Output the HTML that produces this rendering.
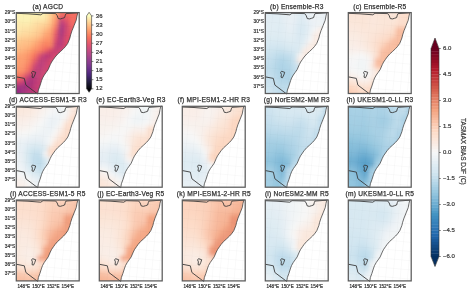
<!DOCTYPE html>
<html><head><meta charset="utf-8"><title>TASMAX bias</title><style>
html,body{margin:0;padding:0;background:#fff;}
body{width:470px;height:290px;position:relative;overflow:hidden;font-family:"Liberation Sans",sans-serif;color:#333;}
svg.ov{position:absolute;left:0;top:0;width:470px;height:290px;}
#wrap{position:absolute;left:0;top:0;width:470px;height:290px;background:#fff;filter:blur(0.3px);}
.t{position:absolute;width:120px;text-align:center;font-size:6.6px;line-height:8px;white-space:nowrap;color:#333;letter-spacing:0.25px;text-indent:0.25px;-webkit-text-stroke:0.25px #333;}
.ll{position:absolute;width:30px;text-align:right;font-size:4.8px;line-height:6px;white-space:nowrap;-webkit-text-stroke:0.2px #333;}
.lo{position:absolute;width:30px;text-align:center;font-size:4.6px;line-height:6px;white-space:nowrap;-webkit-text-stroke:0.2px #333;}
.cl{position:absolute;font-size:6px;line-height:7px;white-space:nowrap;-webkit-text-stroke:0.2px #333;}
.cbt{position:absolute;font-size:6.45px;line-height:7px;white-space:nowrap;transform-origin:0 0;transform:rotate(90deg);-webkit-text-stroke:0.2px #333;}
.fr{fill:none;stroke:#5a5a5a;stroke-width:1.25;}
.cbo{fill:none;stroke:#333;stroke-width:0.6;}
.tk{stroke:#333;stroke-width:0.6;fill:none;}
.ln{fill:none;stroke:#333;stroke-width:0.85;stroke-linejoin:round;}
.cst{stroke:#3c3c3c;stroke-width:0.75;}
</style></head><body><div id="wrap">
<svg class="ov" viewBox="0 0 470 290"><defs><clipPath id="land"><polygon points="0.3,0.6 62.2,0.6 61,4 60.2,8.3 58.1,13.5 56,18.7 54.6,23 53.9,26 51.8,31.3 49.5,34.5 47.59,36.6 44.52,39.5 41.7,42 39.1,45 37.5,47.3 35.6,50 34.3,52.6 32.2,57.5 30.1,60.5 28.3,63 26.6,66 25.6,68.6 23.9,74 22.4,78 21.7,82 21.7,81.5 0.3,81.5"/></clipPath><clipPath id="frc"><rect x="0.3" y="0.6" width="62.9" height="80.9"/></clipPath><filter id="bl" x="-0.1" y="-0.1" width="1.2" height="1.2"><feGaussianBlur stdDeviation="1.9"/></filter><clipPath id="ocean"><polygon points="62.2,0.6 63.2,0.6 63.2,81.5 21.7,81.5 21.7,82 22.4,78 23.9,74 25.6,68.6 26.6,66 28.3,63 30.1,60.5 32.2,57.5 34.3,52.6 35.6,50 37.5,47.3 39.1,45 41.7,42 44.52,39.5 47.59,36.6 49.5,34.5 51.8,31.3 53.9,26 54.6,23 56,18.7 58.1,13.5 60.2,8.3 61,4"/></clipPath><path id="grd" clip-path="url(#land)" d="M-1 0.41 L65 6.35M-1 9.61 L65 15.55M-1 18.81 L65 24.75M-1 28.01 L65 33.95M-1 37.21 L65 43.15M-1 46.41 L65 52.35M-1 55.61 L65 61.55M-1 64.81 L65 70.75M-1 74.01 L65 79.95M-1 83.21 L65 89.15M-6.99 83L0.66 -1M0.36 83L8.01 -1M7.71 83L15.36 -1M15.06 83L22.71 -1M22.41 83L30.06 -1M29.76 83L37.41 -1M37.11 83L44.76 -1M44.46 83L52.11 -1M51.81 83L59.46 -1M59.16 83L66.81 -1M66.51 83L74.16 -1" stroke="#000" stroke-opacity="0.04" stroke-width="0.45" fill="none"/><path id="grdo" clip-path="url(#ocean)" d="M-1 0.41 L65 6.35M-1 9.61 L65 15.55M-1 18.81 L65 24.75M-1 28.01 L65 33.95M-1 37.21 L65 43.15M-1 46.41 L65 52.35M-1 55.61 L65 61.55M-1 64.81 L65 70.75M-1 74.01 L65 79.95M-1 83.21 L65 89.15M-6.99 83L0.66 -1M0.36 83L8.01 -1M7.71 83L15.36 -1M15.06 83L22.71 -1M22.41 83L30.06 -1M29.76 83L37.41 -1M37.11 83L44.76 -1M44.46 83L52.11 -1M51.81 83L59.46 -1M59.16 83L66.81 -1M66.51 83L74.16 -1" stroke="#000" stroke-opacity="0.06" stroke-width="0.45" fill="none"/><g id="lines"><polyline class="ln cst" points="62.2,0 61.8,0.6 61,4 60.2,8.3 58.1,13.5 56,18.7 54.6,23 53.9,26 51.8,31.3 49.5,34.5 47.59,36.6 44.52,39.5 41.7,42 39.1,45 37.5,47.3 35.6,50 34.3,52.6 32.2,57.5 30.1,60.5 28.3,63 26.6,66 25.6,68.6 23.9,74 22.4,78 21.7,82"/><polyline class="ln" points="0,1.3 12,1.8 24.8,2.8 27,1.3 39.7,1.6 41.2,3.6 42.3,6.6 44.5,6.9 46.5,6.3 48.6,5.6 49.3,3.2 50,1.6 55,1.3 61.5,0.8"/><polyline class="ln" points="0,64.8 8.3,66.4 9.9,73.1 15,77 21.7,82"/><polygon class="ln" points="16.5,59.3 19.7,60.3 18.8,63 17.5,65.7 16,65.2 16.4,62.5 15.6,60.5"/></g></defs><g transform="translate(16 12)"><g clip-path="url(#land)"><g filter="url(#bl)"><g transform="scale(5.2917 5.1250)"><rect x="-1" y="-1" width="1.05" height="1.05" fill="#fcf2b4"/><rect x="0" y="-1" width="1.05" height="1.05" fill="#fcf2b4"/><rect x="1" y="-1" width="1.05" height="1.05" fill="#fcf2b4"/><rect x="2" y="-1" width="1.05" height="1.05" fill="#fcf2b4"/><rect x="3" y="-1" width="1.05" height="1.05" fill="#fcf2b4"/><rect x="4" y="-1" width="1.05" height="1.05" fill="#fcf2b4"/><rect x="5" y="-1" width="1.05" height="1.05" fill="#fdeeb0"/><rect x="6" y="-1" width="1.05" height="1.05" fill="#fed194"/><rect x="7" y="-1" width="1.05" height="1.05" fill="#fea975"/><rect x="8" y="-1" width="1.05" height="1.05" fill="#f46b5e"/><rect x="9" y="-1" width="1.05" height="1.05" fill="#f46b5e"/><rect x="10" y="-1" width="1.05" height="1.05" fill="#f46b5e"/><rect x="11" y="-1" width="1.05" height="1.05" fill="#f46b5e"/><rect x="12" y="-1" width="1.05" height="1.05" fill="#f46b5e"/><rect x="-1" y="0" width="1.05" height="1.05" fill="#fcf2b4"/><rect x="0" y="0" width="1.05" height="1.05" fill="#fcf2b4"/><rect x="1" y="0" width="1.05" height="1.05" fill="#fcf2b4"/><rect x="2" y="0" width="1.05" height="1.05" fill="#fcf2b4"/><rect x="3" y="0" width="1.05" height="1.05" fill="#fcf2b4"/><rect x="4" y="0" width="1.05" height="1.05" fill="#fcf2b4"/><rect x="5" y="0" width="1.05" height="1.05" fill="#fdeeb0"/><rect x="6" y="0" width="1.05" height="1.05" fill="#fed194"/><rect x="7" y="0" width="1.05" height="1.05" fill="#fea975"/><rect x="8" y="0" width="1.05" height="1.05" fill="#f46b5e"/><rect x="9" y="0" width="1.05" height="1.05" fill="#f46b5e"/><rect x="10" y="0" width="1.05" height="1.05" fill="#f46b5e"/><rect x="11" y="0" width="1.05" height="1.05" fill="#f46b5e"/><rect x="12" y="0" width="1.05" height="1.05" fill="#f46b5e"/><rect x="-1" y="1" width="1.05" height="1.05" fill="#fcf2b4"/><rect x="0" y="1" width="1.05" height="1.05" fill="#fcf2b4"/><rect x="1" y="1" width="1.05" height="1.05" fill="#fcf2b4"/><rect x="2" y="1" width="1.05" height="1.05" fill="#fcf2b4"/><rect x="3" y="1" width="1.05" height="1.05" fill="#fde8aa"/><rect x="4" y="1" width="1.05" height="1.05" fill="#fde8aa"/><rect x="5" y="1" width="1.05" height="1.05" fill="#fde4a7"/><rect x="6" y="1" width="1.05" height="1.05" fill="#fec78c"/><rect x="7" y="1" width="1.05" height="1.05" fill="#fd9569"/><rect x="8" y="1" width="1.05" height="1.05" fill="#c73e72"/><rect x="9" y="1" width="1.05" height="1.05" fill="#e45365"/><rect x="10" y="1" width="1.05" height="1.05" fill="#f46b5e"/><rect x="11" y="1" width="1.05" height="1.05" fill="#f46b5e"/><rect x="12" y="1" width="1.05" height="1.05" fill="#f46b5e"/><rect x="-1" y="2" width="1.05" height="1.05" fill="#fde8aa"/><rect x="0" y="2" width="1.05" height="1.05" fill="#fde8aa"/><rect x="1" y="2" width="1.05" height="1.05" fill="#fde8aa"/><rect x="2" y="2" width="1.05" height="1.05" fill="#fde8aa"/><rect x="3" y="2" width="1.05" height="1.05" fill="#fddea1"/><rect x="4" y="2" width="1.05" height="1.05" fill="#fed598"/><rect x="5" y="2" width="1.05" height="1.05" fill="#fed194"/><rect x="6" y="2" width="1.05" height="1.05" fill="#febd84"/><rect x="7" y="2" width="1.05" height="1.05" fill="#fa8262"/><rect x="8" y="2" width="1.05" height="1.05" fill="#ae347b"/><rect x="9" y="2" width="1.05" height="1.05" fill="#cf426e"/><rect x="10" y="2" width="1.05" height="1.05" fill="#ef6360"/><rect x="11" y="2" width="1.05" height="1.05" fill="#ef6360"/><rect x="12" y="2" width="1.05" height="1.05" fill="#ef6360"/><rect x="-1" y="3" width="1.05" height="1.05" fill="#fde8aa"/><rect x="0" y="3" width="1.05" height="1.05" fill="#fde8aa"/><rect x="1" y="3" width="1.05" height="1.05" fill="#fddea1"/><rect x="2" y="3" width="1.05" height="1.05" fill="#fddea1"/><rect x="3" y="3" width="1.05" height="1.05" fill="#fed598"/><rect x="4" y="3" width="1.05" height="1.05" fill="#fecb8f"/><rect x="5" y="3" width="1.05" height="1.05" fill="#feb981"/><rect x="6" y="3" width="1.05" height="1.05" fill="#fea572"/><rect x="7" y="3" width="1.05" height="1.05" fill="#ef6360"/><rect x="8" y="3" width="1.05" height="1.05" fill="#9c2e7e"/><rect x="9" y="3" width="1.05" height="1.05" fill="#cf426e"/><rect x="10" y="3" width="1.05" height="1.05" fill="#e95b62"/><rect x="11" y="3" width="1.05" height="1.05" fill="#e95b62"/><rect x="12" y="3" width="1.05" height="1.05" fill="#e95b62"/><rect x="-1" y="4" width="1.05" height="1.05" fill="#fddea1"/><rect x="0" y="4" width="1.05" height="1.05" fill="#fddea1"/><rect x="1" y="4" width="1.05" height="1.05" fill="#fed598"/><rect x="2" y="4" width="1.05" height="1.05" fill="#fed598"/><rect x="3" y="4" width="1.05" height="1.05" fill="#fecb8f"/><rect x="4" y="4" width="1.05" height="1.05" fill="#fec187"/><rect x="5" y="4" width="1.05" height="1.05" fill="#fea572"/><rect x="6" y="4" width="1.05" height="1.05" fill="#fd9b6c"/><rect x="7" y="4" width="1.05" height="1.05" fill="#e45365"/><rect x="8" y="4" width="1.05" height="1.05" fill="#a5317c"/><rect x="9" y="4" width="1.05" height="1.05" fill="#d8466b"/><rect x="10" y="4" width="1.05" height="1.05" fill="#e45365"/><rect x="11" y="4" width="1.05" height="1.05" fill="#e45365"/><rect x="12" y="4" width="1.05" height="1.05" fill="#e45365"/><rect x="-1" y="5" width="1.05" height="1.05" fill="#fecd90"/><rect x="0" y="5" width="1.05" height="1.05" fill="#fecd90"/><rect x="1" y="5" width="1.05" height="1.05" fill="#fec389"/><rect x="2" y="5" width="1.05" height="1.05" fill="#fec389"/><rect x="3" y="5" width="1.05" height="1.05" fill="#feb981"/><rect x="4" y="5" width="1.05" height="1.05" fill="#fea572"/><rect x="5" y="5" width="1.05" height="1.05" fill="#fc9168"/><rect x="6" y="5" width="1.05" height="1.05" fill="#fc9168"/><rect x="7" y="5" width="1.05" height="1.05" fill="#d8466b"/><rect x="8" y="5" width="1.05" height="1.05" fill="#ae347b"/><rect x="9" y="5" width="1.05" height="1.05" fill="#df4b68"/><rect x="10" y="5" width="1.05" height="1.05" fill="#df4b68"/><rect x="11" y="5" width="1.05" height="1.05" fill="#df4b68"/><rect x="12" y="5" width="1.05" height="1.05" fill="#df4b68"/><rect x="-1" y="6" width="1.05" height="1.05" fill="#fec389"/><rect x="0" y="6" width="1.05" height="1.05" fill="#fec389"/><rect x="1" y="6" width="1.05" height="1.05" fill="#feb981"/><rect x="2" y="6" width="1.05" height="1.05" fill="#feb981"/><rect x="3" y="6" width="1.05" height="1.05" fill="#fea572"/><rect x="4" y="6" width="1.05" height="1.05" fill="#fc9168"/><rect x="5" y="6" width="1.05" height="1.05" fill="#f97e61"/><rect x="6" y="6" width="1.05" height="1.05" fill="#fa8764"/><rect x="7" y="6" width="1.05" height="1.05" fill="#c73e72"/><rect x="8" y="6" width="1.05" height="1.05" fill="#b73779"/><rect x="9" y="6" width="1.05" height="1.05" fill="#df4b68"/><rect x="10" y="6" width="1.05" height="1.05" fill="#df4b68"/><rect x="11" y="6" width="1.05" height="1.05" fill="#df4b68"/><rect x="12" y="6" width="1.05" height="1.05" fill="#df4b68"/><rect x="-1" y="7" width="1.05" height="1.05" fill="#feb981"/><rect x="0" y="7" width="1.05" height="1.05" fill="#feb981"/><rect x="1" y="7" width="1.05" height="1.05" fill="#feaf79"/><rect x="2" y="7" width="1.05" height="1.05" fill="#fea572"/><rect x="3" y="7" width="1.05" height="1.05" fill="#fc9168"/><rect x="4" y="7" width="1.05" height="1.05" fill="#f97e61"/><rect x="5" y="7" width="1.05" height="1.05" fill="#ef6360"/><rect x="6" y="7" width="1.05" height="1.05" fill="#d8466b"/><rect x="7" y="7" width="1.05" height="1.05" fill="#bf3b75"/><rect x="8" y="7" width="1.05" height="1.05" fill="#cf426e"/><rect x="9" y="7" width="1.05" height="1.05" fill="#df4b68"/><rect x="10" y="7" width="1.05" height="1.05" fill="#df4b68"/><rect x="11" y="7" width="1.05" height="1.05" fill="#df4b68"/><rect x="12" y="7" width="1.05" height="1.05" fill="#df4b68"/><rect x="-1" y="8" width="1.05" height="1.05" fill="#fea572"/><rect x="0" y="8" width="1.05" height="1.05" fill="#fea572"/><rect x="1" y="8" width="1.05" height="1.05" fill="#fd9b6c"/><rect x="2" y="8" width="1.05" height="1.05" fill="#fc9168"/><rect x="3" y="8" width="1.05" height="1.05" fill="#f8745d"/><rect x="4" y="8" width="1.05" height="1.05" fill="#d8466b"/><rect x="5" y="8" width="1.05" height="1.05" fill="#b73779"/><rect x="6" y="8" width="1.05" height="1.05" fill="#bf3b75"/><rect x="7" y="8" width="1.05" height="1.05" fill="#d8466b"/><rect x="8" y="8" width="1.05" height="1.05" fill="#df4b68"/><rect x="9" y="8" width="1.05" height="1.05" fill="#df4b68"/><rect x="10" y="8" width="1.05" height="1.05" fill="#df4b68"/><rect x="11" y="8" width="1.05" height="1.05" fill="#df4b68"/><rect x="12" y="8" width="1.05" height="1.05" fill="#df4b68"/><rect x="-1" y="9" width="1.05" height="1.05" fill="#fd9b6c"/><rect x="0" y="9" width="1.05" height="1.05" fill="#fd9b6c"/><rect x="1" y="9" width="1.05" height="1.05" fill="#fd9b6c"/><rect x="2" y="9" width="1.05" height="1.05" fill="#fa8864"/><rect x="3" y="9" width="1.05" height="1.05" fill="#e95b62"/><rect x="4" y="9" width="1.05" height="1.05" fill="#bf3b75"/><rect x="5" y="9" width="1.05" height="1.05" fill="#bf3b75"/><rect x="6" y="9" width="1.05" height="1.05" fill="#d8466b"/><rect x="7" y="9" width="1.05" height="1.05" fill="#d8466b"/><rect x="8" y="9" width="1.05" height="1.05" fill="#df4b68"/><rect x="9" y="9" width="1.05" height="1.05" fill="#df4b68"/><rect x="10" y="9" width="1.05" height="1.05" fill="#df4b68"/><rect x="11" y="9" width="1.05" height="1.05" fill="#df4b68"/><rect x="12" y="9" width="1.05" height="1.05" fill="#df4b68"/><rect x="-1" y="10" width="1.05" height="1.05" fill="#fd9b6c"/><rect x="0" y="10" width="1.05" height="1.05" fill="#fd9b6c"/><rect x="1" y="10" width="1.05" height="1.05" fill="#fc9168"/><rect x="2" y="10" width="1.05" height="1.05" fill="#f8745d"/><rect x="3" y="10" width="1.05" height="1.05" fill="#cf426e"/><rect x="4" y="10" width="1.05" height="1.05" fill="#b73779"/><rect x="5" y="10" width="1.05" height="1.05" fill="#c73e72"/><rect x="6" y="10" width="1.05" height="1.05" fill="#d8466b"/><rect x="7" y="10" width="1.05" height="1.05" fill="#d8466b"/><rect x="8" y="10" width="1.05" height="1.05" fill="#df4b68"/><rect x="9" y="10" width="1.05" height="1.05" fill="#df4b68"/><rect x="10" y="10" width="1.05" height="1.05" fill="#df4b68"/><rect x="11" y="10" width="1.05" height="1.05" fill="#df4b68"/><rect x="12" y="10" width="1.05" height="1.05" fill="#df4b68"/><rect x="-1" y="11" width="1.05" height="1.05" fill="#fc9168"/><rect x="0" y="11" width="1.05" height="1.05" fill="#fc9168"/><rect x="1" y="11" width="1.05" height="1.05" fill="#fa8864"/><rect x="2" y="11" width="1.05" height="1.05" fill="#ef6360"/><rect x="3" y="11" width="1.05" height="1.05" fill="#bf3b75"/><rect x="4" y="11" width="1.05" height="1.05" fill="#bf3b75"/><rect x="5" y="11" width="1.05" height="1.05" fill="#cf426e"/><rect x="6" y="11" width="1.05" height="1.05" fill="#cf426e"/><rect x="7" y="11" width="1.05" height="1.05" fill="#cf426e"/><rect x="8" y="11" width="1.05" height="1.05" fill="#d8466b"/><rect x="9" y="11" width="1.05" height="1.05" fill="#d8466b"/><rect x="10" y="11" width="1.05" height="1.05" fill="#d8466b"/><rect x="11" y="11" width="1.05" height="1.05" fill="#d8466b"/><rect x="12" y="11" width="1.05" height="1.05" fill="#d8466b"/><rect x="-1" y="12" width="1.05" height="1.05" fill="#f8745d"/><rect x="0" y="12" width="1.05" height="1.05" fill="#f8745d"/><rect x="1" y="12" width="1.05" height="1.05" fill="#e95b62"/><rect x="2" y="12" width="1.05" height="1.05" fill="#bf3b75"/><rect x="3" y="12" width="1.05" height="1.05" fill="#b73779"/><rect x="4" y="12" width="1.05" height="1.05" fill="#c73e72"/><rect x="5" y="12" width="1.05" height="1.05" fill="#cf426e"/><rect x="6" y="12" width="1.05" height="1.05" fill="#cf426e"/><rect x="7" y="12" width="1.05" height="1.05" fill="#cf426e"/><rect x="8" y="12" width="1.05" height="1.05" fill="#d8466b"/><rect x="9" y="12" width="1.05" height="1.05" fill="#d8466b"/><rect x="10" y="12" width="1.05" height="1.05" fill="#d8466b"/><rect x="11" y="12" width="1.05" height="1.05" fill="#d8466b"/><rect x="12" y="12" width="1.05" height="1.05" fill="#d8466b"/><rect x="-1" y="13" width="1.05" height="1.05" fill="#df4b68"/><rect x="0" y="13" width="1.05" height="1.05" fill="#df4b68"/><rect x="1" y="13" width="1.05" height="1.05" fill="#c73e72"/><rect x="2" y="13" width="1.05" height="1.05" fill="#a5317c"/><rect x="3" y="13" width="1.05" height="1.05" fill="#b73779"/><rect x="4" y="13" width="1.05" height="1.05" fill="#c73e72"/><rect x="5" y="13" width="1.05" height="1.05" fill="#cf426e"/><rect x="6" y="13" width="1.05" height="1.05" fill="#cf426e"/><rect x="7" y="13" width="1.05" height="1.05" fill="#cf426e"/><rect x="8" y="13" width="1.05" height="1.05" fill="#cf426e"/><rect x="9" y="13" width="1.05" height="1.05" fill="#cf426e"/><rect x="10" y="13" width="1.05" height="1.05" fill="#cf426e"/><rect x="11" y="13" width="1.05" height="1.05" fill="#cf426e"/><rect x="12" y="13" width="1.05" height="1.05" fill="#cf426e"/><rect x="-1" y="14" width="1.05" height="1.05" fill="#a5317c"/><rect x="0" y="14" width="1.05" height="1.05" fill="#a5317c"/><rect x="1" y="14" width="1.05" height="1.05" fill="#9c2e7e"/><rect x="2" y="14" width="1.05" height="1.05" fill="#a5317c"/><rect x="3" y="14" width="1.05" height="1.05" fill="#bf3b75"/><rect x="4" y="14" width="1.05" height="1.05" fill="#c73e72"/><rect x="5" y="14" width="1.05" height="1.05" fill="#c73e72"/><rect x="6" y="14" width="1.05" height="1.05" fill="#c73e72"/><rect x="7" y="14" width="1.05" height="1.05" fill="#c73e72"/><rect x="8" y="14" width="1.05" height="1.05" fill="#cf426e"/><rect x="9" y="14" width="1.05" height="1.05" fill="#cf426e"/><rect x="10" y="14" width="1.05" height="1.05" fill="#cf426e"/><rect x="11" y="14" width="1.05" height="1.05" fill="#cf426e"/><rect x="12" y="14" width="1.05" height="1.05" fill="#cf426e"/><rect x="-1" y="15" width="1.05" height="1.05" fill="#932b80"/><rect x="0" y="15" width="1.05" height="1.05" fill="#932b80"/><rect x="1" y="15" width="1.05" height="1.05" fill="#a5317c"/><rect x="2" y="15" width="1.05" height="1.05" fill="#b73779"/><rect x="3" y="15" width="1.05" height="1.05" fill="#bf3b75"/><rect x="4" y="15" width="1.05" height="1.05" fill="#c73e72"/><rect x="5" y="15" width="1.05" height="1.05" fill="#c73e72"/><rect x="6" y="15" width="1.05" height="1.05" fill="#c73e72"/><rect x="7" y="15" width="1.05" height="1.05" fill="#c73e72"/><rect x="8" y="15" width="1.05" height="1.05" fill="#cf426e"/><rect x="9" y="15" width="1.05" height="1.05" fill="#cf426e"/><rect x="10" y="15" width="1.05" height="1.05" fill="#cf426e"/><rect x="11" y="15" width="1.05" height="1.05" fill="#cf426e"/><rect x="12" y="15" width="1.05" height="1.05" fill="#cf426e"/><rect x="-1" y="16" width="1.05" height="1.05" fill="#932b80"/><rect x="0" y="16" width="1.05" height="1.05" fill="#932b80"/><rect x="1" y="16" width="1.05" height="1.05" fill="#a5317c"/><rect x="2" y="16" width="1.05" height="1.05" fill="#b73779"/><rect x="3" y="16" width="1.05" height="1.05" fill="#bf3b75"/><rect x="4" y="16" width="1.05" height="1.05" fill="#c73e72"/><rect x="5" y="16" width="1.05" height="1.05" fill="#c73e72"/><rect x="6" y="16" width="1.05" height="1.05" fill="#c73e72"/><rect x="7" y="16" width="1.05" height="1.05" fill="#c73e72"/><rect x="8" y="16" width="1.05" height="1.05" fill="#cf426e"/><rect x="9" y="16" width="1.05" height="1.05" fill="#cf426e"/><rect x="10" y="16" width="1.05" height="1.05" fill="#cf426e"/><rect x="11" y="16" width="1.05" height="1.05" fill="#cf426e"/><rect x="12" y="16" width="1.05" height="1.05" fill="#cf426e"/></g></g></g><use href="#grd"/><use href="#grdo"/><use href="#lines"/><rect x="0.3" y="0.6" width="62.9" height="80.9" class="fr"/></g><g transform="translate(265 12)"><g clip-path="url(#land)"><g filter="url(#bl)"><g transform="scale(5.2917 5.1250)"><rect x="-1" y="-1" width="1.05" height="1.05" fill="#e1ecf3"/><rect x="0" y="-1" width="1.05" height="1.05" fill="#e1ecf3"/><rect x="1" y="-1" width="1.05" height="1.05" fill="#e1ecf3"/><rect x="2" y="-1" width="1.05" height="1.05" fill="#e1ecf3"/><rect x="3" y="-1" width="1.05" height="1.05" fill="#e4eef3"/><rect x="4" y="-1" width="1.05" height="1.05" fill="#e9f0f4"/><rect x="5" y="-1" width="1.05" height="1.05" fill="#e8f0f4"/><rect x="6" y="-1" width="1.05" height="1.05" fill="#e0ecf3"/><rect x="7" y="-1" width="1.05" height="1.05" fill="#e1ecf3"/><rect x="8" y="-1" width="1.05" height="1.05" fill="#eaf1f5"/><rect x="9" y="-1" width="1.05" height="1.05" fill="#eef3f5"/><rect x="10" y="-1" width="1.05" height="1.05" fill="#ecf2f5"/><rect x="11" y="-1" width="1.05" height="1.05" fill="#eaf1f5"/><rect x="12" y="-1" width="1.05" height="1.05" fill="#eaf1f5"/><rect x="-1" y="0" width="1.05" height="1.05" fill="#e1ecf3"/><rect x="0" y="0" width="1.05" height="1.05" fill="#e1ecf3"/><rect x="1" y="0" width="1.05" height="1.05" fill="#e1ecf3"/><rect x="2" y="0" width="1.05" height="1.05" fill="#e1ecf3"/><rect x="3" y="0" width="1.05" height="1.05" fill="#e4eef3"/><rect x="4" y="0" width="1.05" height="1.05" fill="#e9f0f4"/><rect x="5" y="0" width="1.05" height="1.05" fill="#e8f0f4"/><rect x="6" y="0" width="1.05" height="1.05" fill="#e0ecf3"/><rect x="7" y="0" width="1.05" height="1.05" fill="#e1ecf3"/><rect x="8" y="0" width="1.05" height="1.05" fill="#eaf1f5"/><rect x="9" y="0" width="1.05" height="1.05" fill="#eef3f5"/><rect x="10" y="0" width="1.05" height="1.05" fill="#ecf2f5"/><rect x="11" y="0" width="1.05" height="1.05" fill="#eaf1f5"/><rect x="12" y="0" width="1.05" height="1.05" fill="#eaf1f5"/><rect x="-1" y="1" width="1.05" height="1.05" fill="#e1ecf3"/><rect x="0" y="1" width="1.05" height="1.05" fill="#e1ecf3"/><rect x="1" y="1" width="1.05" height="1.05" fill="#e1ecf3"/><rect x="2" y="1" width="1.05" height="1.05" fill="#e0ecf3"/><rect x="3" y="1" width="1.05" height="1.05" fill="#e3edf3"/><rect x="4" y="1" width="1.05" height="1.05" fill="#e8f0f4"/><rect x="5" y="1" width="1.05" height="1.05" fill="#e7eff4"/><rect x="6" y="1" width="1.05" height="1.05" fill="#deebf2"/><rect x="7" y="1" width="1.05" height="1.05" fill="#dfebf3"/><rect x="8" y="1" width="1.05" height="1.05" fill="#e9f0f4"/><rect x="9" y="1" width="1.05" height="1.05" fill="#edf2f5"/><rect x="10" y="1" width="1.05" height="1.05" fill="#ecf2f5"/><rect x="11" y="1" width="1.05" height="1.05" fill="#ebf1f5"/><rect x="12" y="1" width="1.05" height="1.05" fill="#ebf1f5"/><rect x="-1" y="2" width="1.05" height="1.05" fill="#e1ecf3"/><rect x="0" y="2" width="1.05" height="1.05" fill="#e1ecf3"/><rect x="1" y="2" width="1.05" height="1.05" fill="#e0ecf3"/><rect x="2" y="2" width="1.05" height="1.05" fill="#dfecf3"/><rect x="3" y="2" width="1.05" height="1.05" fill="#e1edf3"/><rect x="4" y="2" width="1.05" height="1.05" fill="#e7eff4"/><rect x="5" y="2" width="1.05" height="1.05" fill="#e4eef4"/><rect x="6" y="2" width="1.05" height="1.05" fill="#dae9f2"/><rect x="7" y="2" width="1.05" height="1.05" fill="#dae9f2"/><rect x="8" y="2" width="1.05" height="1.05" fill="#e5eef4"/><rect x="9" y="2" width="1.05" height="1.05" fill="#ebf1f5"/><rect x="10" y="2" width="1.05" height="1.05" fill="#ecf2f5"/><rect x="11" y="2" width="1.05" height="1.05" fill="#edf2f5"/><rect x="12" y="2" width="1.05" height="1.05" fill="#edf2f5"/><rect x="-1" y="3" width="1.05" height="1.05" fill="#e0ecf3"/><rect x="0" y="3" width="1.05" height="1.05" fill="#e0ecf3"/><rect x="1" y="3" width="1.05" height="1.05" fill="#dfecf3"/><rect x="2" y="3" width="1.05" height="1.05" fill="#deebf2"/><rect x="3" y="3" width="1.05" height="1.05" fill="#e0ecf3"/><rect x="4" y="3" width="1.05" height="1.05" fill="#e5eff4"/><rect x="5" y="3" width="1.05" height="1.05" fill="#e2edf3"/><rect x="6" y="3" width="1.05" height="1.05" fill="#d8e8f1"/><rect x="7" y="3" width="1.05" height="1.05" fill="#d9e9f2"/><rect x="8" y="3" width="1.05" height="1.05" fill="#e6eff4"/><rect x="9" y="3" width="1.05" height="1.05" fill="#f6f6f7"/><rect x="10" y="3" width="1.05" height="1.05" fill="#f9ece4"/><rect x="11" y="3" width="1.05" height="1.05" fill="#f9ede6"/><rect x="12" y="3" width="1.05" height="1.05" fill="#f9ede6"/><rect x="-1" y="4" width="1.05" height="1.05" fill="#deebf2"/><rect x="0" y="4" width="1.05" height="1.05" fill="#deebf2"/><rect x="1" y="4" width="1.05" height="1.05" fill="#deebf2"/><rect x="2" y="4" width="1.05" height="1.05" fill="#deebf2"/><rect x="3" y="4" width="1.05" height="1.05" fill="#e0ecf3"/><rect x="4" y="4" width="1.05" height="1.05" fill="#e3eef3"/><rect x="5" y="4" width="1.05" height="1.05" fill="#e1ecf3"/><rect x="6" y="4" width="1.05" height="1.05" fill="#d8e8f1"/><rect x="7" y="4" width="1.05" height="1.05" fill="#dceaf2"/><rect x="8" y="4" width="1.05" height="1.05" fill="#ecf2f5"/><rect x="9" y="4" width="1.05" height="1.05" fill="#f9ece5"/><rect x="10" y="4" width="1.05" height="1.05" fill="#faebe3"/><rect x="11" y="4" width="1.05" height="1.05" fill="#f8f2ee"/><rect x="12" y="4" width="1.05" height="1.05" fill="#f8f2ee"/><rect x="-1" y="5" width="1.05" height="1.05" fill="#daeaf2"/><rect x="0" y="5" width="1.05" height="1.05" fill="#daeaf2"/><rect x="1" y="5" width="1.05" height="1.05" fill="#daeaf2"/><rect x="2" y="5" width="1.05" height="1.05" fill="#daeaf2"/><rect x="3" y="5" width="1.05" height="1.05" fill="#dceaf2"/><rect x="4" y="5" width="1.05" height="1.05" fill="#dfecf3"/><rect x="5" y="5" width="1.05" height="1.05" fill="#deebf2"/><rect x="6" y="5" width="1.05" height="1.05" fill="#dae9f2"/><rect x="7" y="5" width="1.05" height="1.05" fill="#e0ecf3"/><rect x="8" y="5" width="1.05" height="1.05" fill="#f3f5f6"/><rect x="9" y="5" width="1.05" height="1.05" fill="#faebe3"/><rect x="10" y="5" width="1.05" height="1.05" fill="#faebe3"/><rect x="11" y="5" width="1.05" height="1.05" fill="#f9efe9"/><rect x="12" y="5" width="1.05" height="1.05" fill="#f9efe9"/><rect x="-1" y="6" width="1.05" height="1.05" fill="#d4e6f1"/><rect x="0" y="6" width="1.05" height="1.05" fill="#d4e6f1"/><rect x="1" y="6" width="1.05" height="1.05" fill="#d4e6f1"/><rect x="2" y="6" width="1.05" height="1.05" fill="#d4e6f1"/><rect x="3" y="6" width="1.05" height="1.05" fill="#d6e7f1"/><rect x="4" y="6" width="1.05" height="1.05" fill="#d9e9f1"/><rect x="5" y="6" width="1.05" height="1.05" fill="#dbeaf2"/><rect x="6" y="6" width="1.05" height="1.05" fill="#ddebf2"/><rect x="7" y="6" width="1.05" height="1.05" fill="#e8f0f4"/><rect x="8" y="6" width="1.05" height="1.05" fill="#f9ece4"/><rect x="9" y="6" width="1.05" height="1.05" fill="#faebe3"/><rect x="10" y="6" width="1.05" height="1.05" fill="#f9ebe3"/><rect x="11" y="6" width="1.05" height="1.05" fill="#f9ece5"/><rect x="12" y="6" width="1.05" height="1.05" fill="#f9ece5"/><rect x="-1" y="7" width="1.05" height="1.05" fill="#cee4ef"/><rect x="0" y="7" width="1.05" height="1.05" fill="#cee4ef"/><rect x="1" y="7" width="1.05" height="1.05" fill="#cde3ef"/><rect x="2" y="7" width="1.05" height="1.05" fill="#cae2ee"/><rect x="3" y="7" width="1.05" height="1.05" fill="#cce2ee"/><rect x="4" y="7" width="1.05" height="1.05" fill="#d1e5f0"/><rect x="5" y="7" width="1.05" height="1.05" fill="#d6e7f1"/><rect x="6" y="7" width="1.05" height="1.05" fill="#dbeaf2"/><rect x="7" y="7" width="1.05" height="1.05" fill="#f9ebe3"/><rect x="8" y="7" width="1.05" height="1.05" fill="#faebe3"/><rect x="9" y="7" width="1.05" height="1.05" fill="#faebe3"/><rect x="10" y="7" width="1.05" height="1.05" fill="#f9efe8"/><rect x="11" y="7" width="1.05" height="1.05" fill="#f9eee8"/><rect x="12" y="7" width="1.05" height="1.05" fill="#f9eee8"/><rect x="-1" y="8" width="1.05" height="1.05" fill="#c9e1ee"/><rect x="0" y="8" width="1.05" height="1.05" fill="#c9e1ee"/><rect x="1" y="8" width="1.05" height="1.05" fill="#c5dfed"/><rect x="2" y="8" width="1.05" height="1.05" fill="#bddbea"/><rect x="3" y="8" width="1.05" height="1.05" fill="#bcdaea"/><rect x="4" y="8" width="1.05" height="1.05" fill="#c1ddec"/><rect x="5" y="8" width="1.05" height="1.05" fill="#cbe2ee"/><rect x="6" y="8" width="1.05" height="1.05" fill="#f7f5f4"/><rect x="7" y="8" width="1.05" height="1.05" fill="#faebe3"/><rect x="8" y="8" width="1.05" height="1.05" fill="#faebe3"/><rect x="9" y="8" width="1.05" height="1.05" fill="#f3f5f6"/><rect x="10" y="8" width="1.05" height="1.05" fill="#f7f6f6"/><rect x="11" y="8" width="1.05" height="1.05" fill="#f8f4f2"/><rect x="12" y="8" width="1.05" height="1.05" fill="#f8f4f2"/><rect x="-1" y="9" width="1.05" height="1.05" fill="#c4deec"/><rect x="0" y="9" width="1.05" height="1.05" fill="#c4deec"/><rect x="1" y="9" width="1.05" height="1.05" fill="#bfdceb"/><rect x="2" y="9" width="1.05" height="1.05" fill="#b4d6e8"/><rect x="3" y="9" width="1.05" height="1.05" fill="#b1d5e7"/><rect x="4" y="9" width="1.05" height="1.05" fill="#b7d8e8"/><rect x="5" y="9" width="1.05" height="1.05" fill="#c7e0ed"/><rect x="6" y="9" width="1.05" height="1.05" fill="#faebe3"/><rect x="7" y="9" width="1.05" height="1.05" fill="#faebe3"/><rect x="8" y="9" width="1.05" height="1.05" fill="#e7eff4"/><rect x="9" y="9" width="1.05" height="1.05" fill="#eef3f5"/><rect x="10" y="9" width="1.05" height="1.05" fill="#f4f6f6"/><rect x="11" y="9" width="1.05" height="1.05" fill="#f7f7f7"/><rect x="12" y="9" width="1.05" height="1.05" fill="#f7f7f7"/><rect x="-1" y="10" width="1.05" height="1.05" fill="#bfdceb"/><rect x="0" y="10" width="1.05" height="1.05" fill="#bfdceb"/><rect x="1" y="10" width="1.05" height="1.05" fill="#b9d9e9"/><rect x="2" y="10" width="1.05" height="1.05" fill="#afd4e6"/><rect x="3" y="10" width="1.05" height="1.05" fill="#acd2e6"/><rect x="4" y="10" width="1.05" height="1.05" fill="#b1d5e7"/><rect x="5" y="10" width="1.05" height="1.05" fill="#c0dceb"/><rect x="6" y="10" width="1.05" height="1.05" fill="#d5e7f1"/><rect x="7" y="10" width="1.05" height="1.05" fill="#e2edf3"/><rect x="8" y="10" width="1.05" height="1.05" fill="#edf2f5"/><rect x="9" y="10" width="1.05" height="1.05" fill="#f4f6f6"/><rect x="10" y="10" width="1.05" height="1.05" fill="#f6f7f7"/><rect x="11" y="10" width="1.05" height="1.05" fill="#f7f7f7"/><rect x="12" y="10" width="1.05" height="1.05" fill="#f7f7f7"/><rect x="-1" y="11" width="1.05" height="1.05" fill="#bfdceb"/><rect x="0" y="11" width="1.05" height="1.05" fill="#bfdceb"/><rect x="1" y="11" width="1.05" height="1.05" fill="#b9d9e9"/><rect x="2" y="11" width="1.05" height="1.05" fill="#afd4e6"/><rect x="3" y="11" width="1.05" height="1.05" fill="#abd2e5"/><rect x="4" y="11" width="1.05" height="1.05" fill="#aed3e6"/><rect x="5" y="11" width="1.05" height="1.05" fill="#bddbea"/><rect x="6" y="11" width="1.05" height="1.05" fill="#d5e7f1"/><rect x="7" y="11" width="1.05" height="1.05" fill="#e4eef4"/><rect x="8" y="11" width="1.05" height="1.05" fill="#f1f4f6"/><rect x="9" y="11" width="1.05" height="1.05" fill="#f7f7f7"/><rect x="10" y="11" width="1.05" height="1.05" fill="#f7f7f7"/><rect x="11" y="11" width="1.05" height="1.05" fill="#f7f7f7"/><rect x="12" y="11" width="1.05" height="1.05" fill="#f7f7f7"/><rect x="-1" y="12" width="1.05" height="1.05" fill="#c4deec"/><rect x="0" y="12" width="1.05" height="1.05" fill="#c4deec"/><rect x="1" y="12" width="1.05" height="1.05" fill="#bfdceb"/><rect x="2" y="12" width="1.05" height="1.05" fill="#b4d6e8"/><rect x="3" y="12" width="1.05" height="1.05" fill="#aed3e6"/><rect x="4" y="12" width="1.05" height="1.05" fill="#abd2e5"/><rect x="5" y="12" width="1.05" height="1.05" fill="#b9d9e9"/><rect x="6" y="12" width="1.05" height="1.05" fill="#d5e7f1"/><rect x="7" y="12" width="1.05" height="1.05" fill="#e4eef4"/><rect x="8" y="12" width="1.05" height="1.05" fill="#f1f4f6"/><rect x="9" y="12" width="1.05" height="1.05" fill="#f7f7f7"/><rect x="10" y="12" width="1.05" height="1.05" fill="#f7f7f7"/><rect x="11" y="12" width="1.05" height="1.05" fill="#f7f7f7"/><rect x="12" y="12" width="1.05" height="1.05" fill="#f7f7f7"/><rect x="-1" y="13" width="1.05" height="1.05" fill="#c9e1ee"/><rect x="0" y="13" width="1.05" height="1.05" fill="#c9e1ee"/><rect x="1" y="13" width="1.05" height="1.05" fill="#c4deec"/><rect x="2" y="13" width="1.05" height="1.05" fill="#b9d9e9"/><rect x="3" y="13" width="1.05" height="1.05" fill="#b3d6e7"/><rect x="4" y="13" width="1.05" height="1.05" fill="#b0d4e7"/><rect x="5" y="13" width="1.05" height="1.05" fill="#bedbea"/><rect x="6" y="13" width="1.05" height="1.05" fill="#d7e8f1"/><rect x="7" y="13" width="1.05" height="1.05" fill="#e6eff4"/><rect x="8" y="13" width="1.05" height="1.05" fill="#f1f4f6"/><rect x="9" y="13" width="1.05" height="1.05" fill="#f7f7f7"/><rect x="10" y="13" width="1.05" height="1.05" fill="#f7f7f7"/><rect x="11" y="13" width="1.05" height="1.05" fill="#f7f7f7"/><rect x="12" y="13" width="1.05" height="1.05" fill="#f7f7f7"/><rect x="-1" y="14" width="1.05" height="1.05" fill="#cee4ef"/><rect x="0" y="14" width="1.05" height="1.05" fill="#cee4ef"/><rect x="1" y="14" width="1.05" height="1.05" fill="#c9e1ee"/><rect x="2" y="14" width="1.05" height="1.05" fill="#bfdceb"/><rect x="3" y="14" width="1.05" height="1.05" fill="#bbdaea"/><rect x="4" y="14" width="1.05" height="1.05" fill="#bddbea"/><rect x="5" y="14" width="1.05" height="1.05" fill="#cbe2ee"/><rect x="6" y="14" width="1.05" height="1.05" fill="#ddebf2"/><rect x="7" y="14" width="1.05" height="1.05" fill="#e9f1f4"/><rect x="8" y="14" width="1.05" height="1.05" fill="#f2f5f6"/><rect x="9" y="14" width="1.05" height="1.05" fill="#f7f7f7"/><rect x="10" y="14" width="1.05" height="1.05" fill="#f7f7f7"/><rect x="11" y="14" width="1.05" height="1.05" fill="#f7f7f7"/><rect x="12" y="14" width="1.05" height="1.05" fill="#f7f7f7"/><rect x="-1" y="15" width="1.05" height="1.05" fill="#d1e5f0"/><rect x="0" y="15" width="1.05" height="1.05" fill="#d1e5f0"/><rect x="1" y="15" width="1.05" height="1.05" fill="#cce2ee"/><rect x="2" y="15" width="1.05" height="1.05" fill="#c1ddec"/><rect x="3" y="15" width="1.05" height="1.05" fill="#bfdceb"/><rect x="4" y="15" width="1.05" height="1.05" fill="#c4deec"/><rect x="5" y="15" width="1.05" height="1.05" fill="#d2e5f0"/><rect x="6" y="15" width="1.05" height="1.05" fill="#e0ecf3"/><rect x="7" y="15" width="1.05" height="1.05" fill="#ebf1f5"/><rect x="8" y="15" width="1.05" height="1.05" fill="#f3f5f6"/><rect x="9" y="15" width="1.05" height="1.05" fill="#f7f7f7"/><rect x="10" y="15" width="1.05" height="1.05" fill="#f7f7f7"/><rect x="11" y="15" width="1.05" height="1.05" fill="#f7f7f7"/><rect x="12" y="15" width="1.05" height="1.05" fill="#f7f7f7"/><rect x="-1" y="16" width="1.05" height="1.05" fill="#d1e5f0"/><rect x="0" y="16" width="1.05" height="1.05" fill="#d1e5f0"/><rect x="1" y="16" width="1.05" height="1.05" fill="#cce2ee"/><rect x="2" y="16" width="1.05" height="1.05" fill="#c1ddec"/><rect x="3" y="16" width="1.05" height="1.05" fill="#bfdceb"/><rect x="4" y="16" width="1.05" height="1.05" fill="#c4deec"/><rect x="5" y="16" width="1.05" height="1.05" fill="#d2e5f0"/><rect x="6" y="16" width="1.05" height="1.05" fill="#e0ecf3"/><rect x="7" y="16" width="1.05" height="1.05" fill="#ebf1f5"/><rect x="8" y="16" width="1.05" height="1.05" fill="#f3f5f6"/><rect x="9" y="16" width="1.05" height="1.05" fill="#f7f7f7"/><rect x="10" y="16" width="1.05" height="1.05" fill="#f7f7f7"/><rect x="11" y="16" width="1.05" height="1.05" fill="#f7f7f7"/><rect x="12" y="16" width="1.05" height="1.05" fill="#f7f7f7"/></g></g></g><use href="#grd"/><use href="#grdo"/><use href="#lines"/><rect x="0.3" y="0.6" width="62.9" height="80.9" class="fr"/></g><g transform="translate(348 12)"><g clip-path="url(#land)"><g filter="url(#bl)"><g transform="scale(5.2917 5.1250)"><rect x="-1" y="-1" width="1.05" height="1.05" fill="#fbe4d7"/><rect x="0" y="-1" width="1.05" height="1.05" fill="#fbe4d7"/><rect x="1" y="-1" width="1.05" height="1.05" fill="#fbe4d7"/><rect x="2" y="-1" width="1.05" height="1.05" fill="#fbe4d7"/><rect x="3" y="-1" width="1.05" height="1.05" fill="#fbe5d8"/><rect x="4" y="-1" width="1.05" height="1.05" fill="#fbe6da"/><rect x="5" y="-1" width="1.05" height="1.05" fill="#fbe6da"/><rect x="6" y="-1" width="1.05" height="1.05" fill="#fbe5d8"/><rect x="7" y="-1" width="1.05" height="1.05" fill="#fbe5d8"/><rect x="8" y="-1" width="1.05" height="1.05" fill="#fbe6da"/><rect x="9" y="-1" width="1.05" height="1.05" fill="#fbe3d5"/><rect x="10" y="-1" width="1.05" height="1.05" fill="#fdddcb"/><rect x="11" y="-1" width="1.05" height="1.05" fill="#fcddcb"/><rect x="12" y="-1" width="1.05" height="1.05" fill="#fcddcb"/><rect x="-1" y="0" width="1.05" height="1.05" fill="#fbe4d7"/><rect x="0" y="0" width="1.05" height="1.05" fill="#fbe4d7"/><rect x="1" y="0" width="1.05" height="1.05" fill="#fbe4d7"/><rect x="2" y="0" width="1.05" height="1.05" fill="#fbe4d7"/><rect x="3" y="0" width="1.05" height="1.05" fill="#fbe5d8"/><rect x="4" y="0" width="1.05" height="1.05" fill="#fbe6da"/><rect x="5" y="0" width="1.05" height="1.05" fill="#fbe6da"/><rect x="6" y="0" width="1.05" height="1.05" fill="#fbe5d8"/><rect x="7" y="0" width="1.05" height="1.05" fill="#fbe5d8"/><rect x="8" y="0" width="1.05" height="1.05" fill="#fbe6da"/><rect x="9" y="0" width="1.05" height="1.05" fill="#fbe3d5"/><rect x="10" y="0" width="1.05" height="1.05" fill="#fdddcb"/><rect x="11" y="0" width="1.05" height="1.05" fill="#fcddcb"/><rect x="12" y="0" width="1.05" height="1.05" fill="#fcddcb"/><rect x="-1" y="1" width="1.05" height="1.05" fill="#fbe5d8"/><rect x="0" y="1" width="1.05" height="1.05" fill="#fbe5d8"/><rect x="1" y="1" width="1.05" height="1.05" fill="#fbe5d8"/><rect x="2" y="1" width="1.05" height="1.05" fill="#fbe4d7"/><rect x="3" y="1" width="1.05" height="1.05" fill="#fbe5d8"/><rect x="4" y="1" width="1.05" height="1.05" fill="#fbe6da"/><rect x="5" y="1" width="1.05" height="1.05" fill="#fbe6da"/><rect x="6" y="1" width="1.05" height="1.05" fill="#fbe5d8"/><rect x="7" y="1" width="1.05" height="1.05" fill="#fbe4d7"/><rect x="8" y="1" width="1.05" height="1.05" fill="#fbe5d8"/><rect x="9" y="1" width="1.05" height="1.05" fill="#fce2d2"/><rect x="10" y="1" width="1.05" height="1.05" fill="#fcddcb"/><rect x="11" y="1" width="1.05" height="1.05" fill="#fcddcb"/><rect x="12" y="1" width="1.05" height="1.05" fill="#fcddcb"/><rect x="-1" y="2" width="1.05" height="1.05" fill="#fbe6da"/><rect x="0" y="2" width="1.05" height="1.05" fill="#fbe6da"/><rect x="1" y="2" width="1.05" height="1.05" fill="#fbe6d9"/><rect x="2" y="2" width="1.05" height="1.05" fill="#fbe5d8"/><rect x="3" y="2" width="1.05" height="1.05" fill="#fbe5d8"/><rect x="4" y="2" width="1.05" height="1.05" fill="#fbe6da"/><rect x="5" y="2" width="1.05" height="1.05" fill="#fbe6da"/><rect x="6" y="2" width="1.05" height="1.05" fill="#fbe5d8"/><rect x="7" y="2" width="1.05" height="1.05" fill="#fbe4d6"/><rect x="8" y="2" width="1.05" height="1.05" fill="#fbe2d3"/><rect x="9" y="2" width="1.05" height="1.05" fill="#fcdecd"/><rect x="10" y="2" width="1.05" height="1.05" fill="#fcddcb"/><rect x="11" y="2" width="1.05" height="1.05" fill="#fcddcb"/><rect x="12" y="2" width="1.05" height="1.05" fill="#fcddcb"/><rect x="-1" y="3" width="1.05" height="1.05" fill="#fae8dd"/><rect x="0" y="3" width="1.05" height="1.05" fill="#fae8dd"/><rect x="1" y="3" width="1.05" height="1.05" fill="#fae7dc"/><rect x="2" y="3" width="1.05" height="1.05" fill="#fbe6da"/><rect x="3" y="3" width="1.05" height="1.05" fill="#fbe6d9"/><rect x="4" y="3" width="1.05" height="1.05" fill="#fbe6d9"/><rect x="5" y="3" width="1.05" height="1.05" fill="#fbe5d8"/><rect x="6" y="3" width="1.05" height="1.05" fill="#fbe3d5"/><rect x="7" y="3" width="1.05" height="1.05" fill="#fce1d2"/><rect x="8" y="3" width="1.05" height="1.05" fill="#fcdfcd"/><rect x="9" y="3" width="1.05" height="1.05" fill="#f8bc9f"/><rect x="10" y="3" width="1.05" height="1.05" fill="#f8bc9f"/><rect x="11" y="3" width="1.05" height="1.05" fill="#f8bc9f"/><rect x="12" y="3" width="1.05" height="1.05" fill="#f8bc9f"/><rect x="-1" y="4" width="1.05" height="1.05" fill="#faeae1"/><rect x="0" y="4" width="1.05" height="1.05" fill="#faeae1"/><rect x="1" y="4" width="1.05" height="1.05" fill="#faeae0"/><rect x="2" y="4" width="1.05" height="1.05" fill="#fae8de"/><rect x="3" y="4" width="1.05" height="1.05" fill="#fae7db"/><rect x="4" y="4" width="1.05" height="1.05" fill="#fbe4d7"/><rect x="5" y="4" width="1.05" height="1.05" fill="#fbe2d3"/><rect x="6" y="4" width="1.05" height="1.05" fill="#fce0d0"/><rect x="7" y="4" width="1.05" height="1.05" fill="#fcddcb"/><rect x="8" y="4" width="1.05" height="1.05" fill="#fcd8c3"/><rect x="9" y="4" width="1.05" height="1.05" fill="#f8bc9f"/><rect x="10" y="4" width="1.05" height="1.05" fill="#f8bc9f"/><rect x="11" y="4" width="1.05" height="1.05" fill="#f8bc9f"/><rect x="12" y="4" width="1.05" height="1.05" fill="#f8bc9f"/><rect x="-1" y="5" width="1.05" height="1.05" fill="#f9ece4"/><rect x="0" y="5" width="1.05" height="1.05" fill="#f9ece4"/><rect x="1" y="5" width="1.05" height="1.05" fill="#faebe3"/><rect x="2" y="5" width="1.05" height="1.05" fill="#faeae1"/><rect x="3" y="5" width="1.05" height="1.05" fill="#fae8dc"/><rect x="4" y="5" width="1.05" height="1.05" fill="#fbe3d6"/><rect x="5" y="5" width="1.05" height="1.05" fill="#fce0cf"/><rect x="6" y="5" width="1.05" height="1.05" fill="#fddcc9"/><rect x="7" y="5" width="1.05" height="1.05" fill="#fcd6c1"/><rect x="8" y="5" width="1.05" height="1.05" fill="#f8bea2"/><rect x="9" y="5" width="1.05" height="1.05" fill="#f8bc9f"/><rect x="10" y="5" width="1.05" height="1.05" fill="#f8bc9f"/><rect x="11" y="5" width="1.05" height="1.05" fill="#f8bb9e"/><rect x="12" y="5" width="1.05" height="1.05" fill="#f8bb9e"/><rect x="-1" y="6" width="1.05" height="1.05" fill="#f9ede6"/><rect x="0" y="6" width="1.05" height="1.05" fill="#f9ede6"/><rect x="1" y="6" width="1.05" height="1.05" fill="#f9ece5"/><rect x="2" y="6" width="1.05" height="1.05" fill="#faebe3"/><rect x="3" y="6" width="1.05" height="1.05" fill="#fae8de"/><rect x="4" y="6" width="1.05" height="1.05" fill="#fbe3d4"/><rect x="5" y="6" width="1.05" height="1.05" fill="#fcddcb"/><rect x="6" y="6" width="1.05" height="1.05" fill="#fcd4be"/><rect x="7" y="6" width="1.05" height="1.05" fill="#f9c0a5"/><rect x="8" y="6" width="1.05" height="1.05" fill="#f8bc9f"/><rect x="9" y="6" width="1.05" height="1.05" fill="#f8bc9f"/><rect x="10" y="6" width="1.05" height="1.05" fill="#f8bc9f"/><rect x="11" y="6" width="1.05" height="1.05" fill="#f7b89a"/><rect x="12" y="6" width="1.05" height="1.05" fill="#f7b89a"/><rect x="-1" y="7" width="1.05" height="1.05" fill="#f8f0eb"/><rect x="0" y="7" width="1.05" height="1.05" fill="#f8f0eb"/><rect x="1" y="7" width="1.05" height="1.05" fill="#f9f0eb"/><rect x="2" y="7" width="1.05" height="1.05" fill="#f9f0ea"/><rect x="3" y="7" width="1.05" height="1.05" fill="#f9ece4"/><rect x="4" y="7" width="1.05" height="1.05" fill="#fbe6da"/><rect x="5" y="7" width="1.05" height="1.05" fill="#fcdecc"/><rect x="6" y="7" width="1.05" height="1.05" fill="#f9c2a7"/><rect x="7" y="7" width="1.05" height="1.05" fill="#f8bc9f"/><rect x="8" y="7" width="1.05" height="1.05" fill="#f8bc9f"/><rect x="9" y="7" width="1.05" height="1.05" fill="#f8bc9f"/><rect x="10" y="7" width="1.05" height="1.05" fill="#f8bb9e"/><rect x="11" y="7" width="1.05" height="1.05" fill="#f7b799"/><rect x="12" y="7" width="1.05" height="1.05" fill="#f7b799"/><rect x="-1" y="8" width="1.05" height="1.05" fill="#f8f5f3"/><rect x="0" y="8" width="1.05" height="1.05" fill="#f8f5f3"/><rect x="1" y="8" width="1.05" height="1.05" fill="#f7f5f4"/><rect x="2" y="8" width="1.05" height="1.05" fill="#f7f7f7"/><rect x="3" y="8" width="1.05" height="1.05" fill="#f8f4f1"/><rect x="4" y="8" width="1.05" height="1.05" fill="#f9ece4"/><rect x="5" y="8" width="1.05" height="1.05" fill="#fcddcb"/><rect x="6" y="8" width="1.05" height="1.05" fill="#f8bc9f"/><rect x="7" y="8" width="1.05" height="1.05" fill="#f8bc9f"/><rect x="8" y="8" width="1.05" height="1.05" fill="#f8bc9f"/><rect x="9" y="8" width="1.05" height="1.05" fill="#f8bc9f"/><rect x="10" y="8" width="1.05" height="1.05" fill="#f7b596"/><rect x="11" y="8" width="1.05" height="1.05" fill="#f7b799"/><rect x="12" y="8" width="1.05" height="1.05" fill="#f7b799"/><rect x="-1" y="9" width="1.05" height="1.05" fill="#f6f7f7"/><rect x="0" y="9" width="1.05" height="1.05" fill="#f6f7f7"/><rect x="1" y="9" width="1.05" height="1.05" fill="#f5f6f7"/><rect x="2" y="9" width="1.05" height="1.05" fill="#f1f4f6"/><rect x="3" y="9" width="1.05" height="1.05" fill="#f5f6f7"/><rect x="4" y="9" width="1.05" height="1.05" fill="#f8f0ec"/><rect x="5" y="9" width="1.05" height="1.05" fill="#f8bc9f"/><rect x="6" y="9" width="1.05" height="1.05" fill="#f8bc9f"/><rect x="7" y="9" width="1.05" height="1.05" fill="#f8bc9f"/><rect x="8" y="9" width="1.05" height="1.05" fill="#f8bc9f"/><rect x="9" y="9" width="1.05" height="1.05" fill="#f7b89a"/><rect x="10" y="9" width="1.05" height="1.05" fill="#f8bb9e"/><rect x="11" y="9" width="1.05" height="1.05" fill="#f8bda0"/><rect x="12" y="9" width="1.05" height="1.05" fill="#f8bda0"/><rect x="-1" y="10" width="1.05" height="1.05" fill="#f5f6f7"/><rect x="0" y="10" width="1.05" height="1.05" fill="#f5f6f7"/><rect x="1" y="10" width="1.05" height="1.05" fill="#f3f5f6"/><rect x="2" y="10" width="1.05" height="1.05" fill="#f0f4f6"/><rect x="3" y="10" width="1.05" height="1.05" fill="#f3f5f6"/><rect x="4" y="10" width="1.05" height="1.05" fill="#faeae1"/><rect x="5" y="10" width="1.05" height="1.05" fill="#f8bc9f"/><rect x="6" y="10" width="1.05" height="1.05" fill="#f8bc9f"/><rect x="7" y="10" width="1.05" height="1.05" fill="#f8bc9f"/><rect x="8" y="10" width="1.05" height="1.05" fill="#fac7ad"/><rect x="9" y="10" width="1.05" height="1.05" fill="#fac6ac"/><rect x="10" y="10" width="1.05" height="1.05" fill="#fac7ae"/><rect x="11" y="10" width="1.05" height="1.05" fill="#fac8af"/><rect x="12" y="10" width="1.05" height="1.05" fill="#fac8af"/><rect x="-1" y="11" width="1.05" height="1.05" fill="#f7f6f5"/><rect x="0" y="11" width="1.05" height="1.05" fill="#f7f6f5"/><rect x="1" y="11" width="1.05" height="1.05" fill="#f6f7f7"/><rect x="2" y="11" width="1.05" height="1.05" fill="#f2f5f6"/><rect x="3" y="11" width="1.05" height="1.05" fill="#f4f6f7"/><rect x="4" y="11" width="1.05" height="1.05" fill="#f8f1ed"/><rect x="5" y="11" width="1.05" height="1.05" fill="#fae8dc"/><rect x="6" y="11" width="1.05" height="1.05" fill="#fddac5"/><rect x="7" y="11" width="1.05" height="1.05" fill="#fbcdb5"/><rect x="8" y="11" width="1.05" height="1.05" fill="#fbceb6"/><rect x="9" y="11" width="1.05" height="1.05" fill="#fbceb6"/><rect x="10" y="11" width="1.05" height="1.05" fill="#fbceb6"/><rect x="11" y="11" width="1.05" height="1.05" fill="#fbceb6"/><rect x="12" y="11" width="1.05" height="1.05" fill="#fbceb6"/><rect x="-1" y="12" width="1.05" height="1.05" fill="#f9efe9"/><rect x="0" y="12" width="1.05" height="1.05" fill="#f9efe9"/><rect x="1" y="12" width="1.05" height="1.05" fill="#f8f1ed"/><rect x="2" y="12" width="1.05" height="1.05" fill="#f7f6f6"/><rect x="3" y="12" width="1.05" height="1.05" fill="#f7f6f5"/><rect x="4" y="12" width="1.05" height="1.05" fill="#f9f0ea"/><rect x="5" y="12" width="1.05" height="1.05" fill="#fbe6da"/><rect x="6" y="12" width="1.05" height="1.05" fill="#fdd9c5"/><rect x="7" y="12" width="1.05" height="1.05" fill="#fbceb6"/><rect x="8" y="12" width="1.05" height="1.05" fill="#fbceb6"/><rect x="9" y="12" width="1.05" height="1.05" fill="#fbceb6"/><rect x="10" y="12" width="1.05" height="1.05" fill="#fbceb6"/><rect x="11" y="12" width="1.05" height="1.05" fill="#fbceb6"/><rect x="12" y="12" width="1.05" height="1.05" fill="#fbceb6"/><rect x="-1" y="13" width="1.05" height="1.05" fill="#fbe6d9"/><rect x="0" y="13" width="1.05" height="1.05" fill="#fbe6d9"/><rect x="1" y="13" width="1.05" height="1.05" fill="#fae8de"/><rect x="2" y="13" width="1.05" height="1.05" fill="#f9eee8"/><rect x="3" y="13" width="1.05" height="1.05" fill="#f9eee8"/><rect x="4" y="13" width="1.05" height="1.05" fill="#fae8de"/><rect x="5" y="13" width="1.05" height="1.05" fill="#fce1d1"/><rect x="6" y="13" width="1.05" height="1.05" fill="#fcd3bd"/><rect x="7" y="13" width="1.05" height="1.05" fill="#facab1"/><rect x="8" y="13" width="1.05" height="1.05" fill="#facab1"/><rect x="9" y="13" width="1.05" height="1.05" fill="#facab1"/><rect x="10" y="13" width="1.05" height="1.05" fill="#facab1"/><rect x="11" y="13" width="1.05" height="1.05" fill="#facab1"/><rect x="12" y="13" width="1.05" height="1.05" fill="#facab1"/><rect x="-1" y="14" width="1.05" height="1.05" fill="#fdd9c4"/><rect x="0" y="14" width="1.05" height="1.05" fill="#fdd9c4"/><rect x="1" y="14" width="1.05" height="1.05" fill="#fdddca"/><rect x="2" y="14" width="1.05" height="1.05" fill="#fbe3d4"/><rect x="3" y="14" width="1.05" height="1.05" fill="#fbe3d4"/><rect x="4" y="14" width="1.05" height="1.05" fill="#fdddca"/><rect x="5" y="14" width="1.05" height="1.05" fill="#fcd3bd"/><rect x="6" y="14" width="1.05" height="1.05" fill="#fac9b0"/><rect x="7" y="14" width="1.05" height="1.05" fill="#f9c3a9"/><rect x="8" y="14" width="1.05" height="1.05" fill="#f9c3a9"/><rect x="9" y="14" width="1.05" height="1.05" fill="#f9c3a9"/><rect x="10" y="14" width="1.05" height="1.05" fill="#f9c3a9"/><rect x="11" y="14" width="1.05" height="1.05" fill="#f9c3a9"/><rect x="12" y="14" width="1.05" height="1.05" fill="#f9c3a9"/><rect x="-1" y="15" width="1.05" height="1.05" fill="#fbceb6"/><rect x="0" y="15" width="1.05" height="1.05" fill="#fbceb6"/><rect x="1" y="15" width="1.05" height="1.05" fill="#fcd3bd"/><rect x="2" y="15" width="1.05" height="1.05" fill="#fdddca"/><rect x="3" y="15" width="1.05" height="1.05" fill="#fdddca"/><rect x="4" y="15" width="1.05" height="1.05" fill="#fcd3bd"/><rect x="5" y="15" width="1.05" height="1.05" fill="#facab1"/><rect x="6" y="15" width="1.05" height="1.05" fill="#f9c3a9"/><rect x="7" y="15" width="1.05" height="1.05" fill="#f8c0a4"/><rect x="8" y="15" width="1.05" height="1.05" fill="#f8c0a4"/><rect x="9" y="15" width="1.05" height="1.05" fill="#f8c0a4"/><rect x="10" y="15" width="1.05" height="1.05" fill="#f8c0a4"/><rect x="11" y="15" width="1.05" height="1.05" fill="#f8c0a4"/><rect x="12" y="15" width="1.05" height="1.05" fill="#f8c0a4"/><rect x="-1" y="16" width="1.05" height="1.05" fill="#fbceb6"/><rect x="0" y="16" width="1.05" height="1.05" fill="#fbceb6"/><rect x="1" y="16" width="1.05" height="1.05" fill="#fcd3bd"/><rect x="2" y="16" width="1.05" height="1.05" fill="#fdddca"/><rect x="3" y="16" width="1.05" height="1.05" fill="#fdddca"/><rect x="4" y="16" width="1.05" height="1.05" fill="#fcd3bd"/><rect x="5" y="16" width="1.05" height="1.05" fill="#facab1"/><rect x="6" y="16" width="1.05" height="1.05" fill="#f9c3a9"/><rect x="7" y="16" width="1.05" height="1.05" fill="#f8c0a4"/><rect x="8" y="16" width="1.05" height="1.05" fill="#f8c0a4"/><rect x="9" y="16" width="1.05" height="1.05" fill="#f8c0a4"/><rect x="10" y="16" width="1.05" height="1.05" fill="#f8c0a4"/><rect x="11" y="16" width="1.05" height="1.05" fill="#f8c0a4"/><rect x="12" y="16" width="1.05" height="1.05" fill="#f8c0a4"/></g></g></g><use href="#grd"/><use href="#grdo"/><use href="#lines"/><rect x="0.3" y="0.6" width="62.9" height="80.9" class="fr"/></g><g transform="translate(16 105.7)"><g clip-path="url(#land)"><g filter="url(#bl)"><g transform="scale(5.2917 5.1250)"><rect x="-1" y="-1" width="1.05" height="1.05" fill="#fae7db"/><rect x="0" y="-1" width="1.05" height="1.05" fill="#fae7db"/><rect x="1" y="-1" width="1.05" height="1.05" fill="#fae7dc"/><rect x="2" y="-1" width="1.05" height="1.05" fill="#fae8de"/><rect x="3" y="-1" width="1.05" height="1.05" fill="#faebe2"/><rect x="4" y="-1" width="1.05" height="1.05" fill="#f9eee8"/><rect x="5" y="-1" width="1.05" height="1.05" fill="#f8f2ee"/><rect x="6" y="-1" width="1.05" height="1.05" fill="#f7f5f4"/><rect x="7" y="-1" width="1.05" height="1.05" fill="#f5f6f7"/><rect x="8" y="-1" width="1.05" height="1.05" fill="#f0f4f6"/><rect x="9" y="-1" width="1.05" height="1.05" fill="#f6f7f7"/><rect x="10" y="-1" width="1.05" height="1.05" fill="#faebe2"/><rect x="11" y="-1" width="1.05" height="1.05" fill="#fbe4d7"/><rect x="12" y="-1" width="1.05" height="1.05" fill="#fbe4d7"/><rect x="-1" y="0" width="1.05" height="1.05" fill="#fae7db"/><rect x="0" y="0" width="1.05" height="1.05" fill="#fae7db"/><rect x="1" y="0" width="1.05" height="1.05" fill="#fae7dc"/><rect x="2" y="0" width="1.05" height="1.05" fill="#fae8de"/><rect x="3" y="0" width="1.05" height="1.05" fill="#faebe2"/><rect x="4" y="0" width="1.05" height="1.05" fill="#f9eee8"/><rect x="5" y="0" width="1.05" height="1.05" fill="#f8f2ee"/><rect x="6" y="0" width="1.05" height="1.05" fill="#f7f5f4"/><rect x="7" y="0" width="1.05" height="1.05" fill="#f5f6f7"/><rect x="8" y="0" width="1.05" height="1.05" fill="#f0f4f6"/><rect x="9" y="0" width="1.05" height="1.05" fill="#f6f7f7"/><rect x="10" y="0" width="1.05" height="1.05" fill="#faebe2"/><rect x="11" y="0" width="1.05" height="1.05" fill="#fbe4d7"/><rect x="12" y="0" width="1.05" height="1.05" fill="#fbe4d7"/><rect x="-1" y="1" width="1.05" height="1.05" fill="#fae8de"/><rect x="0" y="1" width="1.05" height="1.05" fill="#fae8de"/><rect x="1" y="1" width="1.05" height="1.05" fill="#fae9df"/><rect x="2" y="1" width="1.05" height="1.05" fill="#faeae1"/><rect x="3" y="1" width="1.05" height="1.05" fill="#f9ece5"/><rect x="4" y="1" width="1.05" height="1.05" fill="#f8f0eb"/><rect x="5" y="1" width="1.05" height="1.05" fill="#f8f4f2"/><rect x="6" y="1" width="1.05" height="1.05" fill="#f5f6f7"/><rect x="7" y="1" width="1.05" height="1.05" fill="#f2f4f6"/><rect x="8" y="1" width="1.05" height="1.05" fill="#f0f4f6"/><rect x="9" y="1" width="1.05" height="1.05" fill="#f7f6f5"/><rect x="10" y="1" width="1.05" height="1.05" fill="#fae9e0"/><rect x="11" y="1" width="1.05" height="1.05" fill="#fbe3d5"/><rect x="12" y="1" width="1.05" height="1.05" fill="#fbe3d5"/><rect x="-1" y="2" width="1.05" height="1.05" fill="#f9ece4"/><rect x="0" y="2" width="1.05" height="1.05" fill="#f9ece4"/><rect x="1" y="2" width="1.05" height="1.05" fill="#f9ece5"/><rect x="2" y="2" width="1.05" height="1.05" fill="#f9eee7"/><rect x="3" y="2" width="1.05" height="1.05" fill="#f8f0eb"/><rect x="4" y="2" width="1.05" height="1.05" fill="#f8f3f1"/><rect x="5" y="2" width="1.05" height="1.05" fill="#f5f6f7"/><rect x="6" y="2" width="1.05" height="1.05" fill="#edf2f5"/><rect x="7" y="2" width="1.05" height="1.05" fill="#ecf2f5"/><rect x="8" y="2" width="1.05" height="1.05" fill="#f2f4f6"/><rect x="9" y="2" width="1.05" height="1.05" fill="#f8f3f0"/><rect x="10" y="2" width="1.05" height="1.05" fill="#fcddcb"/><rect x="11" y="2" width="1.05" height="1.05" fill="#fcddcb"/><rect x="12" y="2" width="1.05" height="1.05" fill="#fcddcb"/><rect x="-1" y="3" width="1.05" height="1.05" fill="#f9efe9"/><rect x="0" y="3" width="1.05" height="1.05" fill="#f9efe9"/><rect x="1" y="3" width="1.05" height="1.05" fill="#f9f0ea"/><rect x="2" y="3" width="1.05" height="1.05" fill="#f8f1ed"/><rect x="3" y="3" width="1.05" height="1.05" fill="#f8f3f1"/><rect x="4" y="3" width="1.05" height="1.05" fill="#f7f7f7"/><rect x="5" y="3" width="1.05" height="1.05" fill="#f1f4f6"/><rect x="6" y="3" width="1.05" height="1.05" fill="#eaf1f5"/><rect x="7" y="3" width="1.05" height="1.05" fill="#ecf2f5"/><rect x="8" y="3" width="1.05" height="1.05" fill="#f7f7f6"/><rect x="9" y="3" width="1.05" height="1.05" fill="#fce2d3"/><rect x="10" y="3" width="1.05" height="1.05" fill="#fcddcb"/><rect x="11" y="3" width="1.05" height="1.05" fill="#fcddcb"/><rect x="12" y="3" width="1.05" height="1.05" fill="#fcddcb"/><rect x="-1" y="4" width="1.05" height="1.05" fill="#f8f1ed"/><rect x="0" y="4" width="1.05" height="1.05" fill="#f8f1ed"/><rect x="1" y="4" width="1.05" height="1.05" fill="#f8f2ef"/><rect x="2" y="4" width="1.05" height="1.05" fill="#f8f4f2"/><rect x="3" y="4" width="1.05" height="1.05" fill="#f7f7f7"/><rect x="4" y="4" width="1.05" height="1.05" fill="#f2f5f6"/><rect x="5" y="4" width="1.05" height="1.05" fill="#eff3f5"/><rect x="6" y="4" width="1.05" height="1.05" fill="#ecf2f5"/><rect x="7" y="4" width="1.05" height="1.05" fill="#f3f5f6"/><rect x="8" y="4" width="1.05" height="1.05" fill="#f9efe9"/><rect x="9" y="4" width="1.05" height="1.05" fill="#fcddcb"/><rect x="10" y="4" width="1.05" height="1.05" fill="#fcddcb"/><rect x="11" y="4" width="1.05" height="1.05" fill="#fcdecd"/><rect x="12" y="4" width="1.05" height="1.05" fill="#fcdecd"/><rect x="-1" y="5" width="1.05" height="1.05" fill="#f7f6f5"/><rect x="0" y="5" width="1.05" height="1.05" fill="#f7f6f5"/><rect x="1" y="5" width="1.05" height="1.05" fill="#f7f7f7"/><rect x="2" y="5" width="1.05" height="1.05" fill="#f4f6f6"/><rect x="3" y="5" width="1.05" height="1.05" fill="#f0f4f6"/><rect x="4" y="5" width="1.05" height="1.05" fill="#edf2f5"/><rect x="5" y="5" width="1.05" height="1.05" fill="#edf2f5"/><rect x="6" y="5" width="1.05" height="1.05" fill="#f0f4f6"/><rect x="7" y="5" width="1.05" height="1.05" fill="#f8f4f2"/><rect x="8" y="5" width="1.05" height="1.05" fill="#fbe6da"/><rect x="9" y="5" width="1.05" height="1.05" fill="#fcddcb"/><rect x="10" y="5" width="1.05" height="1.05" fill="#fcddcb"/><rect x="11" y="5" width="1.05" height="1.05" fill="#fcdfcf"/><rect x="12" y="5" width="1.05" height="1.05" fill="#fcdfcf"/><rect x="-1" y="6" width="1.05" height="1.05" fill="#eff3f6"/><rect x="0" y="6" width="1.05" height="1.05" fill="#eff3f6"/><rect x="1" y="6" width="1.05" height="1.05" fill="#eef2f5"/><rect x="2" y="6" width="1.05" height="1.05" fill="#eaf1f5"/><rect x="3" y="6" width="1.05" height="1.05" fill="#e8f0f4"/><rect x="4" y="6" width="1.05" height="1.05" fill="#e7eff4"/><rect x="5" y="6" width="1.05" height="1.05" fill="#ecf2f5"/><rect x="6" y="6" width="1.05" height="1.05" fill="#f6f7f7"/><rect x="7" y="6" width="1.05" height="1.05" fill="#f9ede5"/><rect x="8" y="6" width="1.05" height="1.05" fill="#fcddcb"/><rect x="9" y="6" width="1.05" height="1.05" fill="#fcddcb"/><rect x="10" y="6" width="1.05" height="1.05" fill="#fcddcb"/><rect x="11" y="6" width="1.05" height="1.05" fill="#fce0cf"/><rect x="12" y="6" width="1.05" height="1.05" fill="#fce0cf"/><rect x="-1" y="7" width="1.05" height="1.05" fill="#eaf1f5"/><rect x="0" y="7" width="1.05" height="1.05" fill="#eaf1f5"/><rect x="1" y="7" width="1.05" height="1.05" fill="#e7f0f4"/><rect x="2" y="7" width="1.05" height="1.05" fill="#e1ecf3"/><rect x="3" y="7" width="1.05" height="1.05" fill="#deebf2"/><rect x="4" y="7" width="1.05" height="1.05" fill="#deebf2"/><rect x="5" y="7" width="1.05" height="1.05" fill="#e7eff4"/><rect x="6" y="7" width="1.05" height="1.05" fill="#f7f6f4"/><rect x="7" y="7" width="1.05" height="1.05" fill="#fcddcb"/><rect x="8" y="7" width="1.05" height="1.05" fill="#fcddcb"/><rect x="9" y="7" width="1.05" height="1.05" fill="#fcddcb"/><rect x="10" y="7" width="1.05" height="1.05" fill="#fce0d0"/><rect x="11" y="7" width="1.05" height="1.05" fill="#fbe3d4"/><rect x="12" y="7" width="1.05" height="1.05" fill="#fbe3d4"/><rect x="-1" y="8" width="1.05" height="1.05" fill="#eaf1f5"/><rect x="0" y="8" width="1.05" height="1.05" fill="#eaf1f5"/><rect x="1" y="8" width="1.05" height="1.05" fill="#e4eef4"/><rect x="2" y="8" width="1.05" height="1.05" fill="#d7e8f1"/><rect x="3" y="8" width="1.05" height="1.05" fill="#d1e5f0"/><rect x="4" y="8" width="1.05" height="1.05" fill="#d1e5f0"/><rect x="5" y="8" width="1.05" height="1.05" fill="#deebf2"/><rect x="6" y="8" width="1.05" height="1.05" fill="#fcddcb"/><rect x="7" y="8" width="1.05" height="1.05" fill="#fcddcb"/><rect x="8" y="8" width="1.05" height="1.05" fill="#fcddcb"/><rect x="9" y="8" width="1.05" height="1.05" fill="#fbe4d7"/><rect x="10" y="8" width="1.05" height="1.05" fill="#fae8dd"/><rect x="11" y="8" width="1.05" height="1.05" fill="#fae8de"/><rect x="12" y="8" width="1.05" height="1.05" fill="#fae8de"/><rect x="-1" y="9" width="1.05" height="1.05" fill="#ebf1f5"/><rect x="0" y="9" width="1.05" height="1.05" fill="#ebf1f5"/><rect x="1" y="9" width="1.05" height="1.05" fill="#e3edf3"/><rect x="2" y="9" width="1.05" height="1.05" fill="#d2e6f0"/><rect x="3" y="9" width="1.05" height="1.05" fill="#c5dfec"/><rect x="4" y="9" width="1.05" height="1.05" fill="#c3deec"/><rect x="5" y="9" width="1.05" height="1.05" fill="#f5f6f7"/><rect x="6" y="9" width="1.05" height="1.05" fill="#fcddcb"/><rect x="7" y="9" width="1.05" height="1.05" fill="#fcddcb"/><rect x="8" y="9" width="1.05" height="1.05" fill="#fae9df"/><rect x="9" y="9" width="1.05" height="1.05" fill="#f9ece5"/><rect x="10" y="9" width="1.05" height="1.05" fill="#f9ece5"/><rect x="11" y="9" width="1.05" height="1.05" fill="#f9ece5"/><rect x="12" y="9" width="1.05" height="1.05" fill="#f9ece5"/><rect x="-1" y="10" width="1.05" height="1.05" fill="#edf2f5"/><rect x="0" y="10" width="1.05" height="1.05" fill="#edf2f5"/><rect x="1" y="10" width="1.05" height="1.05" fill="#e4eef3"/><rect x="2" y="10" width="1.05" height="1.05" fill="#d1e5f0"/><rect x="3" y="10" width="1.05" height="1.05" fill="#c1ddeb"/><rect x="4" y="10" width="1.05" height="1.05" fill="#bddbea"/><rect x="5" y="10" width="1.05" height="1.05" fill="#d3e6f0"/><rect x="6" y="10" width="1.05" height="1.05" fill="#f1f4f6"/><rect x="7" y="10" width="1.05" height="1.05" fill="#f8f0eb"/><rect x="8" y="10" width="1.05" height="1.05" fill="#f9efea"/><rect x="9" y="10" width="1.05" height="1.05" fill="#f9efe9"/><rect x="10" y="10" width="1.05" height="1.05" fill="#f9efe9"/><rect x="11" y="10" width="1.05" height="1.05" fill="#f9efe9"/><rect x="12" y="10" width="1.05" height="1.05" fill="#f9efe9"/><rect x="-1" y="11" width="1.05" height="1.05" fill="#eff3f6"/><rect x="0" y="11" width="1.05" height="1.05" fill="#eff3f6"/><rect x="1" y="11" width="1.05" height="1.05" fill="#e6eff4"/><rect x="2" y="11" width="1.05" height="1.05" fill="#d5e7f1"/><rect x="3" y="11" width="1.05" height="1.05" fill="#c5dfed"/><rect x="4" y="11" width="1.05" height="1.05" fill="#bddbea"/><rect x="5" y="11" width="1.05" height="1.05" fill="#d1e5f0"/><rect x="6" y="11" width="1.05" height="1.05" fill="#eff3f5"/><rect x="7" y="11" width="1.05" height="1.05" fill="#f8f2ee"/><rect x="8" y="11" width="1.05" height="1.05" fill="#f8f1ec"/><rect x="9" y="11" width="1.05" height="1.05" fill="#f8f0eb"/><rect x="10" y="11" width="1.05" height="1.05" fill="#f8f0eb"/><rect x="11" y="11" width="1.05" height="1.05" fill="#f8f0eb"/><rect x="12" y="11" width="1.05" height="1.05" fill="#f8f0eb"/><rect x="-1" y="12" width="1.05" height="1.05" fill="#f2f5f6"/><rect x="0" y="12" width="1.05" height="1.05" fill="#f2f5f6"/><rect x="1" y="12" width="1.05" height="1.05" fill="#ebf1f5"/><rect x="2" y="12" width="1.05" height="1.05" fill="#ddebf2"/><rect x="3" y="12" width="1.05" height="1.05" fill="#d2e5f0"/><rect x="4" y="12" width="1.05" height="1.05" fill="#c5dfed"/><rect x="5" y="12" width="1.05" height="1.05" fill="#d4e6f1"/><rect x="6" y="12" width="1.05" height="1.05" fill="#eff3f6"/><rect x="7" y="12" width="1.05" height="1.05" fill="#f8f2ee"/><rect x="8" y="12" width="1.05" height="1.05" fill="#f8f1ec"/><rect x="9" y="12" width="1.05" height="1.05" fill="#f8f0eb"/><rect x="10" y="12" width="1.05" height="1.05" fill="#f8f0eb"/><rect x="11" y="12" width="1.05" height="1.05" fill="#f8f0eb"/><rect x="12" y="12" width="1.05" height="1.05" fill="#f8f0eb"/><rect x="-1" y="13" width="1.05" height="1.05" fill="#f7f6f6"/><rect x="0" y="13" width="1.05" height="1.05" fill="#f7f6f6"/><rect x="1" y="13" width="1.05" height="1.05" fill="#f2f5f6"/><rect x="2" y="13" width="1.05" height="1.05" fill="#e7f0f4"/><rect x="3" y="13" width="1.05" height="1.05" fill="#ddebf2"/><rect x="4" y="13" width="1.05" height="1.05" fill="#d3e6f0"/><rect x="5" y="13" width="1.05" height="1.05" fill="#dbeaf2"/><rect x="6" y="13" width="1.05" height="1.05" fill="#f3f5f6"/><rect x="7" y="13" width="1.05" height="1.05" fill="#f8f1ec"/><rect x="8" y="13" width="1.05" height="1.05" fill="#f9efea"/><rect x="9" y="13" width="1.05" height="1.05" fill="#f9efe9"/><rect x="10" y="13" width="1.05" height="1.05" fill="#f9efe9"/><rect x="11" y="13" width="1.05" height="1.05" fill="#f9efe9"/><rect x="12" y="13" width="1.05" height="1.05" fill="#f9efe9"/><rect x="-1" y="14" width="1.05" height="1.05" fill="#f8f1ec"/><rect x="0" y="14" width="1.05" height="1.05" fill="#f8f1ec"/><rect x="1" y="14" width="1.05" height="1.05" fill="#f8f3f1"/><rect x="2" y="14" width="1.05" height="1.05" fill="#f4f6f6"/><rect x="3" y="14" width="1.05" height="1.05" fill="#ebf1f5"/><rect x="4" y="14" width="1.05" height="1.05" fill="#e2edf3"/><rect x="5" y="14" width="1.05" height="1.05" fill="#e6eff4"/><rect x="6" y="14" width="1.05" height="1.05" fill="#f7f6f5"/><rect x="7" y="14" width="1.05" height="1.05" fill="#f9eee8"/><rect x="8" y="14" width="1.05" height="1.05" fill="#f9ede6"/><rect x="9" y="14" width="1.05" height="1.05" fill="#f9ece5"/><rect x="10" y="14" width="1.05" height="1.05" fill="#f9ece5"/><rect x="11" y="14" width="1.05" height="1.05" fill="#f9ece5"/><rect x="12" y="14" width="1.05" height="1.05" fill="#f9ece5"/><rect x="-1" y="15" width="1.05" height="1.05" fill="#f9eee7"/><rect x="0" y="15" width="1.05" height="1.05" fill="#f9eee7"/><rect x="1" y="15" width="1.05" height="1.05" fill="#f8f0eb"/><rect x="2" y="15" width="1.05" height="1.05" fill="#f8f5f3"/><rect x="3" y="15" width="1.05" height="1.05" fill="#f2f5f6"/><rect x="4" y="15" width="1.05" height="1.05" fill="#e9f0f4"/><rect x="5" y="15" width="1.05" height="1.05" fill="#ecf2f5"/><rect x="6" y="15" width="1.05" height="1.05" fill="#f8f3f1"/><rect x="7" y="15" width="1.05" height="1.05" fill="#f9ede6"/><rect x="8" y="15" width="1.05" height="1.05" fill="#f9ece4"/><rect x="9" y="15" width="1.05" height="1.05" fill="#faebe3"/><rect x="10" y="15" width="1.05" height="1.05" fill="#faebe3"/><rect x="11" y="15" width="1.05" height="1.05" fill="#faebe3"/><rect x="12" y="15" width="1.05" height="1.05" fill="#faebe3"/><rect x="-1" y="16" width="1.05" height="1.05" fill="#f9eee7"/><rect x="0" y="16" width="1.05" height="1.05" fill="#f9eee7"/><rect x="1" y="16" width="1.05" height="1.05" fill="#f8f0eb"/><rect x="2" y="16" width="1.05" height="1.05" fill="#f8f5f3"/><rect x="3" y="16" width="1.05" height="1.05" fill="#f2f5f6"/><rect x="4" y="16" width="1.05" height="1.05" fill="#e9f0f4"/><rect x="5" y="16" width="1.05" height="1.05" fill="#ecf2f5"/><rect x="6" y="16" width="1.05" height="1.05" fill="#f8f3f1"/><rect x="7" y="16" width="1.05" height="1.05" fill="#f9ede6"/><rect x="8" y="16" width="1.05" height="1.05" fill="#f9ece4"/><rect x="9" y="16" width="1.05" height="1.05" fill="#faebe3"/><rect x="10" y="16" width="1.05" height="1.05" fill="#faebe3"/><rect x="11" y="16" width="1.05" height="1.05" fill="#faebe3"/><rect x="12" y="16" width="1.05" height="1.05" fill="#faebe3"/></g></g></g><use href="#grd"/><use href="#grdo"/><use href="#lines"/><rect x="0.3" y="0.6" width="62.9" height="80.9" class="fr"/></g><g transform="translate(99 105.7)"><g clip-path="url(#land)"><g filter="url(#bl)"><g transform="scale(5.2917 5.1250)"><rect x="-1" y="-1" width="1.05" height="1.05" fill="#f9eee7"/><rect x="0" y="-1" width="1.05" height="1.05" fill="#f9eee7"/><rect x="1" y="-1" width="1.05" height="1.05" fill="#f9eee7"/><rect x="2" y="-1" width="1.05" height="1.05" fill="#f9eee7"/><rect x="3" y="-1" width="1.05" height="1.05" fill="#f9eee8"/><rect x="4" y="-1" width="1.05" height="1.05" fill="#f9efea"/><rect x="5" y="-1" width="1.05" height="1.05" fill="#f8f2ee"/><rect x="6" y="-1" width="1.05" height="1.05" fill="#f7f5f4"/><rect x="7" y="-1" width="1.05" height="1.05" fill="#f5f6f7"/><rect x="8" y="-1" width="1.05" height="1.05" fill="#f0f4f6"/><rect x="9" y="-1" width="1.05" height="1.05" fill="#f2f5f6"/><rect x="10" y="-1" width="1.05" height="1.05" fill="#f8f3f1"/><rect x="11" y="-1" width="1.05" height="1.05" fill="#f8f0eb"/><rect x="12" y="-1" width="1.05" height="1.05" fill="#f8f0eb"/><rect x="-1" y="0" width="1.05" height="1.05" fill="#f9eee7"/><rect x="0" y="0" width="1.05" height="1.05" fill="#f9eee7"/><rect x="1" y="0" width="1.05" height="1.05" fill="#f9eee7"/><rect x="2" y="0" width="1.05" height="1.05" fill="#f9eee7"/><rect x="3" y="0" width="1.05" height="1.05" fill="#f9eee8"/><rect x="4" y="0" width="1.05" height="1.05" fill="#f9efea"/><rect x="5" y="0" width="1.05" height="1.05" fill="#f8f2ee"/><rect x="6" y="0" width="1.05" height="1.05" fill="#f7f5f4"/><rect x="7" y="0" width="1.05" height="1.05" fill="#f5f6f7"/><rect x="8" y="0" width="1.05" height="1.05" fill="#f0f4f6"/><rect x="9" y="0" width="1.05" height="1.05" fill="#f2f5f6"/><rect x="10" y="0" width="1.05" height="1.05" fill="#f8f3f1"/><rect x="11" y="0" width="1.05" height="1.05" fill="#f8f0eb"/><rect x="12" y="0" width="1.05" height="1.05" fill="#f8f0eb"/><rect x="-1" y="1" width="1.05" height="1.05" fill="#f9eee8"/><rect x="0" y="1" width="1.05" height="1.05" fill="#f9eee8"/><rect x="1" y="1" width="1.05" height="1.05" fill="#f9eee8"/><rect x="2" y="1" width="1.05" height="1.05" fill="#f9eee8"/><rect x="3" y="1" width="1.05" height="1.05" fill="#f9efe9"/><rect x="4" y="1" width="1.05" height="1.05" fill="#f8f0ec"/><rect x="5" y="1" width="1.05" height="1.05" fill="#f8f3f0"/><rect x="6" y="1" width="1.05" height="1.05" fill="#f7f7f7"/><rect x="7" y="1" width="1.05" height="1.05" fill="#f2f5f6"/><rect x="8" y="1" width="1.05" height="1.05" fill="#f0f4f6"/><rect x="9" y="1" width="1.05" height="1.05" fill="#f3f5f6"/><rect x="10" y="1" width="1.05" height="1.05" fill="#f8f2ef"/><rect x="11" y="1" width="1.05" height="1.05" fill="#f9efe9"/><rect x="12" y="1" width="1.05" height="1.05" fill="#f9efe9"/><rect x="-1" y="2" width="1.05" height="1.05" fill="#f9efea"/><rect x="0" y="2" width="1.05" height="1.05" fill="#f9efea"/><rect x="1" y="2" width="1.05" height="1.05" fill="#f9efea"/><rect x="2" y="2" width="1.05" height="1.05" fill="#f9efea"/><rect x="3" y="2" width="1.05" height="1.05" fill="#f8f0ec"/><rect x="4" y="2" width="1.05" height="1.05" fill="#f8f2ef"/><rect x="5" y="2" width="1.05" height="1.05" fill="#f7f6f6"/><rect x="6" y="2" width="1.05" height="1.05" fill="#f1f4f6"/><rect x="7" y="2" width="1.05" height="1.05" fill="#eef3f5"/><rect x="8" y="2" width="1.05" height="1.05" fill="#eff3f6"/><rect x="9" y="2" width="1.05" height="1.05" fill="#f5f6f7"/><rect x="10" y="2" width="1.05" height="1.05" fill="#f8f0ec"/><rect x="11" y="2" width="1.05" height="1.05" fill="#f9ece5"/><rect x="12" y="2" width="1.05" height="1.05" fill="#f9ece5"/><rect x="-1" y="3" width="1.05" height="1.05" fill="#f8f1ec"/><rect x="0" y="3" width="1.05" height="1.05" fill="#f8f1ec"/><rect x="1" y="3" width="1.05" height="1.05" fill="#f8f1ec"/><rect x="2" y="3" width="1.05" height="1.05" fill="#f8f1ed"/><rect x="3" y="3" width="1.05" height="1.05" fill="#f8f2ef"/><rect x="4" y="3" width="1.05" height="1.05" fill="#f8f4f2"/><rect x="5" y="3" width="1.05" height="1.05" fill="#f7f7f6"/><rect x="6" y="3" width="1.05" height="1.05" fill="#f3f5f6"/><rect x="7" y="3" width="1.05" height="1.05" fill="#f2f5f6"/><rect x="8" y="3" width="1.05" height="1.05" fill="#f4f6f6"/><rect x="9" y="3" width="1.05" height="1.05" fill="#f7f5f4"/><rect x="10" y="3" width="1.05" height="1.05" fill="#f9efe9"/><rect x="11" y="3" width="1.05" height="1.05" fill="#faebe3"/><rect x="12" y="3" width="1.05" height="1.05" fill="#faebe3"/><rect x="-1" y="4" width="1.05" height="1.05" fill="#f8f2ee"/><rect x="0" y="4" width="1.05" height="1.05" fill="#f8f2ee"/><rect x="1" y="4" width="1.05" height="1.05" fill="#f8f2ef"/><rect x="2" y="4" width="1.05" height="1.05" fill="#f8f3f0"/><rect x="3" y="4" width="1.05" height="1.05" fill="#f8f4f2"/><rect x="4" y="4" width="1.05" height="1.05" fill="#f7f6f5"/><rect x="5" y="4" width="1.05" height="1.05" fill="#f7f5f4"/><rect x="6" y="4" width="1.05" height="1.05" fill="#f8f2ee"/><rect x="7" y="4" width="1.05" height="1.05" fill="#f8f1ed"/><rect x="8" y="4" width="1.05" height="1.05" fill="#f8f2ef"/><rect x="9" y="4" width="1.05" height="1.05" fill="#fce0cf"/><rect x="10" y="4" width="1.05" height="1.05" fill="#fce0cf"/><rect x="11" y="4" width="1.05" height="1.05" fill="#fbe4d7"/><rect x="12" y="4" width="1.05" height="1.05" fill="#fbe4d7"/><rect x="-1" y="5" width="1.05" height="1.05" fill="#f8f3f1"/><rect x="0" y="5" width="1.05" height="1.05" fill="#f8f3f1"/><rect x="1" y="5" width="1.05" height="1.05" fill="#f8f4f2"/><rect x="2" y="5" width="1.05" height="1.05" fill="#f7f6f5"/><rect x="3" y="5" width="1.05" height="1.05" fill="#f7f6f6"/><rect x="4" y="5" width="1.05" height="1.05" fill="#f7f6f5"/><rect x="5" y="5" width="1.05" height="1.05" fill="#f8f2ef"/><rect x="6" y="5" width="1.05" height="1.05" fill="#f9ece4"/><rect x="7" y="5" width="1.05" height="1.05" fill="#fae9df"/><rect x="8" y="5" width="1.05" height="1.05" fill="#faeae0"/><rect x="9" y="5" width="1.05" height="1.05" fill="#fce0cf"/><rect x="10" y="5" width="1.05" height="1.05" fill="#fce0cf"/><rect x="11" y="5" width="1.05" height="1.05" fill="#fae9df"/><rect x="12" y="5" width="1.05" height="1.05" fill="#fae9df"/><rect x="-1" y="6" width="1.05" height="1.05" fill="#f7f6f5"/><rect x="0" y="6" width="1.05" height="1.05" fill="#f7f6f5"/><rect x="1" y="6" width="1.05" height="1.05" fill="#f7f7f7"/><rect x="2" y="6" width="1.05" height="1.05" fill="#f4f6f7"/><rect x="3" y="6" width="1.05" height="1.05" fill="#f5f6f7"/><rect x="4" y="6" width="1.05" height="1.05" fill="#f7f5f4"/><rect x="5" y="6" width="1.05" height="1.05" fill="#f9efea"/><rect x="6" y="6" width="1.05" height="1.05" fill="#fae7db"/><rect x="7" y="6" width="1.05" height="1.05" fill="#fce2d3"/><rect x="8" y="6" width="1.05" height="1.05" fill="#fce0cf"/><rect x="9" y="6" width="1.05" height="1.05" fill="#fce0cf"/><rect x="10" y="6" width="1.05" height="1.05" fill="#fce0cf"/><rect x="11" y="6" width="1.05" height="1.05" fill="#fbe6da"/><rect x="12" y="6" width="1.05" height="1.05" fill="#fbe6da"/><rect x="-1" y="7" width="1.05" height="1.05" fill="#f3f5f6"/><rect x="0" y="7" width="1.05" height="1.05" fill="#f3f5f6"/><rect x="1" y="7" width="1.05" height="1.05" fill="#f1f4f6"/><rect x="2" y="7" width="1.05" height="1.05" fill="#eef3f5"/><rect x="3" y="7" width="1.05" height="1.05" fill="#eff3f6"/><rect x="4" y="7" width="1.05" height="1.05" fill="#f6f7f7"/><rect x="5" y="7" width="1.05" height="1.05" fill="#f8f0eb"/><rect x="6" y="7" width="1.05" height="1.05" fill="#fbe6da"/><rect x="7" y="7" width="1.05" height="1.05" fill="#fce0cf"/><rect x="8" y="7" width="1.05" height="1.05" fill="#fce0cf"/><rect x="9" y="7" width="1.05" height="1.05" fill="#fce0cf"/><rect x="10" y="7" width="1.05" height="1.05" fill="#fbe2d3"/><rect x="11" y="7" width="1.05" height="1.05" fill="#fbe4d7"/><rect x="12" y="7" width="1.05" height="1.05" fill="#fbe4d7"/><rect x="-1" y="8" width="1.05" height="1.05" fill="#ebf1f5"/><rect x="0" y="8" width="1.05" height="1.05" fill="#ebf1f5"/><rect x="1" y="8" width="1.05" height="1.05" fill="#e9f0f4"/><rect x="2" y="8" width="1.05" height="1.05" fill="#e5eef4"/><rect x="3" y="8" width="1.05" height="1.05" fill="#e6eff4"/><rect x="4" y="8" width="1.05" height="1.05" fill="#eef3f5"/><rect x="5" y="8" width="1.05" height="1.05" fill="#f7f5f4"/><rect x="6" y="8" width="1.05" height="1.05" fill="#fce0cf"/><rect x="7" y="8" width="1.05" height="1.05" fill="#fce0cf"/><rect x="8" y="8" width="1.05" height="1.05" fill="#fce0cf"/><rect x="9" y="8" width="1.05" height="1.05" fill="#fce2d3"/><rect x="10" y="8" width="1.05" height="1.05" fill="#fbe4d6"/><rect x="11" y="8" width="1.05" height="1.05" fill="#fbe4d7"/><rect x="12" y="8" width="1.05" height="1.05" fill="#fbe4d7"/><rect x="-1" y="9" width="1.05" height="1.05" fill="#e6eff4"/><rect x="0" y="9" width="1.05" height="1.05" fill="#e6eff4"/><rect x="1" y="9" width="1.05" height="1.05" fill="#e4eef3"/><rect x="2" y="9" width="1.05" height="1.05" fill="#dfebf3"/><rect x="3" y="9" width="1.05" height="1.05" fill="#dfecf3"/><rect x="4" y="9" width="1.05" height="1.05" fill="#e6eff4"/><rect x="5" y="9" width="1.05" height="1.05" fill="#f9efe9"/><rect x="6" y="9" width="1.05" height="1.05" fill="#fce0cf"/><rect x="7" y="9" width="1.05" height="1.05" fill="#fce0cf"/><rect x="8" y="9" width="1.05" height="1.05" fill="#fbe5d9"/><rect x="9" y="9" width="1.05" height="1.05" fill="#fae7dc"/><rect x="10" y="9" width="1.05" height="1.05" fill="#fae7dc"/><rect x="11" y="9" width="1.05" height="1.05" fill="#fae7dc"/><rect x="12" y="9" width="1.05" height="1.05" fill="#fae7dc"/><rect x="-1" y="10" width="1.05" height="1.05" fill="#e5eef4"/><rect x="0" y="10" width="1.05" height="1.05" fill="#e5eef4"/><rect x="1" y="10" width="1.05" height="1.05" fill="#e2edf3"/><rect x="2" y="10" width="1.05" height="1.05" fill="#dceaf2"/><rect x="3" y="10" width="1.05" height="1.05" fill="#dbeaf2"/><rect x="4" y="10" width="1.05" height="1.05" fill="#dfecf3"/><rect x="5" y="10" width="1.05" height="1.05" fill="#f8f3f1"/><rect x="6" y="10" width="1.05" height="1.05" fill="#f9ece4"/><rect x="7" y="10" width="1.05" height="1.05" fill="#fae9de"/><rect x="8" y="10" width="1.05" height="1.05" fill="#f9ede6"/><rect x="9" y="10" width="1.05" height="1.05" fill="#f9ede6"/><rect x="10" y="10" width="1.05" height="1.05" fill="#f9ede6"/><rect x="11" y="10" width="1.05" height="1.05" fill="#f9ede6"/><rect x="12" y="10" width="1.05" height="1.05" fill="#f9ede6"/><rect x="-1" y="11" width="1.05" height="1.05" fill="#ebf1f5"/><rect x="0" y="11" width="1.05" height="1.05" fill="#ebf1f5"/><rect x="1" y="11" width="1.05" height="1.05" fill="#e7eff4"/><rect x="2" y="11" width="1.05" height="1.05" fill="#dfebf3"/><rect x="3" y="11" width="1.05" height="1.05" fill="#dbeaf2"/><rect x="4" y="11" width="1.05" height="1.05" fill="#dceaf2"/><rect x="5" y="11" width="1.05" height="1.05" fill="#e5eef4"/><rect x="6" y="11" width="1.05" height="1.05" fill="#f7f7f7"/><rect x="7" y="11" width="1.05" height="1.05" fill="#f8f1ec"/><rect x="8" y="11" width="1.05" height="1.05" fill="#f8f1ec"/><rect x="9" y="11" width="1.05" height="1.05" fill="#f8f1ec"/><rect x="10" y="11" width="1.05" height="1.05" fill="#f8f1ec"/><rect x="11" y="11" width="1.05" height="1.05" fill="#f8f1ec"/><rect x="12" y="11" width="1.05" height="1.05" fill="#f8f1ec"/><rect x="-1" y="12" width="1.05" height="1.05" fill="#f7f5f4"/><rect x="0" y="12" width="1.05" height="1.05" fill="#f7f5f4"/><rect x="1" y="12" width="1.05" height="1.05" fill="#f3f5f6"/><rect x="2" y="12" width="1.05" height="1.05" fill="#e7eff4"/><rect x="3" y="12" width="1.05" height="1.05" fill="#dfecf3"/><rect x="4" y="12" width="1.05" height="1.05" fill="#dbeaf2"/><rect x="5" y="12" width="1.05" height="1.05" fill="#e2edf3"/><rect x="6" y="12" width="1.05" height="1.05" fill="#f5f6f7"/><rect x="7" y="12" width="1.05" height="1.05" fill="#f8f2ee"/><rect x="8" y="12" width="1.05" height="1.05" fill="#f8f2ee"/><rect x="9" y="12" width="1.05" height="1.05" fill="#f8f2ee"/><rect x="10" y="12" width="1.05" height="1.05" fill="#f8f2ee"/><rect x="11" y="12" width="1.05" height="1.05" fill="#f8f2ee"/><rect x="12" y="12" width="1.05" height="1.05" fill="#f8f2ee"/><rect x="-1" y="13" width="1.05" height="1.05" fill="#f9ede6"/><rect x="0" y="13" width="1.05" height="1.05" fill="#f9ede6"/><rect x="1" y="13" width="1.05" height="1.05" fill="#f8f1ee"/><rect x="2" y="13" width="1.05" height="1.05" fill="#f3f5f6"/><rect x="3" y="13" width="1.05" height="1.05" fill="#e9f0f4"/><rect x="4" y="13" width="1.05" height="1.05" fill="#e1ecf3"/><rect x="5" y="13" width="1.05" height="1.05" fill="#e5eff4"/><rect x="6" y="13" width="1.05" height="1.05" fill="#f6f6f7"/><rect x="7" y="13" width="1.05" height="1.05" fill="#f8f2ee"/><rect x="8" y="13" width="1.05" height="1.05" fill="#f8f2ee"/><rect x="9" y="13" width="1.05" height="1.05" fill="#f8f2ee"/><rect x="10" y="13" width="1.05" height="1.05" fill="#f8f2ee"/><rect x="11" y="13" width="1.05" height="1.05" fill="#f8f2ee"/><rect x="12" y="13" width="1.05" height="1.05" fill="#f8f2ee"/><rect x="-1" y="14" width="1.05" height="1.05" fill="#fae7dc"/><rect x="0" y="14" width="1.05" height="1.05" fill="#fae7dc"/><rect x="1" y="14" width="1.05" height="1.05" fill="#faeae0"/><rect x="2" y="14" width="1.05" height="1.05" fill="#f9efe9"/><rect x="3" y="14" width="1.05" height="1.05" fill="#f7f6f5"/><rect x="4" y="14" width="1.05" height="1.05" fill="#eef2f5"/><rect x="5" y="14" width="1.05" height="1.05" fill="#eef3f5"/><rect x="6" y="14" width="1.05" height="1.05" fill="#f7f5f4"/><rect x="7" y="14" width="1.05" height="1.05" fill="#f8f1ec"/><rect x="8" y="14" width="1.05" height="1.05" fill="#f8f1ec"/><rect x="9" y="14" width="1.05" height="1.05" fill="#f8f1ec"/><rect x="10" y="14" width="1.05" height="1.05" fill="#f8f1ec"/><rect x="11" y="14" width="1.05" height="1.05" fill="#f8f1ec"/><rect x="12" y="14" width="1.05" height="1.05" fill="#f8f1ec"/><rect x="-1" y="15" width="1.05" height="1.05" fill="#fbe4d7"/><rect x="0" y="15" width="1.05" height="1.05" fill="#fbe4d7"/><rect x="1" y="15" width="1.05" height="1.05" fill="#fbe6da"/><rect x="2" y="15" width="1.05" height="1.05" fill="#faeae0"/><rect x="3" y="15" width="1.05" height="1.05" fill="#f8f0eb"/><rect x="4" y="15" width="1.05" height="1.05" fill="#f4f6f6"/><rect x="5" y="15" width="1.05" height="1.05" fill="#f2f5f6"/><rect x="6" y="15" width="1.05" height="1.05" fill="#f8f3f1"/><rect x="7" y="15" width="1.05" height="1.05" fill="#f8f0eb"/><rect x="8" y="15" width="1.05" height="1.05" fill="#f8f0eb"/><rect x="9" y="15" width="1.05" height="1.05" fill="#f8f0eb"/><rect x="10" y="15" width="1.05" height="1.05" fill="#f8f0eb"/><rect x="11" y="15" width="1.05" height="1.05" fill="#f8f0eb"/><rect x="12" y="15" width="1.05" height="1.05" fill="#f8f0eb"/><rect x="-1" y="16" width="1.05" height="1.05" fill="#fbe4d7"/><rect x="0" y="16" width="1.05" height="1.05" fill="#fbe4d7"/><rect x="1" y="16" width="1.05" height="1.05" fill="#fbe6da"/><rect x="2" y="16" width="1.05" height="1.05" fill="#faeae0"/><rect x="3" y="16" width="1.05" height="1.05" fill="#f8f0eb"/><rect x="4" y="16" width="1.05" height="1.05" fill="#f4f6f6"/><rect x="5" y="16" width="1.05" height="1.05" fill="#f2f5f6"/><rect x="6" y="16" width="1.05" height="1.05" fill="#f8f3f1"/><rect x="7" y="16" width="1.05" height="1.05" fill="#f8f0eb"/><rect x="8" y="16" width="1.05" height="1.05" fill="#f8f0eb"/><rect x="9" y="16" width="1.05" height="1.05" fill="#f8f0eb"/><rect x="10" y="16" width="1.05" height="1.05" fill="#f8f0eb"/><rect x="11" y="16" width="1.05" height="1.05" fill="#f8f0eb"/><rect x="12" y="16" width="1.05" height="1.05" fill="#f8f0eb"/></g></g></g><use href="#grd"/><use href="#grdo"/><use href="#lines"/><rect x="0.3" y="0.6" width="62.9" height="80.9" class="fr"/></g><g transform="translate(182 105.7)"><g clip-path="url(#land)"><g filter="url(#bl)"><g transform="scale(5.2917 5.1250)"><rect x="-1" y="-1" width="1.05" height="1.05" fill="#f9eee7"/><rect x="0" y="-1" width="1.05" height="1.05" fill="#f9eee7"/><rect x="1" y="-1" width="1.05" height="1.05" fill="#f9eee7"/><rect x="2" y="-1" width="1.05" height="1.05" fill="#f9eee7"/><rect x="3" y="-1" width="1.05" height="1.05" fill="#f9efe9"/><rect x="4" y="-1" width="1.05" height="1.05" fill="#f8f2ee"/><rect x="5" y="-1" width="1.05" height="1.05" fill="#f8f2ef"/><rect x="6" y="-1" width="1.05" height="1.05" fill="#f8f0eb"/><rect x="7" y="-1" width="1.05" height="1.05" fill="#f9ede6"/><rect x="8" y="-1" width="1.05" height="1.05" fill="#faeae0"/><rect x="9" y="-1" width="1.05" height="1.05" fill="#fbe6da"/><rect x="10" y="-1" width="1.05" height="1.05" fill="#fce2d2"/><rect x="11" y="-1" width="1.05" height="1.05" fill="#fce0cf"/><rect x="12" y="-1" width="1.05" height="1.05" fill="#fce0cf"/><rect x="-1" y="0" width="1.05" height="1.05" fill="#f9eee7"/><rect x="0" y="0" width="1.05" height="1.05" fill="#f9eee7"/><rect x="1" y="0" width="1.05" height="1.05" fill="#f9eee7"/><rect x="2" y="0" width="1.05" height="1.05" fill="#f9eee7"/><rect x="3" y="0" width="1.05" height="1.05" fill="#f9efe9"/><rect x="4" y="0" width="1.05" height="1.05" fill="#f8f2ee"/><rect x="5" y="0" width="1.05" height="1.05" fill="#f8f2ef"/><rect x="6" y="0" width="1.05" height="1.05" fill="#f8f0eb"/><rect x="7" y="0" width="1.05" height="1.05" fill="#f9ede6"/><rect x="8" y="0" width="1.05" height="1.05" fill="#faeae0"/><rect x="9" y="0" width="1.05" height="1.05" fill="#fbe6da"/><rect x="10" y="0" width="1.05" height="1.05" fill="#fce2d2"/><rect x="11" y="0" width="1.05" height="1.05" fill="#fce0cf"/><rect x="12" y="0" width="1.05" height="1.05" fill="#fce0cf"/><rect x="-1" y="1" width="1.05" height="1.05" fill="#f9eee8"/><rect x="0" y="1" width="1.05" height="1.05" fill="#f9eee8"/><rect x="1" y="1" width="1.05" height="1.05" fill="#f9eee8"/><rect x="2" y="1" width="1.05" height="1.05" fill="#f9eee8"/><rect x="3" y="1" width="1.05" height="1.05" fill="#f9f0ea"/><rect x="4" y="1" width="1.05" height="1.05" fill="#f8f2ef"/><rect x="5" y="1" width="1.05" height="1.05" fill="#f8f2ee"/><rect x="6" y="1" width="1.05" height="1.05" fill="#f9efe9"/><rect x="7" y="1" width="1.05" height="1.05" fill="#faebe3"/><rect x="8" y="1" width="1.05" height="1.05" fill="#fae8dd"/><rect x="9" y="1" width="1.05" height="1.05" fill="#fbe4d7"/><rect x="10" y="1" width="1.05" height="1.05" fill="#fce0d0"/><rect x="11" y="1" width="1.05" height="1.05" fill="#fcdecd"/><rect x="12" y="1" width="1.05" height="1.05" fill="#fcdecd"/><rect x="-1" y="2" width="1.05" height="1.05" fill="#f9efea"/><rect x="0" y="2" width="1.05" height="1.05" fill="#f9efea"/><rect x="1" y="2" width="1.05" height="1.05" fill="#f9efea"/><rect x="2" y="2" width="1.05" height="1.05" fill="#f9efea"/><rect x="3" y="2" width="1.05" height="1.05" fill="#f8f0ec"/><rect x="4" y="2" width="1.05" height="1.05" fill="#f8f2ef"/><rect x="5" y="2" width="1.05" height="1.05" fill="#f8f1ed"/><rect x="6" y="2" width="1.05" height="1.05" fill="#f9ece4"/><rect x="7" y="2" width="1.05" height="1.05" fill="#fae8dd"/><rect x="8" y="2" width="1.05" height="1.05" fill="#fbe4d7"/><rect x="9" y="2" width="1.05" height="1.05" fill="#fcdecc"/><rect x="10" y="2" width="1.05" height="1.05" fill="#fcd7c1"/><rect x="11" y="2" width="1.05" height="1.05" fill="#fcd7c1"/><rect x="12" y="2" width="1.05" height="1.05" fill="#fcd7c1"/><rect x="-1" y="3" width="1.05" height="1.05" fill="#f8f1ed"/><rect x="0" y="3" width="1.05" height="1.05" fill="#f8f1ed"/><rect x="1" y="3" width="1.05" height="1.05" fill="#f8f1ed"/><rect x="2" y="3" width="1.05" height="1.05" fill="#f8f1ec"/><rect x="3" y="3" width="1.05" height="1.05" fill="#f8f1ec"/><rect x="4" y="3" width="1.05" height="1.05" fill="#f8f1ec"/><rect x="5" y="3" width="1.05" height="1.05" fill="#f9eee8"/><rect x="6" y="3" width="1.05" height="1.05" fill="#fae9df"/><rect x="7" y="3" width="1.05" height="1.05" fill="#fbe5d8"/><rect x="8" y="3" width="1.05" height="1.05" fill="#fce1d2"/><rect x="9" y="3" width="1.05" height="1.05" fill="#fcd7c1"/><rect x="10" y="3" width="1.05" height="1.05" fill="#fcd7c1"/><rect x="11" y="3" width="1.05" height="1.05" fill="#fcd7c1"/><rect x="12" y="3" width="1.05" height="1.05" fill="#fcd7c1"/><rect x="-1" y="4" width="1.05" height="1.05" fill="#f8f3f1"/><rect x="0" y="4" width="1.05" height="1.05" fill="#f8f3f1"/><rect x="1" y="4" width="1.05" height="1.05" fill="#f8f3f0"/><rect x="2" y="4" width="1.05" height="1.05" fill="#f8f2ef"/><rect x="3" y="4" width="1.05" height="1.05" fill="#f8f0eb"/><rect x="4" y="4" width="1.05" height="1.05" fill="#f9ede6"/><rect x="5" y="4" width="1.05" height="1.05" fill="#faeae0"/><rect x="6" y="4" width="1.05" height="1.05" fill="#fbe6d9"/><rect x="7" y="4" width="1.05" height="1.05" fill="#fce2d2"/><rect x="8" y="4" width="1.05" height="1.05" fill="#fcdecd"/><rect x="9" y="4" width="1.05" height="1.05" fill="#fcd7c1"/><rect x="10" y="4" width="1.05" height="1.05" fill="#fcd7c1"/><rect x="11" y="4" width="1.05" height="1.05" fill="#fcd7c1"/><rect x="12" y="4" width="1.05" height="1.05" fill="#fcd7c1"/><rect x="-1" y="5" width="1.05" height="1.05" fill="#f7f6f6"/><rect x="0" y="5" width="1.05" height="1.05" fill="#f7f6f6"/><rect x="1" y="5" width="1.05" height="1.05" fill="#f7f6f5"/><rect x="2" y="5" width="1.05" height="1.05" fill="#f8f4f2"/><rect x="3" y="5" width="1.05" height="1.05" fill="#f8f1ec"/><rect x="4" y="5" width="1.05" height="1.05" fill="#faebe2"/><rect x="5" y="5" width="1.05" height="1.05" fill="#fbe6da"/><rect x="6" y="5" width="1.05" height="1.05" fill="#fce2d2"/><rect x="7" y="5" width="1.05" height="1.05" fill="#fcdecc"/><rect x="8" y="5" width="1.05" height="1.05" fill="#fdd9c4"/><rect x="9" y="5" width="1.05" height="1.05" fill="#fcd7c1"/><rect x="10" y="5" width="1.05" height="1.05" fill="#fcd7c1"/><rect x="11" y="5" width="1.05" height="1.05" fill="#fcd3bd"/><rect x="12" y="5" width="1.05" height="1.05" fill="#fcd3bd"/><rect x="-1" y="6" width="1.05" height="1.05" fill="#f3f5f6"/><rect x="0" y="6" width="1.05" height="1.05" fill="#f3f5f6"/><rect x="1" y="6" width="1.05" height="1.05" fill="#f4f6f7"/><rect x="2" y="6" width="1.05" height="1.05" fill="#f7f7f7"/><rect x="3" y="6" width="1.05" height="1.05" fill="#f8f2ee"/><rect x="4" y="6" width="1.05" height="1.05" fill="#faeae0"/><rect x="5" y="6" width="1.05" height="1.05" fill="#fbe3d4"/><rect x="6" y="6" width="1.05" height="1.05" fill="#fcdecb"/><rect x="7" y="6" width="1.05" height="1.05" fill="#fcd8c3"/><rect x="8" y="6" width="1.05" height="1.05" fill="#fcd7c1"/><rect x="9" y="6" width="1.05" height="1.05" fill="#fcd7c1"/><rect x="10" y="6" width="1.05" height="1.05" fill="#fcd7c1"/><rect x="11" y="6" width="1.05" height="1.05" fill="#facbb3"/><rect x="12" y="6" width="1.05" height="1.05" fill="#facbb3"/><rect x="-1" y="7" width="1.05" height="1.05" fill="#eef2f5"/><rect x="0" y="7" width="1.05" height="1.05" fill="#eef2f5"/><rect x="1" y="7" width="1.05" height="1.05" fill="#eff3f5"/><rect x="2" y="7" width="1.05" height="1.05" fill="#f1f4f6"/><rect x="3" y="7" width="1.05" height="1.05" fill="#f7f6f5"/><rect x="4" y="7" width="1.05" height="1.05" fill="#f9ece4"/><rect x="5" y="7" width="1.05" height="1.05" fill="#fbe3d6"/><rect x="6" y="7" width="1.05" height="1.05" fill="#fddbc7"/><rect x="7" y="7" width="1.05" height="1.05" fill="#fcd7c1"/><rect x="8" y="7" width="1.05" height="1.05" fill="#fcd7c1"/><rect x="9" y="7" width="1.05" height="1.05" fill="#fcd7c1"/><rect x="10" y="7" width="1.05" height="1.05" fill="#fbd1ba"/><rect x="11" y="7" width="1.05" height="1.05" fill="#facab1"/><rect x="12" y="7" width="1.05" height="1.05" fill="#facab1"/><rect x="-1" y="8" width="1.05" height="1.05" fill="#e7f0f4"/><rect x="0" y="8" width="1.05" height="1.05" fill="#e7f0f4"/><rect x="1" y="8" width="1.05" height="1.05" fill="#e8f0f4"/><rect x="2" y="8" width="1.05" height="1.05" fill="#e8f0f4"/><rect x="3" y="8" width="1.05" height="1.05" fill="#f0f4f6"/><rect x="4" y="8" width="1.05" height="1.05" fill="#f8f2ef"/><rect x="5" y="8" width="1.05" height="1.05" fill="#fae8dc"/><rect x="6" y="8" width="1.05" height="1.05" fill="#fcd7c1"/><rect x="7" y="8" width="1.05" height="1.05" fill="#fcd7c1"/><rect x="8" y="8" width="1.05" height="1.05" fill="#fcd7c1"/><rect x="9" y="8" width="1.05" height="1.05" fill="#fcd3bd"/><rect x="10" y="8" width="1.05" height="1.05" fill="#fbcdb5"/><rect x="11" y="8" width="1.05" height="1.05" fill="#fbccb4"/><rect x="12" y="8" width="1.05" height="1.05" fill="#fbccb4"/><rect x="-1" y="9" width="1.05" height="1.05" fill="#e2edf3"/><rect x="0" y="9" width="1.05" height="1.05" fill="#e2edf3"/><rect x="1" y="9" width="1.05" height="1.05" fill="#e2edf3"/><rect x="2" y="9" width="1.05" height="1.05" fill="#e2edf3"/><rect x="3" y="9" width="1.05" height="1.05" fill="#e8f0f4"/><rect x="4" y="9" width="1.05" height="1.05" fill="#f5f6f7"/><rect x="5" y="9" width="1.05" height="1.05" fill="#fddcc9"/><rect x="6" y="9" width="1.05" height="1.05" fill="#fcd7c1"/><rect x="7" y="9" width="1.05" height="1.05" fill="#fcd7c1"/><rect x="8" y="9" width="1.05" height="1.05" fill="#fcd6c0"/><rect x="9" y="9" width="1.05" height="1.05" fill="#fcd3bd"/><rect x="10" y="9" width="1.05" height="1.05" fill="#fcd3bd"/><rect x="11" y="9" width="1.05" height="1.05" fill="#fcd3bd"/><rect x="12" y="9" width="1.05" height="1.05" fill="#fcd3bd"/><rect x="-1" y="10" width="1.05" height="1.05" fill="#dfecf3"/><rect x="0" y="10" width="1.05" height="1.05" fill="#dfecf3"/><rect x="1" y="10" width="1.05" height="1.05" fill="#dfebf3"/><rect x="2" y="10" width="1.05" height="1.05" fill="#ddebf2"/><rect x="3" y="10" width="1.05" height="1.05" fill="#e2edf3"/><rect x="4" y="10" width="1.05" height="1.05" fill="#ebf1f5"/><rect x="5" y="10" width="1.05" height="1.05" fill="#fcd7c1"/><rect x="6" y="10" width="1.05" height="1.05" fill="#fcd7c1"/><rect x="7" y="10" width="1.05" height="1.05" fill="#fcd7c1"/><rect x="8" y="10" width="1.05" height="1.05" fill="#fdddca"/><rect x="9" y="10" width="1.05" height="1.05" fill="#fdddca"/><rect x="10" y="10" width="1.05" height="1.05" fill="#fdddca"/><rect x="11" y="10" width="1.05" height="1.05" fill="#fdddca"/><rect x="12" y="10" width="1.05" height="1.05" fill="#fdddca"/><rect x="-1" y="11" width="1.05" height="1.05" fill="#deebf2"/><rect x="0" y="11" width="1.05" height="1.05" fill="#deebf2"/><rect x="1" y="11" width="1.05" height="1.05" fill="#deebf2"/><rect x="2" y="11" width="1.05" height="1.05" fill="#dceaf2"/><rect x="3" y="11" width="1.05" height="1.05" fill="#dfebf3"/><rect x="4" y="11" width="1.05" height="1.05" fill="#e7eff4"/><rect x="5" y="11" width="1.05" height="1.05" fill="#f4f6f7"/><rect x="6" y="11" width="1.05" height="1.05" fill="#faeae0"/><rect x="7" y="11" width="1.05" height="1.05" fill="#fce2d3"/><rect x="8" y="11" width="1.05" height="1.05" fill="#fce2d3"/><rect x="9" y="11" width="1.05" height="1.05" fill="#fce2d3"/><rect x="10" y="11" width="1.05" height="1.05" fill="#fce2d3"/><rect x="11" y="11" width="1.05" height="1.05" fill="#fce2d3"/><rect x="12" y="11" width="1.05" height="1.05" fill="#fce2d3"/><rect x="-1" y="12" width="1.05" height="1.05" fill="#e0ecf3"/><rect x="0" y="12" width="1.05" height="1.05" fill="#e0ecf3"/><rect x="1" y="12" width="1.05" height="1.05" fill="#dfecf3"/><rect x="2" y="12" width="1.05" height="1.05" fill="#deebf2"/><rect x="3" y="12" width="1.05" height="1.05" fill="#dfecf3"/><rect x="4" y="12" width="1.05" height="1.05" fill="#e3eef3"/><rect x="5" y="12" width="1.05" height="1.05" fill="#eff3f6"/><rect x="6" y="12" width="1.05" height="1.05" fill="#f9eee8"/><rect x="7" y="12" width="1.05" height="1.05" fill="#fae7db"/><rect x="8" y="12" width="1.05" height="1.05" fill="#fae7db"/><rect x="9" y="12" width="1.05" height="1.05" fill="#fae7db"/><rect x="10" y="12" width="1.05" height="1.05" fill="#fae7db"/><rect x="11" y="12" width="1.05" height="1.05" fill="#fae7db"/><rect x="12" y="12" width="1.05" height="1.05" fill="#fae7db"/><rect x="-1" y="13" width="1.05" height="1.05" fill="#e2edf3"/><rect x="0" y="13" width="1.05" height="1.05" fill="#e2edf3"/><rect x="1" y="13" width="1.05" height="1.05" fill="#e2edf3"/><rect x="2" y="13" width="1.05" height="1.05" fill="#e0ecf3"/><rect x="3" y="13" width="1.05" height="1.05" fill="#e1ecf3"/><rect x="4" y="13" width="1.05" height="1.05" fill="#e4eef4"/><rect x="5" y="13" width="1.05" height="1.05" fill="#eef3f5"/><rect x="6" y="13" width="1.05" height="1.05" fill="#f8f1ed"/><rect x="7" y="13" width="1.05" height="1.05" fill="#faebe2"/><rect x="8" y="13" width="1.05" height="1.05" fill="#faebe2"/><rect x="9" y="13" width="1.05" height="1.05" fill="#faebe2"/><rect x="10" y="13" width="1.05" height="1.05" fill="#faebe2"/><rect x="11" y="13" width="1.05" height="1.05" fill="#faebe2"/><rect x="12" y="13" width="1.05" height="1.05" fill="#faebe2"/><rect x="-1" y="14" width="1.05" height="1.05" fill="#e6eff4"/><rect x="0" y="14" width="1.05" height="1.05" fill="#e6eff4"/><rect x="1" y="14" width="1.05" height="1.05" fill="#e5eef4"/><rect x="2" y="14" width="1.05" height="1.05" fill="#e3eef3"/><rect x="3" y="14" width="1.05" height="1.05" fill="#e4eef4"/><rect x="4" y="14" width="1.05" height="1.05" fill="#e7f0f4"/><rect x="5" y="14" width="1.05" height="1.05" fill="#eff3f6"/><rect x="6" y="14" width="1.05" height="1.05" fill="#f8f3f0"/><rect x="7" y="14" width="1.05" height="1.05" fill="#f9eee8"/><rect x="8" y="14" width="1.05" height="1.05" fill="#f9eee8"/><rect x="9" y="14" width="1.05" height="1.05" fill="#f9eee8"/><rect x="10" y="14" width="1.05" height="1.05" fill="#f9eee8"/><rect x="11" y="14" width="1.05" height="1.05" fill="#f9eee8"/><rect x="12" y="14" width="1.05" height="1.05" fill="#f9eee8"/><rect x="-1" y="15" width="1.05" height="1.05" fill="#e7f0f4"/><rect x="0" y="15" width="1.05" height="1.05" fill="#e7f0f4"/><rect x="1" y="15" width="1.05" height="1.05" fill="#e6eff4"/><rect x="2" y="15" width="1.05" height="1.05" fill="#e5eef4"/><rect x="3" y="15" width="1.05" height="1.05" fill="#e6eff4"/><rect x="4" y="15" width="1.05" height="1.05" fill="#e9f0f4"/><rect x="5" y="15" width="1.05" height="1.05" fill="#f0f4f6"/><rect x="6" y="15" width="1.05" height="1.05" fill="#f8f4f2"/><rect x="7" y="15" width="1.05" height="1.05" fill="#f8f0eb"/><rect x="8" y="15" width="1.05" height="1.05" fill="#f8f0eb"/><rect x="9" y="15" width="1.05" height="1.05" fill="#f8f0eb"/><rect x="10" y="15" width="1.05" height="1.05" fill="#f8f0eb"/><rect x="11" y="15" width="1.05" height="1.05" fill="#f8f0eb"/><rect x="12" y="15" width="1.05" height="1.05" fill="#f8f0eb"/><rect x="-1" y="16" width="1.05" height="1.05" fill="#e7f0f4"/><rect x="0" y="16" width="1.05" height="1.05" fill="#e7f0f4"/><rect x="1" y="16" width="1.05" height="1.05" fill="#e6eff4"/><rect x="2" y="16" width="1.05" height="1.05" fill="#e5eef4"/><rect x="3" y="16" width="1.05" height="1.05" fill="#e6eff4"/><rect x="4" y="16" width="1.05" height="1.05" fill="#e9f0f4"/><rect x="5" y="16" width="1.05" height="1.05" fill="#f0f4f6"/><rect x="6" y="16" width="1.05" height="1.05" fill="#f8f4f2"/><rect x="7" y="16" width="1.05" height="1.05" fill="#f8f0eb"/><rect x="8" y="16" width="1.05" height="1.05" fill="#f8f0eb"/><rect x="9" y="16" width="1.05" height="1.05" fill="#f8f0eb"/><rect x="10" y="16" width="1.05" height="1.05" fill="#f8f0eb"/><rect x="11" y="16" width="1.05" height="1.05" fill="#f8f0eb"/><rect x="12" y="16" width="1.05" height="1.05" fill="#f8f0eb"/></g></g></g><use href="#grd"/><use href="#grdo"/><use href="#lines"/><rect x="0.3" y="0.6" width="62.9" height="80.9" class="fr"/></g><g transform="translate(265 105.7)"><g clip-path="url(#land)"><g filter="url(#bl)"><g transform="scale(5.2917 5.1250)"><rect x="-1" y="-1" width="1.05" height="1.05" fill="#cce2ee"/><rect x="0" y="-1" width="1.05" height="1.05" fill="#cce2ee"/><rect x="1" y="-1" width="1.05" height="1.05" fill="#d0e4f0"/><rect x="2" y="-1" width="1.05" height="1.05" fill="#d5e7f1"/><rect x="3" y="-1" width="1.05" height="1.05" fill="#d7e8f1"/><rect x="4" y="-1" width="1.05" height="1.05" fill="#d7e8f1"/><rect x="5" y="-1" width="1.05" height="1.05" fill="#d8e8f1"/><rect x="6" y="-1" width="1.05" height="1.05" fill="#dae9f2"/><rect x="7" y="-1" width="1.05" height="1.05" fill="#dbeaf2"/><rect x="8" y="-1" width="1.05" height="1.05" fill="#ddebf2"/><rect x="9" y="-1" width="1.05" height="1.05" fill="#deebf2"/><rect x="10" y="-1" width="1.05" height="1.05" fill="#deebf2"/><rect x="11" y="-1" width="1.05" height="1.05" fill="#c1ddec"/><rect x="12" y="-1" width="1.05" height="1.05" fill="#c1ddec"/><rect x="-1" y="0" width="1.05" height="1.05" fill="#cce2ee"/><rect x="0" y="0" width="1.05" height="1.05" fill="#cce2ee"/><rect x="1" y="0" width="1.05" height="1.05" fill="#d0e4f0"/><rect x="2" y="0" width="1.05" height="1.05" fill="#d5e7f1"/><rect x="3" y="0" width="1.05" height="1.05" fill="#d7e8f1"/><rect x="4" y="0" width="1.05" height="1.05" fill="#d7e8f1"/><rect x="5" y="0" width="1.05" height="1.05" fill="#d8e8f1"/><rect x="6" y="0" width="1.05" height="1.05" fill="#dae9f2"/><rect x="7" y="0" width="1.05" height="1.05" fill="#dbeaf2"/><rect x="8" y="0" width="1.05" height="1.05" fill="#ddebf2"/><rect x="9" y="0" width="1.05" height="1.05" fill="#deebf2"/><rect x="10" y="0" width="1.05" height="1.05" fill="#deebf2"/><rect x="11" y="0" width="1.05" height="1.05" fill="#c1ddec"/><rect x="12" y="0" width="1.05" height="1.05" fill="#c1ddec"/><rect x="-1" y="1" width="1.05" height="1.05" fill="#cae1ee"/><rect x="0" y="1" width="1.05" height="1.05" fill="#cae1ee"/><rect x="1" y="1" width="1.05" height="1.05" fill="#cde3ef"/><rect x="2" y="1" width="1.05" height="1.05" fill="#d3e6f0"/><rect x="3" y="1" width="1.05" height="1.05" fill="#d5e7f1"/><rect x="4" y="1" width="1.05" height="1.05" fill="#d5e7f1"/><rect x="5" y="1" width="1.05" height="1.05" fill="#d6e7f1"/><rect x="6" y="1" width="1.05" height="1.05" fill="#d6e7f1"/><rect x="7" y="1" width="1.05" height="1.05" fill="#d8e8f1"/><rect x="8" y="1" width="1.05" height="1.05" fill="#dae9f2"/><rect x="9" y="1" width="1.05" height="1.05" fill="#dceaf2"/><rect x="10" y="1" width="1.05" height="1.05" fill="#d5e7f1"/><rect x="11" y="1" width="1.05" height="1.05" fill="#c1ddec"/><rect x="12" y="1" width="1.05" height="1.05" fill="#c1ddec"/><rect x="-1" y="2" width="1.05" height="1.05" fill="#c6dfed"/><rect x="0" y="2" width="1.05" height="1.05" fill="#c6dfed"/><rect x="1" y="2" width="1.05" height="1.05" fill="#c9e1ee"/><rect x="2" y="2" width="1.05" height="1.05" fill="#cfe4ef"/><rect x="3" y="2" width="1.05" height="1.05" fill="#d1e5f0"/><rect x="4" y="2" width="1.05" height="1.05" fill="#d1e5f0"/><rect x="5" y="2" width="1.05" height="1.05" fill="#d0e4f0"/><rect x="6" y="2" width="1.05" height="1.05" fill="#cde3ef"/><rect x="7" y="2" width="1.05" height="1.05" fill="#cfe4f0"/><rect x="8" y="2" width="1.05" height="1.05" fill="#d5e7f1"/><rect x="9" y="2" width="1.05" height="1.05" fill="#d9e9f1"/><rect x="10" y="2" width="1.05" height="1.05" fill="#c1ddec"/><rect x="11" y="2" width="1.05" height="1.05" fill="#c1ddec"/><rect x="12" y="2" width="1.05" height="1.05" fill="#c1ddec"/><rect x="-1" y="3" width="1.05" height="1.05" fill="#c1ddeb"/><rect x="0" y="3" width="1.05" height="1.05" fill="#c1ddeb"/><rect x="1" y="3" width="1.05" height="1.05" fill="#c3deec"/><rect x="2" y="3" width="1.05" height="1.05" fill="#c7e0ed"/><rect x="3" y="3" width="1.05" height="1.05" fill="#cae1ee"/><rect x="4" y="3" width="1.05" height="1.05" fill="#cae1ee"/><rect x="5" y="3" width="1.05" height="1.05" fill="#c8e0ed"/><rect x="6" y="3" width="1.05" height="1.05" fill="#c4deec"/><rect x="7" y="3" width="1.05" height="1.05" fill="#c7e0ed"/><rect x="8" y="3" width="1.05" height="1.05" fill="#d1e5f0"/><rect x="9" y="3" width="1.05" height="1.05" fill="#d6e8f1"/><rect x="10" y="3" width="1.05" height="1.05" fill="#c1ddec"/><rect x="11" y="3" width="1.05" height="1.05" fill="#d1e5f0"/><rect x="12" y="3" width="1.05" height="1.05" fill="#d1e5f0"/><rect x="-1" y="4" width="1.05" height="1.05" fill="#bad9e9"/><rect x="0" y="4" width="1.05" height="1.05" fill="#bad9e9"/><rect x="1" y="4" width="1.05" height="1.05" fill="#bcdaea"/><rect x="2" y="4" width="1.05" height="1.05" fill="#bfdceb"/><rect x="3" y="4" width="1.05" height="1.05" fill="#c1ddeb"/><rect x="4" y="4" width="1.05" height="1.05" fill="#c1ddeb"/><rect x="5" y="4" width="1.05" height="1.05" fill="#c0dceb"/><rect x="6" y="4" width="1.05" height="1.05" fill="#bfdceb"/><rect x="7" y="4" width="1.05" height="1.05" fill="#c3deec"/><rect x="8" y="4" width="1.05" height="1.05" fill="#cee3ef"/><rect x="9" y="4" width="1.05" height="1.05" fill="#cce2ee"/><rect x="10" y="4" width="1.05" height="1.05" fill="#c1ddec"/><rect x="11" y="4" width="1.05" height="1.05" fill="#dbeaf2"/><rect x="12" y="4" width="1.05" height="1.05" fill="#dbeaf2"/><rect x="-1" y="5" width="1.05" height="1.05" fill="#b2d5e7"/><rect x="0" y="5" width="1.05" height="1.05" fill="#b2d5e7"/><rect x="1" y="5" width="1.05" height="1.05" fill="#b3d6e7"/><rect x="2" y="5" width="1.05" height="1.05" fill="#b5d7e8"/><rect x="3" y="5" width="1.05" height="1.05" fill="#b7d8e9"/><rect x="4" y="5" width="1.05" height="1.05" fill="#b8d8e9"/><rect x="5" y="5" width="1.05" height="1.05" fill="#b9d9e9"/><rect x="6" y="5" width="1.05" height="1.05" fill="#bcdaea"/><rect x="7" y="5" width="1.05" height="1.05" fill="#c3deec"/><rect x="8" y="5" width="1.05" height="1.05" fill="#cde3ef"/><rect x="9" y="5" width="1.05" height="1.05" fill="#c1ddec"/><rect x="10" y="5" width="1.05" height="1.05" fill="#c1ddec"/><rect x="11" y="5" width="1.05" height="1.05" fill="#daeaf2"/><rect x="12" y="5" width="1.05" height="1.05" fill="#daeaf2"/><rect x="-1" y="6" width="1.05" height="1.05" fill="#a7d0e4"/><rect x="0" y="6" width="1.05" height="1.05" fill="#a7d0e4"/><rect x="1" y="6" width="1.05" height="1.05" fill="#a8d0e4"/><rect x="2" y="6" width="1.05" height="1.05" fill="#abd2e5"/><rect x="3" y="6" width="1.05" height="1.05" fill="#add3e6"/><rect x="4" y="6" width="1.05" height="1.05" fill="#afd4e6"/><rect x="5" y="6" width="1.05" height="1.05" fill="#b4d6e8"/><rect x="6" y="6" width="1.05" height="1.05" fill="#bcdaea"/><rect x="7" y="6" width="1.05" height="1.05" fill="#c5dfed"/><rect x="8" y="6" width="1.05" height="1.05" fill="#c8e0ed"/><rect x="9" y="6" width="1.05" height="1.05" fill="#c1ddec"/><rect x="10" y="6" width="1.05" height="1.05" fill="#d0e4f0"/><rect x="11" y="6" width="1.05" height="1.05" fill="#daeaf2"/><rect x="12" y="6" width="1.05" height="1.05" fill="#daeaf2"/><rect x="-1" y="7" width="1.05" height="1.05" fill="#a0cce2"/><rect x="0" y="7" width="1.05" height="1.05" fill="#a0cce2"/><rect x="1" y="7" width="1.05" height="1.05" fill="#a1cce2"/><rect x="2" y="7" width="1.05" height="1.05" fill="#a1cde2"/><rect x="3" y="7" width="1.05" height="1.05" fill="#a4cee3"/><rect x="4" y="7" width="1.05" height="1.05" fill="#a9d0e4"/><rect x="5" y="7" width="1.05" height="1.05" fill="#b0d4e7"/><rect x="6" y="7" width="1.05" height="1.05" fill="#bad9e9"/><rect x="7" y="7" width="1.05" height="1.05" fill="#c2ddec"/><rect x="8" y="7" width="1.05" height="1.05" fill="#c1ddec"/><rect x="9" y="7" width="1.05" height="1.05" fill="#c3deec"/><rect x="10" y="7" width="1.05" height="1.05" fill="#d5e7f1"/><rect x="11" y="7" width="1.05" height="1.05" fill="#d6e7f1"/><rect x="12" y="7" width="1.05" height="1.05" fill="#d6e7f1"/><rect x="-1" y="8" width="1.05" height="1.05" fill="#9ecbe1"/><rect x="0" y="8" width="1.05" height="1.05" fill="#9ecbe1"/><rect x="1" y="8" width="1.05" height="1.05" fill="#9ccae1"/><rect x="2" y="8" width="1.05" height="1.05" fill="#99c8e0"/><rect x="3" y="8" width="1.05" height="1.05" fill="#9ccae1"/><rect x="4" y="8" width="1.05" height="1.05" fill="#a4cee3"/><rect x="5" y="8" width="1.05" height="1.05" fill="#add2e6"/><rect x="6" y="8" width="1.05" height="1.05" fill="#b9d9e9"/><rect x="7" y="8" width="1.05" height="1.05" fill="#c1ddec"/><rect x="8" y="8" width="1.05" height="1.05" fill="#c2ddec"/><rect x="9" y="8" width="1.05" height="1.05" fill="#c7e0ed"/><rect x="10" y="8" width="1.05" height="1.05" fill="#c8e1ee"/><rect x="11" y="8" width="1.05" height="1.05" fill="#c9e1ee"/><rect x="12" y="8" width="1.05" height="1.05" fill="#c9e1ee"/><rect x="-1" y="9" width="1.05" height="1.05" fill="#99c8e0"/><rect x="0" y="9" width="1.05" height="1.05" fill="#99c8e0"/><rect x="1" y="9" width="1.05" height="1.05" fill="#96c7df"/><rect x="2" y="9" width="1.05" height="1.05" fill="#8fc3dd"/><rect x="3" y="9" width="1.05" height="1.05" fill="#92c5de"/><rect x="4" y="9" width="1.05" height="1.05" fill="#9ccae1"/><rect x="5" y="9" width="1.05" height="1.05" fill="#a5cfe3"/><rect x="6" y="9" width="1.05" height="1.05" fill="#c1ddec"/><rect x="7" y="9" width="1.05" height="1.05" fill="#c1ddec"/><rect x="8" y="9" width="1.05" height="1.05" fill="#bbdaea"/><rect x="9" y="9" width="1.05" height="1.05" fill="#bddbea"/><rect x="10" y="9" width="1.05" height="1.05" fill="#bddbea"/><rect x="11" y="9" width="1.05" height="1.05" fill="#bddbea"/><rect x="12" y="9" width="1.05" height="1.05" fill="#bddbea"/><rect x="-1" y="10" width="1.05" height="1.05" fill="#90c4dd"/><rect x="0" y="10" width="1.05" height="1.05" fill="#90c4dd"/><rect x="1" y="10" width="1.05" height="1.05" fill="#8cc1dc"/><rect x="2" y="10" width="1.05" height="1.05" fill="#83bbd9"/><rect x="3" y="10" width="1.05" height="1.05" fill="#84bcd9"/><rect x="4" y="10" width="1.05" height="1.05" fill="#8ec3dd"/><rect x="5" y="10" width="1.05" height="1.05" fill="#acd2e6"/><rect x="6" y="10" width="1.05" height="1.05" fill="#c1ddec"/><rect x="7" y="10" width="1.05" height="1.05" fill="#afd4e6"/><rect x="8" y="10" width="1.05" height="1.05" fill="#b3d6e7"/><rect x="9" y="10" width="1.05" height="1.05" fill="#b5d7e8"/><rect x="10" y="10" width="1.05" height="1.05" fill="#b5d7e8"/><rect x="11" y="10" width="1.05" height="1.05" fill="#b5d7e8"/><rect x="12" y="10" width="1.05" height="1.05" fill="#b5d7e8"/><rect x="-1" y="11" width="1.05" height="1.05" fill="#93c6de"/><rect x="0" y="11" width="1.05" height="1.05" fill="#93c6de"/><rect x="1" y="11" width="1.05" height="1.05" fill="#8dc2dc"/><rect x="2" y="11" width="1.05" height="1.05" fill="#80bad8"/><rect x="3" y="11" width="1.05" height="1.05" fill="#7db8d7"/><rect x="4" y="11" width="1.05" height="1.05" fill="#84bcd9"/><rect x="5" y="11" width="1.05" height="1.05" fill="#c1ddec"/><rect x="6" y="11" width="1.05" height="1.05" fill="#c1ddec"/><rect x="7" y="11" width="1.05" height="1.05" fill="#abd2e5"/><rect x="8" y="11" width="1.05" height="1.05" fill="#b0d4e7"/><rect x="9" y="11" width="1.05" height="1.05" fill="#b3d6e7"/><rect x="10" y="11" width="1.05" height="1.05" fill="#b3d6e7"/><rect x="11" y="11" width="1.05" height="1.05" fill="#b3d6e7"/><rect x="12" y="11" width="1.05" height="1.05" fill="#b3d6e7"/><rect x="-1" y="12" width="1.05" height="1.05" fill="#a0cce2"/><rect x="0" y="12" width="1.05" height="1.05" fill="#a0cce2"/><rect x="1" y="12" width="1.05" height="1.05" fill="#99c8e0"/><rect x="2" y="12" width="1.05" height="1.05" fill="#86beda"/><rect x="3" y="12" width="1.05" height="1.05" fill="#7eb8d7"/><rect x="4" y="12" width="1.05" height="1.05" fill="#b8d8e9"/><rect x="5" y="12" width="1.05" height="1.05" fill="#c1ddec"/><rect x="6" y="12" width="1.05" height="1.05" fill="#a1cde2"/><rect x="7" y="12" width="1.05" height="1.05" fill="#aed3e6"/><rect x="8" y="12" width="1.05" height="1.05" fill="#b3d6e7"/><rect x="9" y="12" width="1.05" height="1.05" fill="#b5d7e8"/><rect x="10" y="12" width="1.05" height="1.05" fill="#b5d7e8"/><rect x="11" y="12" width="1.05" height="1.05" fill="#b5d7e8"/><rect x="12" y="12" width="1.05" height="1.05" fill="#b5d7e8"/><rect x="-1" y="13" width="1.05" height="1.05" fill="#a6cfe4"/><rect x="0" y="13" width="1.05" height="1.05" fill="#a6cfe4"/><rect x="1" y="13" width="1.05" height="1.05" fill="#9dcbe1"/><rect x="2" y="13" width="1.05" height="1.05" fill="#8bc0db"/><rect x="3" y="13" width="1.05" height="1.05" fill="#7fb9d8"/><rect x="4" y="13" width="1.05" height="1.05" fill="#c1ddec"/><rect x="5" y="13" width="1.05" height="1.05" fill="#b7d8e9"/><rect x="6" y="13" width="1.05" height="1.05" fill="#a3cee3"/><rect x="7" y="13" width="1.05" height="1.05" fill="#b1d5e7"/><rect x="8" y="13" width="1.05" height="1.05" fill="#b6d7e8"/><rect x="9" y="13" width="1.05" height="1.05" fill="#b8d8e9"/><rect x="10" y="13" width="1.05" height="1.05" fill="#b8d8e9"/><rect x="11" y="13" width="1.05" height="1.05" fill="#b8d8e9"/><rect x="12" y="13" width="1.05" height="1.05" fill="#b8d8e9"/><rect x="-1" y="14" width="1.05" height="1.05" fill="#a3cee3"/><rect x="0" y="14" width="1.05" height="1.05" fill="#a3cee3"/><rect x="1" y="14" width="1.05" height="1.05" fill="#9ccae1"/><rect x="2" y="14" width="1.05" height="1.05" fill="#8cc1dc"/><rect x="3" y="14" width="1.05" height="1.05" fill="#92c5de"/><rect x="4" y="14" width="1.05" height="1.05" fill="#c1ddec"/><rect x="5" y="14" width="1.05" height="1.05" fill="#95c7df"/><rect x="6" y="14" width="1.05" height="1.05" fill="#a7d0e4"/><rect x="7" y="14" width="1.05" height="1.05" fill="#b6d7e8"/><rect x="8" y="14" width="1.05" height="1.05" fill="#b9d9e9"/><rect x="9" y="14" width="1.05" height="1.05" fill="#bbdaea"/><rect x="10" y="14" width="1.05" height="1.05" fill="#bbdaea"/><rect x="11" y="14" width="1.05" height="1.05" fill="#bbdaea"/><rect x="12" y="14" width="1.05" height="1.05" fill="#bbdaea"/><rect x="-1" y="15" width="1.05" height="1.05" fill="#a2cde2"/><rect x="0" y="15" width="1.05" height="1.05" fill="#a2cde2"/><rect x="1" y="15" width="1.05" height="1.05" fill="#9bcae1"/><rect x="2" y="15" width="1.05" height="1.05" fill="#8dc2dc"/><rect x="3" y="15" width="1.05" height="1.05" fill="#b3d6e8"/><rect x="4" y="15" width="1.05" height="1.05" fill="#c1ddec"/><rect x="5" y="15" width="1.05" height="1.05" fill="#8ac0db"/><rect x="6" y="15" width="1.05" height="1.05" fill="#a8d0e4"/><rect x="7" y="15" width="1.05" height="1.05" fill="#b8d8e9"/><rect x="8" y="15" width="1.05" height="1.05" fill="#bbdaea"/><rect x="9" y="15" width="1.05" height="1.05" fill="#bcdaea"/><rect x="10" y="15" width="1.05" height="1.05" fill="#bcdaea"/><rect x="11" y="15" width="1.05" height="1.05" fill="#bcdaea"/><rect x="12" y="15" width="1.05" height="1.05" fill="#bcdaea"/><rect x="-1" y="16" width="1.05" height="1.05" fill="#a2cde2"/><rect x="0" y="16" width="1.05" height="1.05" fill="#a2cde2"/><rect x="1" y="16" width="1.05" height="1.05" fill="#9bcae1"/><rect x="2" y="16" width="1.05" height="1.05" fill="#8dc2dc"/><rect x="3" y="16" width="1.05" height="1.05" fill="#b3d6e8"/><rect x="4" y="16" width="1.05" height="1.05" fill="#c1ddec"/><rect x="5" y="16" width="1.05" height="1.05" fill="#8ac0db"/><rect x="6" y="16" width="1.05" height="1.05" fill="#a8d0e4"/><rect x="7" y="16" width="1.05" height="1.05" fill="#b8d8e9"/><rect x="8" y="16" width="1.05" height="1.05" fill="#bbdaea"/><rect x="9" y="16" width="1.05" height="1.05" fill="#bcdaea"/><rect x="10" y="16" width="1.05" height="1.05" fill="#bcdaea"/><rect x="11" y="16" width="1.05" height="1.05" fill="#bcdaea"/><rect x="12" y="16" width="1.05" height="1.05" fill="#bcdaea"/></g></g></g><use href="#grd"/><use href="#grdo"/><use href="#lines"/><rect x="0.3" y="0.6" width="62.9" height="80.9" class="fr"/></g><g transform="translate(348 105.7)"><g clip-path="url(#land)"><g filter="url(#bl)"><g transform="scale(5.2917 5.1250)"><rect x="-1" y="-1" width="1.05" height="1.05" fill="#a7d0e4"/><rect x="0" y="-1" width="1.05" height="1.05" fill="#a7d0e4"/><rect x="1" y="-1" width="1.05" height="1.05" fill="#a7d0e4"/><rect x="2" y="-1" width="1.05" height="1.05" fill="#a7d0e4"/><rect x="3" y="-1" width="1.05" height="1.05" fill="#a8d0e4"/><rect x="4" y="-1" width="1.05" height="1.05" fill="#abd2e5"/><rect x="5" y="-1" width="1.05" height="1.05" fill="#acd2e6"/><rect x="6" y="-1" width="1.05" height="1.05" fill="#acd2e6"/><rect x="7" y="-1" width="1.05" height="1.05" fill="#b0d4e7"/><rect x="8" y="-1" width="1.05" height="1.05" fill="#b8d8e9"/><rect x="9" y="-1" width="1.05" height="1.05" fill="#c0dceb"/><rect x="10" y="-1" width="1.05" height="1.05" fill="#c8e0ed"/><rect x="11" y="-1" width="1.05" height="1.05" fill="#acd2e6"/><rect x="12" y="-1" width="1.05" height="1.05" fill="#acd2e6"/><rect x="-1" y="0" width="1.05" height="1.05" fill="#a7d0e4"/><rect x="0" y="0" width="1.05" height="1.05" fill="#a7d0e4"/><rect x="1" y="0" width="1.05" height="1.05" fill="#a7d0e4"/><rect x="2" y="0" width="1.05" height="1.05" fill="#a7d0e4"/><rect x="3" y="0" width="1.05" height="1.05" fill="#a8d0e4"/><rect x="4" y="0" width="1.05" height="1.05" fill="#abd2e5"/><rect x="5" y="0" width="1.05" height="1.05" fill="#acd2e6"/><rect x="6" y="0" width="1.05" height="1.05" fill="#acd2e6"/><rect x="7" y="0" width="1.05" height="1.05" fill="#b0d4e7"/><rect x="8" y="0" width="1.05" height="1.05" fill="#b8d8e9"/><rect x="9" y="0" width="1.05" height="1.05" fill="#c0dceb"/><rect x="10" y="0" width="1.05" height="1.05" fill="#c8e0ed"/><rect x="11" y="0" width="1.05" height="1.05" fill="#acd2e6"/><rect x="12" y="0" width="1.05" height="1.05" fill="#acd2e6"/><rect x="-1" y="1" width="1.05" height="1.05" fill="#a6cfe4"/><rect x="0" y="1" width="1.05" height="1.05" fill="#a6cfe4"/><rect x="1" y="1" width="1.05" height="1.05" fill="#a6cfe4"/><rect x="2" y="1" width="1.05" height="1.05" fill="#a6cfe4"/><rect x="3" y="1" width="1.05" height="1.05" fill="#a7d0e4"/><rect x="4" y="1" width="1.05" height="1.05" fill="#aad1e5"/><rect x="5" y="1" width="1.05" height="1.05" fill="#aad1e5"/><rect x="6" y="1" width="1.05" height="1.05" fill="#a9d1e5"/><rect x="7" y="1" width="1.05" height="1.05" fill="#add3e6"/><rect x="8" y="1" width="1.05" height="1.05" fill="#b6d7e8"/><rect x="9" y="1" width="1.05" height="1.05" fill="#bfdceb"/><rect x="10" y="1" width="1.05" height="1.05" fill="#bedbea"/><rect x="11" y="1" width="1.05" height="1.05" fill="#acd2e6"/><rect x="12" y="1" width="1.05" height="1.05" fill="#acd2e6"/><rect x="-1" y="2" width="1.05" height="1.05" fill="#a3cee3"/><rect x="0" y="2" width="1.05" height="1.05" fill="#a3cee3"/><rect x="1" y="2" width="1.05" height="1.05" fill="#a3cee3"/><rect x="2" y="2" width="1.05" height="1.05" fill="#a3cee3"/><rect x="3" y="2" width="1.05" height="1.05" fill="#a4cee3"/><rect x="4" y="2" width="1.05" height="1.05" fill="#a7d0e4"/><rect x="5" y="2" width="1.05" height="1.05" fill="#a6cfe4"/><rect x="6" y="2" width="1.05" height="1.05" fill="#a2cde3"/><rect x="7" y="2" width="1.05" height="1.05" fill="#a6cfe4"/><rect x="8" y="2" width="1.05" height="1.05" fill="#b2d5e7"/><rect x="9" y="2" width="1.05" height="1.05" fill="#bedbeb"/><rect x="10" y="2" width="1.05" height="1.05" fill="#acd2e6"/><rect x="11" y="2" width="1.05" height="1.05" fill="#acd2e6"/><rect x="12" y="2" width="1.05" height="1.05" fill="#acd2e6"/><rect x="-1" y="3" width="1.05" height="1.05" fill="#a0cce2"/><rect x="0" y="3" width="1.05" height="1.05" fill="#a0cce2"/><rect x="1" y="3" width="1.05" height="1.05" fill="#a0cce2"/><rect x="2" y="3" width="1.05" height="1.05" fill="#a0cce2"/><rect x="3" y="3" width="1.05" height="1.05" fill="#a1cde2"/><rect x="4" y="3" width="1.05" height="1.05" fill="#a5cee3"/><rect x="5" y="3" width="1.05" height="1.05" fill="#a5cee3"/><rect x="6" y="3" width="1.05" height="1.05" fill="#a1cde2"/><rect x="7" y="3" width="1.05" height="1.05" fill="#a6cfe4"/><rect x="8" y="3" width="1.05" height="1.05" fill="#b2d6e7"/><rect x="9" y="3" width="1.05" height="1.05" fill="#bfdceb"/><rect x="10" y="3" width="1.05" height="1.05" fill="#acd2e6"/><rect x="11" y="3" width="1.05" height="1.05" fill="#bedbeb"/><rect x="12" y="3" width="1.05" height="1.05" fill="#bedbeb"/><rect x="-1" y="4" width="1.05" height="1.05" fill="#9ccae1"/><rect x="0" y="4" width="1.05" height="1.05" fill="#9ccae1"/><rect x="1" y="4" width="1.05" height="1.05" fill="#9ccae1"/><rect x="2" y="4" width="1.05" height="1.05" fill="#9ccae1"/><rect x="3" y="4" width="1.05" height="1.05" fill="#9ecbe1"/><rect x="4" y="4" width="1.05" height="1.05" fill="#a3cee3"/><rect x="5" y="4" width="1.05" height="1.05" fill="#a5cfe4"/><rect x="6" y="4" width="1.05" height="1.05" fill="#a6cfe4"/><rect x="7" y="4" width="1.05" height="1.05" fill="#acd2e5"/><rect x="8" y="4" width="1.05" height="1.05" fill="#b7d8e9"/><rect x="9" y="4" width="1.05" height="1.05" fill="#b6d7e8"/><rect x="10" y="4" width="1.05" height="1.05" fill="#acd2e6"/><rect x="11" y="4" width="1.05" height="1.05" fill="#cfe4ef"/><rect x="12" y="4" width="1.05" height="1.05" fill="#cfe4ef"/><rect x="-1" y="5" width="1.05" height="1.05" fill="#96c7df"/><rect x="0" y="5" width="1.05" height="1.05" fill="#96c7df"/><rect x="1" y="5" width="1.05" height="1.05" fill="#96c7df"/><rect x="2" y="5" width="1.05" height="1.05" fill="#97c8df"/><rect x="3" y="5" width="1.05" height="1.05" fill="#9ac9e0"/><rect x="4" y="5" width="1.05" height="1.05" fill="#9fcce2"/><rect x="5" y="5" width="1.05" height="1.05" fill="#a4cee3"/><rect x="6" y="5" width="1.05" height="1.05" fill="#a9d0e4"/><rect x="7" y="5" width="1.05" height="1.05" fill="#b0d4e7"/><rect x="8" y="5" width="1.05" height="1.05" fill="#bbdaea"/><rect x="9" y="5" width="1.05" height="1.05" fill="#acd2e6"/><rect x="10" y="5" width="1.05" height="1.05" fill="#acd2e6"/><rect x="11" y="5" width="1.05" height="1.05" fill="#d0e4f0"/><rect x="12" y="5" width="1.05" height="1.05" fill="#d0e4f0"/><rect x="-1" y="6" width="1.05" height="1.05" fill="#8dc2dc"/><rect x="0" y="6" width="1.05" height="1.05" fill="#8dc2dc"/><rect x="1" y="6" width="1.05" height="1.05" fill="#8ec3dd"/><rect x="2" y="6" width="1.05" height="1.05" fill="#91c4de"/><rect x="3" y="6" width="1.05" height="1.05" fill="#95c6df"/><rect x="4" y="6" width="1.05" height="1.05" fill="#9ac9e0"/><rect x="5" y="6" width="1.05" height="1.05" fill="#a1cce2"/><rect x="6" y="6" width="1.05" height="1.05" fill="#a9d1e5"/><rect x="7" y="6" width="1.05" height="1.05" fill="#b3d6e7"/><rect x="8" y="6" width="1.05" height="1.05" fill="#b4d6e8"/><rect x="9" y="6" width="1.05" height="1.05" fill="#acd2e6"/><rect x="10" y="6" width="1.05" height="1.05" fill="#bedbea"/><rect x="11" y="6" width="1.05" height="1.05" fill="#d2e5f0"/><rect x="12" y="6" width="1.05" height="1.05" fill="#d2e5f0"/><rect x="-1" y="7" width="1.05" height="1.05" fill="#86beda"/><rect x="0" y="7" width="1.05" height="1.05" fill="#86beda"/><rect x="1" y="7" width="1.05" height="1.05" fill="#87beda"/><rect x="2" y="7" width="1.05" height="1.05" fill="#88beda"/><rect x="3" y="7" width="1.05" height="1.05" fill="#8cc1dc"/><rect x="4" y="7" width="1.05" height="1.05" fill="#93c6de"/><rect x="5" y="7" width="1.05" height="1.05" fill="#9ccae1"/><rect x="6" y="7" width="1.05" height="1.05" fill="#a7d0e4"/><rect x="7" y="7" width="1.05" height="1.05" fill="#aed3e6"/><rect x="8" y="7" width="1.05" height="1.05" fill="#acd2e6"/><rect x="9" y="7" width="1.05" height="1.05" fill="#aed3e6"/><rect x="10" y="7" width="1.05" height="1.05" fill="#c7e0ed"/><rect x="11" y="7" width="1.05" height="1.05" fill="#cae2ee"/><rect x="12" y="7" width="1.05" height="1.05" fill="#cae2ee"/><rect x="-1" y="8" width="1.05" height="1.05" fill="#83bcd9"/><rect x="0" y="8" width="1.05" height="1.05" fill="#83bcd9"/><rect x="1" y="8" width="1.05" height="1.05" fill="#81bad8"/><rect x="2" y="8" width="1.05" height="1.05" fill="#7db8d7"/><rect x="3" y="8" width="1.05" height="1.05" fill="#7fb9d8"/><rect x="4" y="8" width="1.05" height="1.05" fill="#89bfdb"/><rect x="5" y="8" width="1.05" height="1.05" fill="#94c6df"/><rect x="6" y="8" width="1.05" height="1.05" fill="#a5cee3"/><rect x="7" y="8" width="1.05" height="1.05" fill="#acd2e6"/><rect x="8" y="8" width="1.05" height="1.05" fill="#add3e6"/><rect x="9" y="8" width="1.05" height="1.05" fill="#b5d7e8"/><rect x="10" y="8" width="1.05" height="1.05" fill="#b7d8e9"/><rect x="11" y="8" width="1.05" height="1.05" fill="#b8d8e9"/><rect x="12" y="8" width="1.05" height="1.05" fill="#b8d8e9"/><rect x="-1" y="9" width="1.05" height="1.05" fill="#7cb7d6"/><rect x="0" y="9" width="1.05" height="1.05" fill="#7cb7d6"/><rect x="1" y="9" width="1.05" height="1.05" fill="#78b4d5"/><rect x="2" y="9" width="1.05" height="1.05" fill="#6fafd2"/><rect x="3" y="9" width="1.05" height="1.05" fill="#70b0d2"/><rect x="4" y="9" width="1.05" height="1.05" fill="#7ab6d6"/><rect x="5" y="9" width="1.05" height="1.05" fill="#88bfdb"/><rect x="6" y="9" width="1.05" height="1.05" fill="#acd2e6"/><rect x="7" y="9" width="1.05" height="1.05" fill="#acd2e6"/><rect x="8" y="9" width="1.05" height="1.05" fill="#a8d0e4"/><rect x="9" y="9" width="1.05" height="1.05" fill="#aad1e5"/><rect x="10" y="9" width="1.05" height="1.05" fill="#aad1e5"/><rect x="11" y="9" width="1.05" height="1.05" fill="#aad1e5"/><rect x="12" y="9" width="1.05" height="1.05" fill="#aad1e5"/><rect x="-1" y="10" width="1.05" height="1.05" fill="#70b0d2"/><rect x="0" y="10" width="1.05" height="1.05" fill="#70b0d2"/><rect x="1" y="10" width="1.05" height="1.05" fill="#6aacd0"/><rect x="2" y="10" width="1.05" height="1.05" fill="#5fa5cd"/><rect x="3" y="10" width="1.05" height="1.05" fill="#5ea4cc"/><rect x="4" y="10" width="1.05" height="1.05" fill="#68aad0"/><rect x="5" y="10" width="1.05" height="1.05" fill="#94c6de"/><rect x="6" y="10" width="1.05" height="1.05" fill="#acd2e6"/><rect x="7" y="10" width="1.05" height="1.05" fill="#9ac9e0"/><rect x="8" y="10" width="1.05" height="1.05" fill="#9ecbe2"/><rect x="9" y="10" width="1.05" height="1.05" fill="#a1cde2"/><rect x="10" y="10" width="1.05" height="1.05" fill="#a1cde2"/><rect x="11" y="10" width="1.05" height="1.05" fill="#a1cde2"/><rect x="12" y="10" width="1.05" height="1.05" fill="#a1cde2"/><rect x="-1" y="11" width="1.05" height="1.05" fill="#73b1d3"/><rect x="0" y="11" width="1.05" height="1.05" fill="#73b1d3"/><rect x="1" y="11" width="1.05" height="1.05" fill="#6bacd1"/><rect x="2" y="11" width="1.05" height="1.05" fill="#5ba2cb"/><rect x="3" y="11" width="1.05" height="1.05" fill="#57a0ca"/><rect x="4" y="11" width="1.05" height="1.05" fill="#5da4cc"/><rect x="5" y="11" width="1.05" height="1.05" fill="#acd2e6"/><rect x="6" y="11" width="1.05" height="1.05" fill="#acd2e6"/><rect x="7" y="11" width="1.05" height="1.05" fill="#97c8e0"/><rect x="8" y="11" width="1.05" height="1.05" fill="#9ccae1"/><rect x="9" y="11" width="1.05" height="1.05" fill="#9fcce2"/><rect x="10" y="11" width="1.05" height="1.05" fill="#9fcce2"/><rect x="11" y="11" width="1.05" height="1.05" fill="#9fcce2"/><rect x="12" y="11" width="1.05" height="1.05" fill="#9fcce2"/><rect x="-1" y="12" width="1.05" height="1.05" fill="#83bcd9"/><rect x="0" y="12" width="1.05" height="1.05" fill="#83bcd9"/><rect x="1" y="12" width="1.05" height="1.05" fill="#79b5d5"/><rect x="2" y="12" width="1.05" height="1.05" fill="#64a8ce"/><rect x="3" y="12" width="1.05" height="1.05" fill="#5aa2cb"/><rect x="4" y="12" width="1.05" height="1.05" fill="#a1cde2"/><rect x="5" y="12" width="1.05" height="1.05" fill="#acd2e6"/><rect x="6" y="12" width="1.05" height="1.05" fill="#8bc1dc"/><rect x="7" y="12" width="1.05" height="1.05" fill="#9ccae1"/><rect x="8" y="12" width="1.05" height="1.05" fill="#a2cde2"/><rect x="9" y="12" width="1.05" height="1.05" fill="#a4cee3"/><rect x="10" y="12" width="1.05" height="1.05" fill="#a4cee3"/><rect x="11" y="12" width="1.05" height="1.05" fill="#a4cee3"/><rect x="12" y="12" width="1.05" height="1.05" fill="#a4cee3"/><rect x="-1" y="13" width="1.05" height="1.05" fill="#8dc2dc"/><rect x="0" y="13" width="1.05" height="1.05" fill="#8dc2dc"/><rect x="1" y="13" width="1.05" height="1.05" fill="#83bbd9"/><rect x="2" y="13" width="1.05" height="1.05" fill="#6eaed2"/><rect x="3" y="13" width="1.05" height="1.05" fill="#61a6cd"/><rect x="4" y="13" width="1.05" height="1.05" fill="#acd2e6"/><rect x="5" y="13" width="1.05" height="1.05" fill="#a1cde2"/><rect x="6" y="13" width="1.05" height="1.05" fill="#90c3dd"/><rect x="7" y="13" width="1.05" height="1.05" fill="#a1cde2"/><rect x="8" y="13" width="1.05" height="1.05" fill="#a6cfe4"/><rect x="9" y="13" width="1.05" height="1.05" fill="#a8d0e4"/><rect x="10" y="13" width="1.05" height="1.05" fill="#a8d0e4"/><rect x="11" y="13" width="1.05" height="1.05" fill="#a8d0e4"/><rect x="12" y="13" width="1.05" height="1.05" fill="#a8d0e4"/><rect x="-1" y="14" width="1.05" height="1.05" fill="#90c4dd"/><rect x="0" y="14" width="1.05" height="1.05" fill="#90c4dd"/><rect x="1" y="14" width="1.05" height="1.05" fill="#89bfdb"/><rect x="2" y="14" width="1.05" height="1.05" fill="#79b5d5"/><rect x="3" y="14" width="1.05" height="1.05" fill="#7bb7d6"/><rect x="4" y="14" width="1.05" height="1.05" fill="#acd2e6"/><rect x="5" y="14" width="1.05" height="1.05" fill="#78b5d5"/><rect x="6" y="14" width="1.05" height="1.05" fill="#94c6df"/><rect x="7" y="14" width="1.05" height="1.05" fill="#a6cfe4"/><rect x="8" y="14" width="1.05" height="1.05" fill="#a9d1e5"/><rect x="9" y="14" width="1.05" height="1.05" fill="#abd2e5"/><rect x="10" y="14" width="1.05" height="1.05" fill="#abd2e5"/><rect x="11" y="14" width="1.05" height="1.05" fill="#abd2e5"/><rect x="12" y="14" width="1.05" height="1.05" fill="#abd2e5"/><rect x="-1" y="15" width="1.05" height="1.05" fill="#92c5de"/><rect x="0" y="15" width="1.05" height="1.05" fill="#92c5de"/><rect x="1" y="15" width="1.05" height="1.05" fill="#8bc1dc"/><rect x="2" y="15" width="1.05" height="1.05" fill="#7eb8d7"/><rect x="3" y="15" width="1.05" height="1.05" fill="#a0cce2"/><rect x="4" y="15" width="1.05" height="1.05" fill="#acd2e6"/><rect x="5" y="15" width="1.05" height="1.05" fill="#6cadd1"/><rect x="6" y="15" width="1.05" height="1.05" fill="#96c7df"/><rect x="7" y="15" width="1.05" height="1.05" fill="#a8d0e4"/><rect x="8" y="15" width="1.05" height="1.05" fill="#abd2e5"/><rect x="9" y="15" width="1.05" height="1.05" fill="#acd2e6"/><rect x="10" y="15" width="1.05" height="1.05" fill="#acd2e6"/><rect x="11" y="15" width="1.05" height="1.05" fill="#acd2e6"/><rect x="12" y="15" width="1.05" height="1.05" fill="#acd2e6"/><rect x="-1" y="16" width="1.05" height="1.05" fill="#92c5de"/><rect x="0" y="16" width="1.05" height="1.05" fill="#92c5de"/><rect x="1" y="16" width="1.05" height="1.05" fill="#8bc1dc"/><rect x="2" y="16" width="1.05" height="1.05" fill="#7eb8d7"/><rect x="3" y="16" width="1.05" height="1.05" fill="#a0cce2"/><rect x="4" y="16" width="1.05" height="1.05" fill="#acd2e6"/><rect x="5" y="16" width="1.05" height="1.05" fill="#6cadd1"/><rect x="6" y="16" width="1.05" height="1.05" fill="#96c7df"/><rect x="7" y="16" width="1.05" height="1.05" fill="#a8d0e4"/><rect x="8" y="16" width="1.05" height="1.05" fill="#abd2e5"/><rect x="9" y="16" width="1.05" height="1.05" fill="#acd2e6"/><rect x="10" y="16" width="1.05" height="1.05" fill="#acd2e6"/><rect x="11" y="16" width="1.05" height="1.05" fill="#acd2e6"/><rect x="12" y="16" width="1.05" height="1.05" fill="#acd2e6"/></g></g></g><use href="#grd"/><use href="#grdo"/><use href="#lines"/><rect x="0.3" y="0.6" width="62.9" height="80.9" class="fr"/></g><g transform="translate(16 199.4)"><g clip-path="url(#land)"><g filter="url(#bl)"><g transform="scale(5.2917 5.1250)"><rect x="-1" y="-1" width="1.05" height="1.05" fill="#fcddcb"/><rect x="0" y="-1" width="1.05" height="1.05" fill="#fcddcb"/><rect x="1" y="-1" width="1.05" height="1.05" fill="#fcddcb"/><rect x="2" y="-1" width="1.05" height="1.05" fill="#fcddcb"/><rect x="3" y="-1" width="1.05" height="1.05" fill="#fdddca"/><rect x="4" y="-1" width="1.05" height="1.05" fill="#fddcc8"/><rect x="5" y="-1" width="1.05" height="1.05" fill="#fdd9c4"/><rect x="6" y="-1" width="1.05" height="1.05" fill="#fcd4be"/><rect x="7" y="-1" width="1.05" height="1.05" fill="#fcd2bb"/><rect x="8" y="-1" width="1.05" height="1.05" fill="#fcd2bb"/><rect x="9" y="-1" width="1.05" height="1.05" fill="#fbcfb7"/><rect x="10" y="-1" width="1.05" height="1.05" fill="#fac8af"/><rect x="11" y="-1" width="1.05" height="1.05" fill="#f9c4aa"/><rect x="12" y="-1" width="1.05" height="1.05" fill="#f9c4aa"/><rect x="-1" y="0" width="1.05" height="1.05" fill="#fcddcb"/><rect x="0" y="0" width="1.05" height="1.05" fill="#fcddcb"/><rect x="1" y="0" width="1.05" height="1.05" fill="#fcddcb"/><rect x="2" y="0" width="1.05" height="1.05" fill="#fcddcb"/><rect x="3" y="0" width="1.05" height="1.05" fill="#fdddca"/><rect x="4" y="0" width="1.05" height="1.05" fill="#fddcc8"/><rect x="5" y="0" width="1.05" height="1.05" fill="#fdd9c4"/><rect x="6" y="0" width="1.05" height="1.05" fill="#fcd4be"/><rect x="7" y="0" width="1.05" height="1.05" fill="#fcd2bb"/><rect x="8" y="0" width="1.05" height="1.05" fill="#fcd2bb"/><rect x="9" y="0" width="1.05" height="1.05" fill="#fbcfb7"/><rect x="10" y="0" width="1.05" height="1.05" fill="#fac8af"/><rect x="11" y="0" width="1.05" height="1.05" fill="#f9c4aa"/><rect x="12" y="0" width="1.05" height="1.05" fill="#f9c4aa"/><rect x="-1" y="1" width="1.05" height="1.05" fill="#fcdecc"/><rect x="0" y="1" width="1.05" height="1.05" fill="#fcdecc"/><rect x="1" y="1" width="1.05" height="1.05" fill="#fcdecc"/><rect x="2" y="1" width="1.05" height="1.05" fill="#fcdecc"/><rect x="3" y="1" width="1.05" height="1.05" fill="#fdddcb"/><rect x="4" y="1" width="1.05" height="1.05" fill="#fddcc8"/><rect x="5" y="1" width="1.05" height="1.05" fill="#fdd8c3"/><rect x="6" y="1" width="1.05" height="1.05" fill="#fcd3bc"/><rect x="7" y="1" width="1.05" height="1.05" fill="#fbcfb8"/><rect x="8" y="1" width="1.05" height="1.05" fill="#fbcfb8"/><rect x="9" y="1" width="1.05" height="1.05" fill="#faccb3"/><rect x="10" y="1" width="1.05" height="1.05" fill="#f9c5ab"/><rect x="11" y="1" width="1.05" height="1.05" fill="#f9c2a7"/><rect x="12" y="1" width="1.05" height="1.05" fill="#f9c2a7"/><rect x="-1" y="2" width="1.05" height="1.05" fill="#fcdfce"/><rect x="0" y="2" width="1.05" height="1.05" fill="#fcdfce"/><rect x="1" y="2" width="1.05" height="1.05" fill="#fcdfce"/><rect x="2" y="2" width="1.05" height="1.05" fill="#fcdfce"/><rect x="3" y="2" width="1.05" height="1.05" fill="#fcdecc"/><rect x="4" y="2" width="1.05" height="1.05" fill="#fddcc9"/><rect x="5" y="2" width="1.05" height="1.05" fill="#fcd7c2"/><rect x="6" y="2" width="1.05" height="1.05" fill="#fbcfb8"/><rect x="7" y="2" width="1.05" height="1.05" fill="#facab2"/><rect x="8" y="2" width="1.05" height="1.05" fill="#fac9b0"/><rect x="9" y="2" width="1.05" height="1.05" fill="#f9c5ab"/><rect x="10" y="2" width="1.05" height="1.05" fill="#f9c0a5"/><rect x="11" y="2" width="1.05" height="1.05" fill="#f8bea2"/><rect x="12" y="2" width="1.05" height="1.05" fill="#f8bea2"/><rect x="-1" y="3" width="1.05" height="1.05" fill="#fce1d1"/><rect x="0" y="3" width="1.05" height="1.05" fill="#fce1d1"/><rect x="1" y="3" width="1.05" height="1.05" fill="#fce1d1"/><rect x="2" y="3" width="1.05" height="1.05" fill="#fce1d1"/><rect x="3" y="3" width="1.05" height="1.05" fill="#fcdfce"/><rect x="4" y="3" width="1.05" height="1.05" fill="#fddcca"/><rect x="5" y="3" width="1.05" height="1.05" fill="#fcd6c1"/><rect x="6" y="3" width="1.05" height="1.05" fill="#fbcdb5"/><rect x="7" y="3" width="1.05" height="1.05" fill="#fac6ad"/><rect x="8" y="3" width="1.05" height="1.05" fill="#f9c4a9"/><rect x="9" y="3" width="1.05" height="1.05" fill="#f19f7e"/><rect x="10" y="3" width="1.05" height="1.05" fill="#f19f7e"/><rect x="11" y="3" width="1.05" height="1.05" fill="#f19f7e"/><rect x="12" y="3" width="1.05" height="1.05" fill="#f19f7e"/><rect x="-1" y="4" width="1.05" height="1.05" fill="#fbe3d5"/><rect x="0" y="4" width="1.05" height="1.05" fill="#fbe3d5"/><rect x="1" y="4" width="1.05" height="1.05" fill="#fbe3d5"/><rect x="2" y="4" width="1.05" height="1.05" fill="#fbe3d5"/><rect x="3" y="4" width="1.05" height="1.05" fill="#fce1d2"/><rect x="4" y="4" width="1.05" height="1.05" fill="#fdddca"/><rect x="5" y="4" width="1.05" height="1.05" fill="#fcd6c0"/><rect x="6" y="4" width="1.05" height="1.05" fill="#facbb3"/><rect x="7" y="4" width="1.05" height="1.05" fill="#f9c4a9"/><rect x="8" y="4" width="1.05" height="1.05" fill="#f8c0a4"/><rect x="9" y="4" width="1.05" height="1.05" fill="#f19f7e"/><rect x="10" y="4" width="1.05" height="1.05" fill="#f19f7e"/><rect x="11" y="4" width="1.05" height="1.05" fill="#f19f7e"/><rect x="12" y="4" width="1.05" height="1.05" fill="#f19f7e"/><rect x="-1" y="5" width="1.05" height="1.05" fill="#fbe6d9"/><rect x="0" y="5" width="1.05" height="1.05" fill="#fbe6d9"/><rect x="1" y="5" width="1.05" height="1.05" fill="#fbe5d9"/><rect x="2" y="5" width="1.05" height="1.05" fill="#fbe5d8"/><rect x="3" y="5" width="1.05" height="1.05" fill="#fce2d3"/><rect x="4" y="5" width="1.05" height="1.05" fill="#fddcc9"/><rect x="5" y="5" width="1.05" height="1.05" fill="#fbd1ba"/><rect x="6" y="5" width="1.05" height="1.05" fill="#f9c4aa"/><rect x="7" y="5" width="1.05" height="1.05" fill="#f8bb9e"/><rect x="8" y="5" width="1.05" height="1.05" fill="#f5ac8b"/><rect x="9" y="5" width="1.05" height="1.05" fill="#f19f7e"/><rect x="10" y="5" width="1.05" height="1.05" fill="#f19f7e"/><rect x="11" y="5" width="1.05" height="1.05" fill="#f5a987"/><rect x="12" y="5" width="1.05" height="1.05" fill="#f5a987"/><rect x="-1" y="6" width="1.05" height="1.05" fill="#fae8dd"/><rect x="0" y="6" width="1.05" height="1.05" fill="#fae8dd"/><rect x="1" y="6" width="1.05" height="1.05" fill="#fae7dc"/><rect x="2" y="6" width="1.05" height="1.05" fill="#fbe7db"/><rect x="3" y="6" width="1.05" height="1.05" fill="#fce2d3"/><rect x="4" y="6" width="1.05" height="1.05" fill="#fdd9c4"/><rect x="5" y="6" width="1.05" height="1.05" fill="#fac9b0"/><rect x="6" y="6" width="1.05" height="1.05" fill="#f7b89b"/><rect x="7" y="6" width="1.05" height="1.05" fill="#f5a987"/><rect x="8" y="6" width="1.05" height="1.05" fill="#f19f7e"/><rect x="9" y="6" width="1.05" height="1.05" fill="#f19f7e"/><rect x="10" y="6" width="1.05" height="1.05" fill="#f19f7e"/><rect x="11" y="6" width="1.05" height="1.05" fill="#f4a683"/><rect x="12" y="6" width="1.05" height="1.05" fill="#f4a683"/><rect x="-1" y="7" width="1.05" height="1.05" fill="#fae9df"/><rect x="0" y="7" width="1.05" height="1.05" fill="#fae9df"/><rect x="1" y="7" width="1.05" height="1.05" fill="#fae9df"/><rect x="2" y="7" width="1.05" height="1.05" fill="#fae8de"/><rect x="3" y="7" width="1.05" height="1.05" fill="#fbe3d5"/><rect x="4" y="7" width="1.05" height="1.05" fill="#fddac5"/><rect x="5" y="7" width="1.05" height="1.05" fill="#fac8ae"/><rect x="6" y="7" width="1.05" height="1.05" fill="#f6b090"/><rect x="7" y="7" width="1.05" height="1.05" fill="#f19f7e"/><rect x="8" y="7" width="1.05" height="1.05" fill="#f19f7e"/><rect x="9" y="7" width="1.05" height="1.05" fill="#f19f7e"/><rect x="10" y="7" width="1.05" height="1.05" fill="#f19d7c"/><rect x="11" y="7" width="1.05" height="1.05" fill="#f09c7b"/><rect x="12" y="7" width="1.05" height="1.05" fill="#f09c7b"/><rect x="-1" y="8" width="1.05" height="1.05" fill="#fae9df"/><rect x="0" y="8" width="1.05" height="1.05" fill="#fae9df"/><rect x="1" y="8" width="1.05" height="1.05" fill="#fae9e0"/><rect x="2" y="8" width="1.05" height="1.05" fill="#faeae0"/><rect x="3" y="8" width="1.05" height="1.05" fill="#fbe6da"/><rect x="4" y="8" width="1.05" height="1.05" fill="#fcddcb"/><rect x="5" y="8" width="1.05" height="1.05" fill="#fbceb6"/><rect x="6" y="8" width="1.05" height="1.05" fill="#f19f7e"/><rect x="7" y="8" width="1.05" height="1.05" fill="#f19f7e"/><rect x="8" y="8" width="1.05" height="1.05" fill="#f19f7e"/><rect x="9" y="8" width="1.05" height="1.05" fill="#f2a07e"/><rect x="10" y="8" width="1.05" height="1.05" fill="#ef9a7a"/><rect x="11" y="8" width="1.05" height="1.05" fill="#ee9777"/><rect x="12" y="8" width="1.05" height="1.05" fill="#ee9777"/><rect x="-1" y="9" width="1.05" height="1.05" fill="#faeae0"/><rect x="0" y="9" width="1.05" height="1.05" fill="#faeae0"/><rect x="1" y="9" width="1.05" height="1.05" fill="#faeae1"/><rect x="2" y="9" width="1.05" height="1.05" fill="#f9ece4"/><rect x="3" y="9" width="1.05" height="1.05" fill="#fae9de"/><rect x="4" y="9" width="1.05" height="1.05" fill="#fce1d1"/><rect x="5" y="9" width="1.05" height="1.05" fill="#f5a987"/><rect x="6" y="9" width="1.05" height="1.05" fill="#f19f7e"/><rect x="7" y="9" width="1.05" height="1.05" fill="#f19f7e"/><rect x="8" y="9" width="1.05" height="1.05" fill="#f4a481"/><rect x="9" y="9" width="1.05" height="1.05" fill="#f4a683"/><rect x="10" y="9" width="1.05" height="1.05" fill="#f19e7c"/><rect x="11" y="9" width="1.05" height="1.05" fill="#ef9979"/><rect x="12" y="9" width="1.05" height="1.05" fill="#ef9979"/><rect x="-1" y="10" width="1.05" height="1.05" fill="#faebe2"/><rect x="0" y="10" width="1.05" height="1.05" fill="#faebe2"/><rect x="1" y="10" width="1.05" height="1.05" fill="#f9ece4"/><rect x="2" y="10" width="1.05" height="1.05" fill="#f9eee7"/><rect x="3" y="10" width="1.05" height="1.05" fill="#faebe3"/><rect x="4" y="10" width="1.05" height="1.05" fill="#fbe4d6"/><rect x="5" y="10" width="1.05" height="1.05" fill="#f19f7e"/><rect x="6" y="10" width="1.05" height="1.05" fill="#f19f7e"/><rect x="7" y="10" width="1.05" height="1.05" fill="#f19f7e"/><rect x="8" y="10" width="1.05" height="1.05" fill="#f5ac8b"/><rect x="9" y="10" width="1.05" height="1.05" fill="#f5a886"/><rect x="10" y="10" width="1.05" height="1.05" fill="#f4a683"/><rect x="11" y="10" width="1.05" height="1.05" fill="#f4a582"/><rect x="12" y="10" width="1.05" height="1.05" fill="#f4a582"/><rect x="-1" y="11" width="1.05" height="1.05" fill="#faeae0"/><rect x="0" y="11" width="1.05" height="1.05" fill="#faeae0"/><rect x="1" y="11" width="1.05" height="1.05" fill="#faebe2"/><rect x="2" y="11" width="1.05" height="1.05" fill="#f9eee7"/><rect x="3" y="11" width="1.05" height="1.05" fill="#faebe3"/><rect x="4" y="11" width="1.05" height="1.05" fill="#f2a07e"/><rect x="5" y="11" width="1.05" height="1.05" fill="#f19f7e"/><rect x="6" y="11" width="1.05" height="1.05" fill="#f19f7e"/><rect x="7" y="11" width="1.05" height="1.05" fill="#f5ab89"/><rect x="8" y="11" width="1.05" height="1.05" fill="#f6af8e"/><rect x="9" y="11" width="1.05" height="1.05" fill="#f5ad8c"/><rect x="10" y="11" width="1.05" height="1.05" fill="#f5ad8c"/><rect x="11" y="11" width="1.05" height="1.05" fill="#f5ad8c"/><rect x="12" y="11" width="1.05" height="1.05" fill="#f5ad8c"/><rect x="-1" y="12" width="1.05" height="1.05" fill="#fbe6da"/><rect x="0" y="12" width="1.05" height="1.05" fill="#fbe6da"/><rect x="1" y="12" width="1.05" height="1.05" fill="#fae8dd"/><rect x="2" y="12" width="1.05" height="1.05" fill="#faebe2"/><rect x="3" y="12" width="1.05" height="1.05" fill="#fae9de"/><rect x="4" y="12" width="1.05" height="1.05" fill="#fce1d1"/><rect x="5" y="12" width="1.05" height="1.05" fill="#fcd4be"/><rect x="6" y="12" width="1.05" height="1.05" fill="#f8c0a4"/><rect x="7" y="12" width="1.05" height="1.05" fill="#f7b597"/><rect x="8" y="12" width="1.05" height="1.05" fill="#f7b495"/><rect x="9" y="12" width="1.05" height="1.05" fill="#f6b495"/><rect x="10" y="12" width="1.05" height="1.05" fill="#f6b495"/><rect x="11" y="12" width="1.05" height="1.05" fill="#f6b495"/><rect x="12" y="12" width="1.05" height="1.05" fill="#f6b495"/><rect x="-1" y="13" width="1.05" height="1.05" fill="#fcdecc"/><rect x="0" y="13" width="1.05" height="1.05" fill="#fcdecc"/><rect x="1" y="13" width="1.05" height="1.05" fill="#fce0cf"/><rect x="2" y="13" width="1.05" height="1.05" fill="#fbe3d4"/><rect x="3" y="13" width="1.05" height="1.05" fill="#fce1d1"/><rect x="4" y="13" width="1.05" height="1.05" fill="#fcd8c3"/><rect x="5" y="13" width="1.05" height="1.05" fill="#facab1"/><rect x="6" y="13" width="1.05" height="1.05" fill="#f8bc9f"/><rect x="7" y="13" width="1.05" height="1.05" fill="#f7b596"/><rect x="8" y="13" width="1.05" height="1.05" fill="#f7b596"/><rect x="9" y="13" width="1.05" height="1.05" fill="#f7b596"/><rect x="10" y="13" width="1.05" height="1.05" fill="#f7b596"/><rect x="11" y="13" width="1.05" height="1.05" fill="#f7b596"/><rect x="12" y="13" width="1.05" height="1.05" fill="#f7b596"/><rect x="-1" y="14" width="1.05" height="1.05" fill="#fac8af"/><rect x="0" y="14" width="1.05" height="1.05" fill="#fac8af"/><rect x="1" y="14" width="1.05" height="1.05" fill="#facab2"/><rect x="2" y="14" width="1.05" height="1.05" fill="#fbcfb8"/><rect x="3" y="14" width="1.05" height="1.05" fill="#fbcdb5"/><rect x="4" y="14" width="1.05" height="1.05" fill="#f9c2a7"/><rect x="5" y="14" width="1.05" height="1.05" fill="#f7ba9c"/><rect x="6" y="14" width="1.05" height="1.05" fill="#f6b394"/><rect x="7" y="14" width="1.05" height="1.05" fill="#f6b090"/><rect x="8" y="14" width="1.05" height="1.05" fill="#f6b090"/><rect x="9" y="14" width="1.05" height="1.05" fill="#f6b090"/><rect x="10" y="14" width="1.05" height="1.05" fill="#f6b090"/><rect x="11" y="14" width="1.05" height="1.05" fill="#f6b090"/><rect x="12" y="14" width="1.05" height="1.05" fill="#f6b090"/><rect x="-1" y="15" width="1.05" height="1.05" fill="#f8bc9f"/><rect x="0" y="15" width="1.05" height="1.05" fill="#f8bc9f"/><rect x="1" y="15" width="1.05" height="1.05" fill="#f8bea2"/><rect x="2" y="15" width="1.05" height="1.05" fill="#f9c2a7"/><rect x="3" y="15" width="1.05" height="1.05" fill="#f8c0a4"/><rect x="4" y="15" width="1.05" height="1.05" fill="#f7b799"/><rect x="5" y="15" width="1.05" height="1.05" fill="#f6b192"/><rect x="6" y="15" width="1.05" height="1.05" fill="#f6af8f"/><rect x="7" y="15" width="1.05" height="1.05" fill="#f6ae8e"/><rect x="8" y="15" width="1.05" height="1.05" fill="#f6ae8e"/><rect x="9" y="15" width="1.05" height="1.05" fill="#f6ae8e"/><rect x="10" y="15" width="1.05" height="1.05" fill="#f6ae8e"/><rect x="11" y="15" width="1.05" height="1.05" fill="#f6ae8e"/><rect x="12" y="15" width="1.05" height="1.05" fill="#f6ae8e"/><rect x="-1" y="16" width="1.05" height="1.05" fill="#f8bc9f"/><rect x="0" y="16" width="1.05" height="1.05" fill="#f8bc9f"/><rect x="1" y="16" width="1.05" height="1.05" fill="#f8bea2"/><rect x="2" y="16" width="1.05" height="1.05" fill="#f9c2a7"/><rect x="3" y="16" width="1.05" height="1.05" fill="#f8c0a4"/><rect x="4" y="16" width="1.05" height="1.05" fill="#f7b799"/><rect x="5" y="16" width="1.05" height="1.05" fill="#f6b192"/><rect x="6" y="16" width="1.05" height="1.05" fill="#f6af8f"/><rect x="7" y="16" width="1.05" height="1.05" fill="#f6ae8e"/><rect x="8" y="16" width="1.05" height="1.05" fill="#f6ae8e"/><rect x="9" y="16" width="1.05" height="1.05" fill="#f6ae8e"/><rect x="10" y="16" width="1.05" height="1.05" fill="#f6ae8e"/><rect x="11" y="16" width="1.05" height="1.05" fill="#f6ae8e"/><rect x="12" y="16" width="1.05" height="1.05" fill="#f6ae8e"/></g></g></g><use href="#grd"/><use href="#grdo"/><use href="#lines"/><rect x="0.3" y="0.6" width="62.9" height="80.9" class="fr"/></g><g transform="translate(99 199.4)"><g clip-path="url(#land)"><g filter="url(#bl)"><g transform="scale(5.2917 5.1250)"><rect x="-1" y="-1" width="1.05" height="1.05" fill="#fce0cf"/><rect x="0" y="-1" width="1.05" height="1.05" fill="#fce0cf"/><rect x="1" y="-1" width="1.05" height="1.05" fill="#fce0cf"/><rect x="2" y="-1" width="1.05" height="1.05" fill="#fce0cf"/><rect x="3" y="-1" width="1.05" height="1.05" fill="#fcdfce"/><rect x="4" y="-1" width="1.05" height="1.05" fill="#fcdecc"/><rect x="5" y="-1" width="1.05" height="1.05" fill="#fddcc8"/><rect x="6" y="-1" width="1.05" height="1.05" fill="#fcd5c0"/><rect x="7" y="-1" width="1.05" height="1.05" fill="#fcd3bd"/><rect x="8" y="-1" width="1.05" height="1.05" fill="#fcd5c0"/><rect x="9" y="-1" width="1.05" height="1.05" fill="#fcd3bd"/><rect x="10" y="-1" width="1.05" height="1.05" fill="#fbccb4"/><rect x="11" y="-1" width="1.05" height="1.05" fill="#fac9b0"/><rect x="12" y="-1" width="1.05" height="1.05" fill="#fac9b0"/><rect x="-1" y="0" width="1.05" height="1.05" fill="#fce0cf"/><rect x="0" y="0" width="1.05" height="1.05" fill="#fce0cf"/><rect x="1" y="0" width="1.05" height="1.05" fill="#fce0cf"/><rect x="2" y="0" width="1.05" height="1.05" fill="#fce0cf"/><rect x="3" y="0" width="1.05" height="1.05" fill="#fcdfce"/><rect x="4" y="0" width="1.05" height="1.05" fill="#fcdecc"/><rect x="5" y="0" width="1.05" height="1.05" fill="#fddcc8"/><rect x="6" y="0" width="1.05" height="1.05" fill="#fcd5c0"/><rect x="7" y="0" width="1.05" height="1.05" fill="#fcd3bd"/><rect x="8" y="0" width="1.05" height="1.05" fill="#fcd5c0"/><rect x="9" y="0" width="1.05" height="1.05" fill="#fcd3bd"/><rect x="10" y="0" width="1.05" height="1.05" fill="#fbccb4"/><rect x="11" y="0" width="1.05" height="1.05" fill="#fac9b0"/><rect x="12" y="0" width="1.05" height="1.05" fill="#fac9b0"/><rect x="-1" y="1" width="1.05" height="1.05" fill="#fce0d0"/><rect x="0" y="1" width="1.05" height="1.05" fill="#fce0d0"/><rect x="1" y="1" width="1.05" height="1.05" fill="#fce0d0"/><rect x="2" y="1" width="1.05" height="1.05" fill="#fce0d0"/><rect x="3" y="1" width="1.05" height="1.05" fill="#fce0cf"/><rect x="4" y="1" width="1.05" height="1.05" fill="#fcdecc"/><rect x="5" y="1" width="1.05" height="1.05" fill="#fddbc7"/><rect x="6" y="1" width="1.05" height="1.05" fill="#fcd4be"/><rect x="7" y="1" width="1.05" height="1.05" fill="#fbd1ba"/><rect x="8" y="1" width="1.05" height="1.05" fill="#fcd2bc"/><rect x="9" y="1" width="1.05" height="1.05" fill="#fbd0b9"/><rect x="10" y="1" width="1.05" height="1.05" fill="#facab1"/><rect x="11" y="1" width="1.05" height="1.05" fill="#fac7ad"/><rect x="12" y="1" width="1.05" height="1.05" fill="#fac7ad"/><rect x="-1" y="2" width="1.05" height="1.05" fill="#fce1d2"/><rect x="0" y="2" width="1.05" height="1.05" fill="#fce1d2"/><rect x="1" y="2" width="1.05" height="1.05" fill="#fce1d2"/><rect x="2" y="2" width="1.05" height="1.05" fill="#fce1d2"/><rect x="3" y="2" width="1.05" height="1.05" fill="#fce0d0"/><rect x="4" y="2" width="1.05" height="1.05" fill="#fcdecd"/><rect x="5" y="2" width="1.05" height="1.05" fill="#fddac6"/><rect x="6" y="2" width="1.05" height="1.05" fill="#fbd0b9"/><rect x="7" y="2" width="1.05" height="1.05" fill="#faccb3"/><rect x="8" y="2" width="1.05" height="1.05" fill="#fbccb4"/><rect x="9" y="2" width="1.05" height="1.05" fill="#facab1"/><rect x="10" y="2" width="1.05" height="1.05" fill="#f9c5ab"/><rect x="11" y="2" width="1.05" height="1.05" fill="#f9c2a7"/><rect x="12" y="2" width="1.05" height="1.05" fill="#f9c2a7"/><rect x="-1" y="3" width="1.05" height="1.05" fill="#fbe3d5"/><rect x="0" y="3" width="1.05" height="1.05" fill="#fbe3d5"/><rect x="1" y="3" width="1.05" height="1.05" fill="#fbe3d5"/><rect x="2" y="3" width="1.05" height="1.05" fill="#fbe3d5"/><rect x="3" y="3" width="1.05" height="1.05" fill="#fce2d3"/><rect x="4" y="3" width="1.05" height="1.05" fill="#fce0cf"/><rect x="5" y="3" width="1.05" height="1.05" fill="#fddbc7"/><rect x="6" y="3" width="1.05" height="1.05" fill="#fbcfb8"/><rect x="7" y="3" width="1.05" height="1.05" fill="#fac8af"/><rect x="8" y="3" width="1.05" height="1.05" fill="#fac7ae"/><rect x="9" y="3" width="1.05" height="1.05" fill="#f4a582"/><rect x="10" y="3" width="1.05" height="1.05" fill="#f4a582"/><rect x="11" y="3" width="1.05" height="1.05" fill="#f4a582"/><rect x="12" y="3" width="1.05" height="1.05" fill="#f4a582"/><rect x="-1" y="4" width="1.05" height="1.05" fill="#fbe6d9"/><rect x="0" y="4" width="1.05" height="1.05" fill="#fbe6d9"/><rect x="1" y="4" width="1.05" height="1.05" fill="#fbe6d9"/><rect x="2" y="4" width="1.05" height="1.05" fill="#fbe6d9"/><rect x="3" y="4" width="1.05" height="1.05" fill="#fbe4d7"/><rect x="4" y="4" width="1.05" height="1.05" fill="#fce2d3"/><rect x="5" y="4" width="1.05" height="1.05" fill="#fdddca"/><rect x="6" y="4" width="1.05" height="1.05" fill="#fbd0b9"/><rect x="7" y="4" width="1.05" height="1.05" fill="#fac7ae"/><rect x="8" y="4" width="1.05" height="1.05" fill="#f9c4aa"/><rect x="9" y="4" width="1.05" height="1.05" fill="#f4a582"/><rect x="10" y="4" width="1.05" height="1.05" fill="#f4a582"/><rect x="11" y="4" width="1.05" height="1.05" fill="#f4a582"/><rect x="12" y="4" width="1.05" height="1.05" fill="#f4a582"/><rect x="-1" y="5" width="1.05" height="1.05" fill="#fae8dd"/><rect x="0" y="5" width="1.05" height="1.05" fill="#fae8dd"/><rect x="1" y="5" width="1.05" height="1.05" fill="#fae8dd"/><rect x="2" y="5" width="1.05" height="1.05" fill="#fae7dc"/><rect x="3" y="5" width="1.05" height="1.05" fill="#fbe6d9"/><rect x="4" y="5" width="1.05" height="1.05" fill="#fce2d3"/><rect x="5" y="5" width="1.05" height="1.05" fill="#fddcc8"/><rect x="6" y="5" width="1.05" height="1.05" fill="#facbb3"/><rect x="7" y="5" width="1.05" height="1.05" fill="#f8bfa3"/><rect x="8" y="5" width="1.05" height="1.05" fill="#f6b090"/><rect x="9" y="5" width="1.05" height="1.05" fill="#f4a582"/><rect x="10" y="5" width="1.05" height="1.05" fill="#f4a582"/><rect x="11" y="5" width="1.05" height="1.05" fill="#f6af8f"/><rect x="12" y="5" width="1.05" height="1.05" fill="#f6af8f"/><rect x="-1" y="6" width="1.05" height="1.05" fill="#faeae1"/><rect x="0" y="6" width="1.05" height="1.05" fill="#faeae1"/><rect x="1" y="6" width="1.05" height="1.05" fill="#faeae0"/><rect x="2" y="6" width="1.05" height="1.05" fill="#fae9df"/><rect x="3" y="6" width="1.05" height="1.05" fill="#fbe6d9"/><rect x="4" y="6" width="1.05" height="1.05" fill="#fce0cf"/><rect x="5" y="6" width="1.05" height="1.05" fill="#fcd4be"/><rect x="6" y="6" width="1.05" height="1.05" fill="#f8bfa3"/><rect x="7" y="6" width="1.05" height="1.05" fill="#f5ad8c"/><rect x="8" y="6" width="1.05" height="1.05" fill="#f4a582"/><rect x="9" y="6" width="1.05" height="1.05" fill="#f4a582"/><rect x="10" y="6" width="1.05" height="1.05" fill="#f4a582"/><rect x="11" y="6" width="1.05" height="1.05" fill="#f5ac8b"/><rect x="12" y="6" width="1.05" height="1.05" fill="#f5ac8b"/><rect x="-1" y="7" width="1.05" height="1.05" fill="#faebe3"/><rect x="0" y="7" width="1.05" height="1.05" fill="#faebe3"/><rect x="1" y="7" width="1.05" height="1.05" fill="#faebe2"/><rect x="2" y="7" width="1.05" height="1.05" fill="#faeae1"/><rect x="3" y="7" width="1.05" height="1.05" fill="#fbe6da"/><rect x="4" y="7" width="1.05" height="1.05" fill="#fcdfcd"/><rect x="5" y="7" width="1.05" height="1.05" fill="#fbd0b9"/><rect x="6" y="7" width="1.05" height="1.05" fill="#f7b596"/><rect x="7" y="7" width="1.05" height="1.05" fill="#f4a582"/><rect x="8" y="7" width="1.05" height="1.05" fill="#f4a582"/><rect x="9" y="7" width="1.05" height="1.05" fill="#f4a582"/><rect x="10" y="7" width="1.05" height="1.05" fill="#f3a380"/><rect x="11" y="7" width="1.05" height="1.05" fill="#f3a280"/><rect x="12" y="7" width="1.05" height="1.05" fill="#f3a280"/><rect x="-1" y="8" width="1.05" height="1.05" fill="#faebe3"/><rect x="0" y="8" width="1.05" height="1.05" fill="#faebe3"/><rect x="1" y="8" width="1.05" height="1.05" fill="#faebe3"/><rect x="2" y="8" width="1.05" height="1.05" fill="#faebe2"/><rect x="3" y="8" width="1.05" height="1.05" fill="#fae7db"/><rect x="4" y="8" width="1.05" height="1.05" fill="#fcdfce"/><rect x="5" y="8" width="1.05" height="1.05" fill="#fbd1ba"/><rect x="6" y="8" width="1.05" height="1.05" fill="#f4a582"/><rect x="7" y="8" width="1.05" height="1.05" fill="#f4a582"/><rect x="8" y="8" width="1.05" height="1.05" fill="#f4a582"/><rect x="9" y="8" width="1.05" height="1.05" fill="#f4a481"/><rect x="10" y="8" width="1.05" height="1.05" fill="#f19f7d"/><rect x="11" y="8" width="1.05" height="1.05" fill="#f09c7b"/><rect x="12" y="8" width="1.05" height="1.05" fill="#f09c7b"/><rect x="-1" y="9" width="1.05" height="1.05" fill="#f9ece4"/><rect x="0" y="9" width="1.05" height="1.05" fill="#f9ece4"/><rect x="1" y="9" width="1.05" height="1.05" fill="#f9ece4"/><rect x="2" y="9" width="1.05" height="1.05" fill="#f9ece5"/><rect x="3" y="9" width="1.05" height="1.05" fill="#fae9df"/><rect x="4" y="9" width="1.05" height="1.05" fill="#fce1d2"/><rect x="5" y="9" width="1.05" height="1.05" fill="#f5ad8c"/><rect x="6" y="9" width="1.05" height="1.05" fill="#f4a582"/><rect x="7" y="9" width="1.05" height="1.05" fill="#f4a582"/><rect x="8" y="9" width="1.05" height="1.05" fill="#f4a785"/><rect x="9" y="9" width="1.05" height="1.05" fill="#f4a785"/><rect x="10" y="9" width="1.05" height="1.05" fill="#f2a17f"/><rect x="11" y="9" width="1.05" height="1.05" fill="#f19e7c"/><rect x="12" y="9" width="1.05" height="1.05" fill="#f19e7c"/><rect x="-1" y="10" width="1.05" height="1.05" fill="#f9ede6"/><rect x="0" y="10" width="1.05" height="1.05" fill="#f9ede6"/><rect x="1" y="10" width="1.05" height="1.05" fill="#f9eee7"/><rect x="2" y="10" width="1.05" height="1.05" fill="#f9eee8"/><rect x="3" y="10" width="1.05" height="1.05" fill="#f9ece4"/><rect x="4" y="10" width="1.05" height="1.05" fill="#fbe5d8"/><rect x="5" y="10" width="1.05" height="1.05" fill="#f4a582"/><rect x="6" y="10" width="1.05" height="1.05" fill="#f4a582"/><rect x="7" y="10" width="1.05" height="1.05" fill="#f4a582"/><rect x="8" y="10" width="1.05" height="1.05" fill="#f5ac8b"/><rect x="9" y="10" width="1.05" height="1.05" fill="#f5a987"/><rect x="10" y="10" width="1.05" height="1.05" fill="#f4a785"/><rect x="11" y="10" width="1.05" height="1.05" fill="#f4a683"/><rect x="12" y="10" width="1.05" height="1.05" fill="#f4a683"/><rect x="-1" y="11" width="1.05" height="1.05" fill="#faeae1"/><rect x="0" y="11" width="1.05" height="1.05" fill="#faeae1"/><rect x="1" y="11" width="1.05" height="1.05" fill="#f9ebe3"/><rect x="2" y="11" width="1.05" height="1.05" fill="#f9eee8"/><rect x="3" y="11" width="1.05" height="1.05" fill="#f9ece5"/><rect x="4" y="11" width="1.05" height="1.05" fill="#f4a583"/><rect x="5" y="11" width="1.05" height="1.05" fill="#f4a582"/><rect x="6" y="11" width="1.05" height="1.05" fill="#f4a582"/><rect x="7" y="11" width="1.05" height="1.05" fill="#f5ac8c"/><rect x="8" y="11" width="1.05" height="1.05" fill="#f6af8e"/><rect x="9" y="11" width="1.05" height="1.05" fill="#f5ad8c"/><rect x="10" y="11" width="1.05" height="1.05" fill="#f5ad8c"/><rect x="11" y="11" width="1.05" height="1.05" fill="#f5ad8c"/><rect x="12" y="11" width="1.05" height="1.05" fill="#f5ad8c"/><rect x="-1" y="12" width="1.05" height="1.05" fill="#fbe3d5"/><rect x="0" y="12" width="1.05" height="1.05" fill="#fbe3d5"/><rect x="1" y="12" width="1.05" height="1.05" fill="#fbe6da"/><rect x="2" y="12" width="1.05" height="1.05" fill="#f9ebe3"/><rect x="3" y="12" width="1.05" height="1.05" fill="#faebe2"/><rect x="4" y="12" width="1.05" height="1.05" fill="#fbe4d7"/><rect x="5" y="12" width="1.05" height="1.05" fill="#fddac6"/><rect x="6" y="12" width="1.05" height="1.05" fill="#f9c2a7"/><rect x="7" y="12" width="1.05" height="1.05" fill="#f7b597"/><rect x="8" y="12" width="1.05" height="1.05" fill="#f7b495"/><rect x="9" y="12" width="1.05" height="1.05" fill="#f6b495"/><rect x="10" y="12" width="1.05" height="1.05" fill="#f6b495"/><rect x="11" y="12" width="1.05" height="1.05" fill="#f6b495"/><rect x="12" y="12" width="1.05" height="1.05" fill="#f6b495"/><rect x="-1" y="13" width="1.05" height="1.05" fill="#fcd8c3"/><rect x="0" y="13" width="1.05" height="1.05" fill="#fcd8c3"/><rect x="1" y="13" width="1.05" height="1.05" fill="#fddcc9"/><rect x="2" y="13" width="1.05" height="1.05" fill="#fce2d3"/><rect x="3" y="13" width="1.05" height="1.05" fill="#fce2d3"/><rect x="4" y="13" width="1.05" height="1.05" fill="#fddcc9"/><rect x="5" y="13" width="1.05" height="1.05" fill="#fbcfb8"/><rect x="6" y="13" width="1.05" height="1.05" fill="#f8bda1"/><rect x="7" y="13" width="1.05" height="1.05" fill="#f7b596"/><rect x="8" y="13" width="1.05" height="1.05" fill="#f7b596"/><rect x="9" y="13" width="1.05" height="1.05" fill="#f7b596"/><rect x="10" y="13" width="1.05" height="1.05" fill="#f7b596"/><rect x="11" y="13" width="1.05" height="1.05" fill="#f7b596"/><rect x="12" y="13" width="1.05" height="1.05" fill="#f7b596"/><rect x="-1" y="14" width="1.05" height="1.05" fill="#f8bfa3"/><rect x="0" y="14" width="1.05" height="1.05" fill="#f8bfa3"/><rect x="1" y="14" width="1.05" height="1.05" fill="#f9c2a7"/><rect x="2" y="14" width="1.05" height="1.05" fill="#fac9b0"/><rect x="3" y="14" width="1.05" height="1.05" fill="#fac9b0"/><rect x="4" y="14" width="1.05" height="1.05" fill="#f9c2a7"/><rect x="5" y="14" width="1.05" height="1.05" fill="#f8bb9e"/><rect x="6" y="14" width="1.05" height="1.05" fill="#f6b495"/><rect x="7" y="14" width="1.05" height="1.05" fill="#f6b090"/><rect x="8" y="14" width="1.05" height="1.05" fill="#f6b090"/><rect x="9" y="14" width="1.05" height="1.05" fill="#f6b090"/><rect x="10" y="14" width="1.05" height="1.05" fill="#f6b090"/><rect x="11" y="14" width="1.05" height="1.05" fill="#f6b090"/><rect x="12" y="14" width="1.05" height="1.05" fill="#f6b090"/><rect x="-1" y="15" width="1.05" height="1.05" fill="#f6b393"/><rect x="0" y="15" width="1.05" height="1.05" fill="#f6b393"/><rect x="1" y="15" width="1.05" height="1.05" fill="#f7b596"/><rect x="2" y="15" width="1.05" height="1.05" fill="#f7b99c"/><rect x="3" y="15" width="1.05" height="1.05" fill="#f7b99c"/><rect x="4" y="15" width="1.05" height="1.05" fill="#f7b596"/><rect x="5" y="15" width="1.05" height="1.05" fill="#f6b192"/><rect x="6" y="15" width="1.05" height="1.05" fill="#f6af8f"/><rect x="7" y="15" width="1.05" height="1.05" fill="#f6ae8e"/><rect x="8" y="15" width="1.05" height="1.05" fill="#f6ae8e"/><rect x="9" y="15" width="1.05" height="1.05" fill="#f6ae8e"/><rect x="10" y="15" width="1.05" height="1.05" fill="#f6ae8e"/><rect x="11" y="15" width="1.05" height="1.05" fill="#f6ae8e"/><rect x="12" y="15" width="1.05" height="1.05" fill="#f6ae8e"/><rect x="-1" y="16" width="1.05" height="1.05" fill="#f6b393"/><rect x="0" y="16" width="1.05" height="1.05" fill="#f6b393"/><rect x="1" y="16" width="1.05" height="1.05" fill="#f7b596"/><rect x="2" y="16" width="1.05" height="1.05" fill="#f7b99c"/><rect x="3" y="16" width="1.05" height="1.05" fill="#f7b99c"/><rect x="4" y="16" width="1.05" height="1.05" fill="#f7b596"/><rect x="5" y="16" width="1.05" height="1.05" fill="#f6b192"/><rect x="6" y="16" width="1.05" height="1.05" fill="#f6af8f"/><rect x="7" y="16" width="1.05" height="1.05" fill="#f6ae8e"/><rect x="8" y="16" width="1.05" height="1.05" fill="#f6ae8e"/><rect x="9" y="16" width="1.05" height="1.05" fill="#f6ae8e"/><rect x="10" y="16" width="1.05" height="1.05" fill="#f6ae8e"/><rect x="11" y="16" width="1.05" height="1.05" fill="#f6ae8e"/><rect x="12" y="16" width="1.05" height="1.05" fill="#f6ae8e"/></g></g></g><use href="#grd"/><use href="#grdo"/><use href="#lines"/><rect x="0.3" y="0.6" width="62.9" height="80.9" class="fr"/></g><g transform="translate(182 199.4)"><g clip-path="url(#land)"><g filter="url(#bl)"><g transform="scale(5.2917 5.1250)"><rect x="-1" y="-1" width="1.05" height="1.05" fill="#fcd2bb"/><rect x="0" y="-1" width="1.05" height="1.05" fill="#fcd2bb"/><rect x="1" y="-1" width="1.05" height="1.05" fill="#fcd2bb"/><rect x="2" y="-1" width="1.05" height="1.05" fill="#fcd2bb"/><rect x="3" y="-1" width="1.05" height="1.05" fill="#fbd1ba"/><rect x="4" y="-1" width="1.05" height="1.05" fill="#fbcfb7"/><rect x="5" y="-1" width="1.05" height="1.05" fill="#facab1"/><rect x="6" y="-1" width="1.05" height="1.05" fill="#f9c3a9"/><rect x="7" y="-1" width="1.05" height="1.05" fill="#f9c1a6"/><rect x="8" y="-1" width="1.05" height="1.05" fill="#f9c3a9"/><rect x="9" y="-1" width="1.05" height="1.05" fill="#f8c0a4"/><rect x="10" y="-1" width="1.05" height="1.05" fill="#f7b799"/><rect x="11" y="-1" width="1.05" height="1.05" fill="#f6b393"/><rect x="12" y="-1" width="1.05" height="1.05" fill="#f6b393"/><rect x="-1" y="0" width="1.05" height="1.05" fill="#fcd2bb"/><rect x="0" y="0" width="1.05" height="1.05" fill="#fcd2bb"/><rect x="1" y="0" width="1.05" height="1.05" fill="#fcd2bb"/><rect x="2" y="0" width="1.05" height="1.05" fill="#fcd2bb"/><rect x="3" y="0" width="1.05" height="1.05" fill="#fbd1ba"/><rect x="4" y="0" width="1.05" height="1.05" fill="#fbcfb7"/><rect x="5" y="0" width="1.05" height="1.05" fill="#facab1"/><rect x="6" y="0" width="1.05" height="1.05" fill="#f9c3a9"/><rect x="7" y="0" width="1.05" height="1.05" fill="#f9c1a6"/><rect x="8" y="0" width="1.05" height="1.05" fill="#f9c3a9"/><rect x="9" y="0" width="1.05" height="1.05" fill="#f8c0a4"/><rect x="10" y="0" width="1.05" height="1.05" fill="#f7b799"/><rect x="11" y="0" width="1.05" height="1.05" fill="#f6b393"/><rect x="12" y="0" width="1.05" height="1.05" fill="#f6b393"/><rect x="-1" y="1" width="1.05" height="1.05" fill="#fcd3bd"/><rect x="0" y="1" width="1.05" height="1.05" fill="#fcd3bd"/><rect x="1" y="1" width="1.05" height="1.05" fill="#fcd3bd"/><rect x="2" y="1" width="1.05" height="1.05" fill="#fcd3bd"/><rect x="3" y="1" width="1.05" height="1.05" fill="#fbd2bb"/><rect x="4" y="1" width="1.05" height="1.05" fill="#fbcfb8"/><rect x="5" y="1" width="1.05" height="1.05" fill="#facab1"/><rect x="6" y="1" width="1.05" height="1.05" fill="#f9c2a7"/><rect x="7" y="1" width="1.05" height="1.05" fill="#f8bea2"/><rect x="8" y="1" width="1.05" height="1.05" fill="#f8bfa4"/><rect x="9" y="1" width="1.05" height="1.05" fill="#f8bc9f"/><rect x="10" y="1" width="1.05" height="1.05" fill="#f7b495"/><rect x="11" y="1" width="1.05" height="1.05" fill="#f6b090"/><rect x="12" y="1" width="1.05" height="1.05" fill="#f6b090"/><rect x="-1" y="2" width="1.05" height="1.05" fill="#fcd5c0"/><rect x="0" y="2" width="1.05" height="1.05" fill="#fcd5c0"/><rect x="1" y="2" width="1.05" height="1.05" fill="#fcd5c0"/><rect x="2" y="2" width="1.05" height="1.05" fill="#fcd5c0"/><rect x="3" y="2" width="1.05" height="1.05" fill="#fcd3bd"/><rect x="4" y="2" width="1.05" height="1.05" fill="#fbcfb8"/><rect x="5" y="2" width="1.05" height="1.05" fill="#fac8af"/><rect x="6" y="2" width="1.05" height="1.05" fill="#f8bea2"/><rect x="7" y="2" width="1.05" height="1.05" fill="#f7b99b"/><rect x="8" y="2" width="1.05" height="1.05" fill="#f7b89a"/><rect x="9" y="2" width="1.05" height="1.05" fill="#f7b495"/><rect x="10" y="2" width="1.05" height="1.05" fill="#f6af8e"/><rect x="11" y="2" width="1.05" height="1.05" fill="#f5ac8b"/><rect x="12" y="2" width="1.05" height="1.05" fill="#f5ac8b"/><rect x="-1" y="3" width="1.05" height="1.05" fill="#fcd8c3"/><rect x="0" y="3" width="1.05" height="1.05" fill="#fcd8c3"/><rect x="1" y="3" width="1.05" height="1.05" fill="#fcd8c3"/><rect x="2" y="3" width="1.05" height="1.05" fill="#fcd8c3"/><rect x="3" y="3" width="1.05" height="1.05" fill="#fcd5bf"/><rect x="4" y="3" width="1.05" height="1.05" fill="#fbcfb8"/><rect x="5" y="3" width="1.05" height="1.05" fill="#fac7ad"/><rect x="6" y="3" width="1.05" height="1.05" fill="#f8bca0"/><rect x="7" y="3" width="1.05" height="1.05" fill="#f7b697"/><rect x="8" y="3" width="1.05" height="1.05" fill="#f6b394"/><rect x="9" y="3" width="1.05" height="1.05" fill="#ec9475"/><rect x="10" y="3" width="1.05" height="1.05" fill="#ec9475"/><rect x="11" y="3" width="1.05" height="1.05" fill="#ec9475"/><rect x="12" y="3" width="1.05" height="1.05" fill="#ec9475"/><rect x="-1" y="4" width="1.05" height="1.05" fill="#fddac6"/><rect x="0" y="4" width="1.05" height="1.05" fill="#fddac6"/><rect x="1" y="4" width="1.05" height="1.05" fill="#fddac6"/><rect x="2" y="4" width="1.05" height="1.05" fill="#fddac6"/><rect x="3" y="4" width="1.05" height="1.05" fill="#fcd6c1"/><rect x="4" y="4" width="1.05" height="1.05" fill="#fbceb6"/><rect x="5" y="4" width="1.05" height="1.05" fill="#f9c5ab"/><rect x="6" y="4" width="1.05" height="1.05" fill="#f8bc9f"/><rect x="7" y="4" width="1.05" height="1.05" fill="#f7b596"/><rect x="8" y="4" width="1.05" height="1.05" fill="#f6b191"/><rect x="9" y="4" width="1.05" height="1.05" fill="#ec9475"/><rect x="10" y="4" width="1.05" height="1.05" fill="#ec9475"/><rect x="11" y="4" width="1.05" height="1.05" fill="#ec9475"/><rect x="12" y="4" width="1.05" height="1.05" fill="#ec9475"/><rect x="-1" y="5" width="1.05" height="1.05" fill="#fddcc9"/><rect x="0" y="5" width="1.05" height="1.05" fill="#fddcc9"/><rect x="1" y="5" width="1.05" height="1.05" fill="#fddcc9"/><rect x="2" y="5" width="1.05" height="1.05" fill="#fddcc8"/><rect x="3" y="5" width="1.05" height="1.05" fill="#fcd7c2"/><rect x="4" y="5" width="1.05" height="1.05" fill="#fbccb4"/><rect x="5" y="5" width="1.05" height="1.05" fill="#f9c2a7"/><rect x="6" y="5" width="1.05" height="1.05" fill="#f7b89b"/><rect x="7" y="5" width="1.05" height="1.05" fill="#f6b090"/><rect x="8" y="5" width="1.05" height="1.05" fill="#f2a07e"/><rect x="9" y="5" width="1.05" height="1.05" fill="#ec9475"/><rect x="10" y="5" width="1.05" height="1.05" fill="#ec9475"/><rect x="11" y="5" width="1.05" height="1.05" fill="#ed9676"/><rect x="12" y="5" width="1.05" height="1.05" fill="#ed9676"/><rect x="-1" y="6" width="1.05" height="1.05" fill="#fcdecd"/><rect x="0" y="6" width="1.05" height="1.05" fill="#fcdecd"/><rect x="1" y="6" width="1.05" height="1.05" fill="#fcdecc"/><rect x="2" y="6" width="1.05" height="1.05" fill="#fdddcb"/><rect x="3" y="6" width="1.05" height="1.05" fill="#fcd7c2"/><rect x="4" y="6" width="1.05" height="1.05" fill="#fac9b0"/><rect x="5" y="6" width="1.05" height="1.05" fill="#f8bda1"/><rect x="6" y="6" width="1.05" height="1.05" fill="#f6b293"/><rect x="7" y="6" width="1.05" height="1.05" fill="#f3a27f"/><rect x="8" y="6" width="1.05" height="1.05" fill="#ec9475"/><rect x="9" y="6" width="1.05" height="1.05" fill="#ec9475"/><rect x="10" y="6" width="1.05" height="1.05" fill="#ec9475"/><rect x="11" y="6" width="1.05" height="1.05" fill="#e88a6d"/><rect x="12" y="6" width="1.05" height="1.05" fill="#e88a6d"/><rect x="-1" y="7" width="1.05" height="1.05" fill="#fce1d1"/><rect x="0" y="7" width="1.05" height="1.05" fill="#fce1d1"/><rect x="1" y="7" width="1.05" height="1.05" fill="#fce0d0"/><rect x="2" y="7" width="1.05" height="1.05" fill="#fce0cf"/><rect x="3" y="7" width="1.05" height="1.05" fill="#fddbc7"/><rect x="4" y="7" width="1.05" height="1.05" fill="#fbccb4"/><rect x="5" y="7" width="1.05" height="1.05" fill="#f8bea2"/><rect x="6" y="7" width="1.05" height="1.05" fill="#f5ab8a"/><rect x="7" y="7" width="1.05" height="1.05" fill="#ec9475"/><rect x="8" y="7" width="1.05" height="1.05" fill="#ec9475"/><rect x="9" y="7" width="1.05" height="1.05" fill="#ec9475"/><rect x="10" y="7" width="1.05" height="1.05" fill="#e98c6f"/><rect x="11" y="7" width="1.05" height="1.05" fill="#e58268"/><rect x="12" y="7" width="1.05" height="1.05" fill="#e58268"/><rect x="-1" y="8" width="1.05" height="1.05" fill="#fbe3d5"/><rect x="0" y="8" width="1.05" height="1.05" fill="#fbe3d5"/><rect x="1" y="8" width="1.05" height="1.05" fill="#fbe3d5"/><rect x="2" y="8" width="1.05" height="1.05" fill="#fbe3d4"/><rect x="3" y="8" width="1.05" height="1.05" fill="#fcdfce"/><rect x="4" y="8" width="1.05" height="1.05" fill="#fcd5bf"/><rect x="5" y="8" width="1.05" height="1.05" fill="#fac6ac"/><rect x="6" y="8" width="1.05" height="1.05" fill="#ec9475"/><rect x="7" y="8" width="1.05" height="1.05" fill="#ec9475"/><rect x="8" y="8" width="1.05" height="1.05" fill="#ec9475"/><rect x="9" y="8" width="1.05" height="1.05" fill="#ec9374"/><rect x="10" y="8" width="1.05" height="1.05" fill="#e7886c"/><rect x="11" y="8" width="1.05" height="1.05" fill="#e58268"/><rect x="12" y="8" width="1.05" height="1.05" fill="#e58268"/><rect x="-1" y="9" width="1.05" height="1.05" fill="#fbe6da"/><rect x="0" y="9" width="1.05" height="1.05" fill="#fbe6da"/><rect x="1" y="9" width="1.05" height="1.05" fill="#fbe6da"/><rect x="2" y="9" width="1.05" height="1.05" fill="#fbe7db"/><rect x="3" y="9" width="1.05" height="1.05" fill="#fbe3d6"/><rect x="4" y="9" width="1.05" height="1.05" fill="#fdddca"/><rect x="5" y="9" width="1.05" height="1.05" fill="#f19f7d"/><rect x="6" y="9" width="1.05" height="1.05" fill="#ec9475"/><rect x="7" y="9" width="1.05" height="1.05" fill="#ec9475"/><rect x="8" y="9" width="1.05" height="1.05" fill="#f09c7b"/><rect x="9" y="9" width="1.05" height="1.05" fill="#f2a17f"/><rect x="10" y="9" width="1.05" height="1.05" fill="#ee9677"/><rect x="11" y="9" width="1.05" height="1.05" fill="#eb9173"/><rect x="12" y="9" width="1.05" height="1.05" fill="#eb9173"/><rect x="-1" y="10" width="1.05" height="1.05" fill="#faeae0"/><rect x="0" y="10" width="1.05" height="1.05" fill="#faeae0"/><rect x="1" y="10" width="1.05" height="1.05" fill="#faeae1"/><rect x="2" y="10" width="1.05" height="1.05" fill="#faebe2"/><rect x="3" y="10" width="1.05" height="1.05" fill="#fae9df"/><rect x="4" y="10" width="1.05" height="1.05" fill="#fbe3d6"/><rect x="5" y="10" width="1.05" height="1.05" fill="#ec9475"/><rect x="6" y="10" width="1.05" height="1.05" fill="#ec9475"/><rect x="7" y="10" width="1.05" height="1.05" fill="#ec9475"/><rect x="8" y="10" width="1.05" height="1.05" fill="#f6b393"/><rect x="9" y="10" width="1.05" height="1.05" fill="#f6b090"/><rect x="10" y="10" width="1.05" height="1.05" fill="#f5ad8c"/><rect x="11" y="10" width="1.05" height="1.05" fill="#f5ac8b"/><rect x="12" y="10" width="1.05" height="1.05" fill="#f5ac8b"/><rect x="-1" y="11" width="1.05" height="1.05" fill="#faeae0"/><rect x="0" y="11" width="1.05" height="1.05" fill="#faeae0"/><rect x="1" y="11" width="1.05" height="1.05" fill="#faeae2"/><rect x="2" y="11" width="1.05" height="1.05" fill="#f9ece4"/><rect x="3" y="11" width="1.05" height="1.05" fill="#faebe2"/><rect x="4" y="11" width="1.05" height="1.05" fill="#fbe5d8"/><rect x="5" y="11" width="1.05" height="1.05" fill="#fddcc9"/><rect x="6" y="11" width="1.05" height="1.05" fill="#f9c5ab"/><rect x="7" y="11" width="1.05" height="1.05" fill="#f7b99b"/><rect x="8" y="11" width="1.05" height="1.05" fill="#f7b99c"/><rect x="9" y="11" width="1.05" height="1.05" fill="#f7b99c"/><rect x="10" y="11" width="1.05" height="1.05" fill="#f7b99c"/><rect x="11" y="11" width="1.05" height="1.05" fill="#f7b99c"/><rect x="12" y="11" width="1.05" height="1.05" fill="#f7b99c"/><rect x="-1" y="12" width="1.05" height="1.05" fill="#fbe6da"/><rect x="0" y="12" width="1.05" height="1.05" fill="#fbe6da"/><rect x="1" y="12" width="1.05" height="1.05" fill="#fae8dc"/><rect x="2" y="12" width="1.05" height="1.05" fill="#faeae2"/><rect x="3" y="12" width="1.05" height="1.05" fill="#faeae0"/><rect x="4" y="12" width="1.05" height="1.05" fill="#fbe5d8"/><rect x="5" y="12" width="1.05" height="1.05" fill="#fdddca"/><rect x="6" y="12" width="1.05" height="1.05" fill="#fac9b0"/><rect x="7" y="12" width="1.05" height="1.05" fill="#f8bea2"/><rect x="8" y="12" width="1.05" height="1.05" fill="#f8bea2"/><rect x="9" y="12" width="1.05" height="1.05" fill="#f8bea2"/><rect x="10" y="12" width="1.05" height="1.05" fill="#f8bea2"/><rect x="11" y="12" width="1.05" height="1.05" fill="#f8bea2"/><rect x="12" y="12" width="1.05" height="1.05" fill="#f8bea2"/><rect x="-1" y="13" width="1.05" height="1.05" fill="#fcdecd"/><rect x="0" y="13" width="1.05" height="1.05" fill="#fcdecd"/><rect x="1" y="13" width="1.05" height="1.05" fill="#fce0d0"/><rect x="2" y="13" width="1.05" height="1.05" fill="#fbe3d5"/><rect x="3" y="13" width="1.05" height="1.05" fill="#fbe3d4"/><rect x="4" y="13" width="1.05" height="1.05" fill="#fcdfce"/><rect x="5" y="13" width="1.05" height="1.05" fill="#fcd6c1"/><rect x="6" y="13" width="1.05" height="1.05" fill="#f9c6ac"/><rect x="7" y="13" width="1.05" height="1.05" fill="#f8bea2"/><rect x="8" y="13" width="1.05" height="1.05" fill="#f8bea2"/><rect x="9" y="13" width="1.05" height="1.05" fill="#f8bea2"/><rect x="10" y="13" width="1.05" height="1.05" fill="#f8bea2"/><rect x="11" y="13" width="1.05" height="1.05" fill="#f8bea2"/><rect x="12" y="13" width="1.05" height="1.05" fill="#f8bea2"/><rect x="-1" y="14" width="1.05" height="1.05" fill="#facbb3"/><rect x="0" y="14" width="1.05" height="1.05" fill="#facbb3"/><rect x="1" y="14" width="1.05" height="1.05" fill="#fbceb6"/><rect x="2" y="14" width="1.05" height="1.05" fill="#fcd3bd"/><rect x="3" y="14" width="1.05" height="1.05" fill="#fcd3bc"/><rect x="4" y="14" width="1.05" height="1.05" fill="#fbcdb5"/><rect x="5" y="14" width="1.05" height="1.05" fill="#f9c6ac"/><rect x="6" y="14" width="1.05" height="1.05" fill="#f8bda1"/><rect x="7" y="14" width="1.05" height="1.05" fill="#f7b99c"/><rect x="8" y="14" width="1.05" height="1.05" fill="#f7b99c"/><rect x="9" y="14" width="1.05" height="1.05" fill="#f7b99c"/><rect x="10" y="14" width="1.05" height="1.05" fill="#f7b99c"/><rect x="11" y="14" width="1.05" height="1.05" fill="#f7b99c"/><rect x="12" y="14" width="1.05" height="1.05" fill="#f7b99c"/><rect x="-1" y="15" width="1.05" height="1.05" fill="#f8c0a4"/><rect x="0" y="15" width="1.05" height="1.05" fill="#f8c0a4"/><rect x="1" y="15" width="1.05" height="1.05" fill="#f9c2a7"/><rect x="2" y="15" width="1.05" height="1.05" fill="#fac7ad"/><rect x="3" y="15" width="1.05" height="1.05" fill="#fac7ad"/><rect x="4" y="15" width="1.05" height="1.05" fill="#f9c2a7"/><rect x="5" y="15" width="1.05" height="1.05" fill="#f8bea2"/><rect x="6" y="15" width="1.05" height="1.05" fill="#f7b99c"/><rect x="7" y="15" width="1.05" height="1.05" fill="#f7b799"/><rect x="8" y="15" width="1.05" height="1.05" fill="#f7b799"/><rect x="9" y="15" width="1.05" height="1.05" fill="#f7b799"/><rect x="10" y="15" width="1.05" height="1.05" fill="#f7b799"/><rect x="11" y="15" width="1.05" height="1.05" fill="#f7b799"/><rect x="12" y="15" width="1.05" height="1.05" fill="#f7b799"/><rect x="-1" y="16" width="1.05" height="1.05" fill="#f8c0a4"/><rect x="0" y="16" width="1.05" height="1.05" fill="#f8c0a4"/><rect x="1" y="16" width="1.05" height="1.05" fill="#f9c2a7"/><rect x="2" y="16" width="1.05" height="1.05" fill="#fac7ad"/><rect x="3" y="16" width="1.05" height="1.05" fill="#fac7ad"/><rect x="4" y="16" width="1.05" height="1.05" fill="#f9c2a7"/><rect x="5" y="16" width="1.05" height="1.05" fill="#f8bea2"/><rect x="6" y="16" width="1.05" height="1.05" fill="#f7b99c"/><rect x="7" y="16" width="1.05" height="1.05" fill="#f7b799"/><rect x="8" y="16" width="1.05" height="1.05" fill="#f7b799"/><rect x="9" y="16" width="1.05" height="1.05" fill="#f7b799"/><rect x="10" y="16" width="1.05" height="1.05" fill="#f7b799"/><rect x="11" y="16" width="1.05" height="1.05" fill="#f7b799"/><rect x="12" y="16" width="1.05" height="1.05" fill="#f7b799"/></g></g></g><use href="#grd"/><use href="#grdo"/><use href="#lines"/><rect x="0.3" y="0.6" width="62.9" height="80.9" class="fr"/></g><g transform="translate(265 199.4)"><g clip-path="url(#land)"><g filter="url(#bl)"><g transform="scale(5.2917 5.1250)"><rect x="-1" y="-1" width="1.05" height="1.05" fill="#e4eef4"/><rect x="0" y="-1" width="1.05" height="1.05" fill="#e4eef4"/><rect x="1" y="-1" width="1.05" height="1.05" fill="#e5eef4"/><rect x="2" y="-1" width="1.05" height="1.05" fill="#e6eff4"/><rect x="3" y="-1" width="1.05" height="1.05" fill="#eaf1f5"/><rect x="4" y="-1" width="1.05" height="1.05" fill="#eef3f5"/><rect x="5" y="-1" width="1.05" height="1.05" fill="#f1f4f6"/><rect x="6" y="-1" width="1.05" height="1.05" fill="#f3f5f6"/><rect x="7" y="-1" width="1.05" height="1.05" fill="#f6f7f7"/><rect x="8" y="-1" width="1.05" height="1.05" fill="#f8f4f2"/><rect x="9" y="-1" width="1.05" height="1.05" fill="#f8f0eb"/><rect x="10" y="-1" width="1.05" height="1.05" fill="#faebe3"/><rect x="11" y="-1" width="1.05" height="1.05" fill="#fae9df"/><rect x="12" y="-1" width="1.05" height="1.05" fill="#fae9df"/><rect x="-1" y="0" width="1.05" height="1.05" fill="#e4eef4"/><rect x="0" y="0" width="1.05" height="1.05" fill="#e4eef4"/><rect x="1" y="0" width="1.05" height="1.05" fill="#e5eef4"/><rect x="2" y="0" width="1.05" height="1.05" fill="#e6eff4"/><rect x="3" y="0" width="1.05" height="1.05" fill="#eaf1f5"/><rect x="4" y="0" width="1.05" height="1.05" fill="#eef3f5"/><rect x="5" y="0" width="1.05" height="1.05" fill="#f1f4f6"/><rect x="6" y="0" width="1.05" height="1.05" fill="#f3f5f6"/><rect x="7" y="0" width="1.05" height="1.05" fill="#f6f7f7"/><rect x="8" y="0" width="1.05" height="1.05" fill="#f8f4f2"/><rect x="9" y="0" width="1.05" height="1.05" fill="#f8f0eb"/><rect x="10" y="0" width="1.05" height="1.05" fill="#faebe3"/><rect x="11" y="0" width="1.05" height="1.05" fill="#fae9df"/><rect x="12" y="0" width="1.05" height="1.05" fill="#fae9df"/><rect x="-1" y="1" width="1.05" height="1.05" fill="#e3eef3"/><rect x="0" y="1" width="1.05" height="1.05" fill="#e3eef3"/><rect x="1" y="1" width="1.05" height="1.05" fill="#e4eef4"/><rect x="2" y="1" width="1.05" height="1.05" fill="#e6eff4"/><rect x="3" y="1" width="1.05" height="1.05" fill="#e9f0f4"/><rect x="4" y="1" width="1.05" height="1.05" fill="#eef3f5"/><rect x="5" y="1" width="1.05" height="1.05" fill="#f1f4f6"/><rect x="6" y="1" width="1.05" height="1.05" fill="#f3f5f6"/><rect x="7" y="1" width="1.05" height="1.05" fill="#f6f7f7"/><rect x="8" y="1" width="1.05" height="1.05" fill="#f8f4f2"/><rect x="9" y="1" width="1.05" height="1.05" fill="#f8f0ec"/><rect x="10" y="1" width="1.05" height="1.05" fill="#f9ece4"/><rect x="11" y="1" width="1.05" height="1.05" fill="#faeae1"/><rect x="12" y="1" width="1.05" height="1.05" fill="#faeae1"/><rect x="-1" y="2" width="1.05" height="1.05" fill="#e2edf3"/><rect x="0" y="2" width="1.05" height="1.05" fill="#e2edf3"/><rect x="1" y="2" width="1.05" height="1.05" fill="#e2edf3"/><rect x="2" y="2" width="1.05" height="1.05" fill="#e4eef4"/><rect x="3" y="2" width="1.05" height="1.05" fill="#e8f0f4"/><rect x="4" y="2" width="1.05" height="1.05" fill="#eef3f5"/><rect x="5" y="2" width="1.05" height="1.05" fill="#f1f4f6"/><rect x="6" y="2" width="1.05" height="1.05" fill="#f3f5f6"/><rect x="7" y="2" width="1.05" height="1.05" fill="#f6f7f7"/><rect x="8" y="2" width="1.05" height="1.05" fill="#f8f4f2"/><rect x="9" y="2" width="1.05" height="1.05" fill="#f8f1ec"/><rect x="10" y="2" width="1.05" height="1.05" fill="#faeae0"/><rect x="11" y="2" width="1.05" height="1.05" fill="#fae9df"/><rect x="12" y="2" width="1.05" height="1.05" fill="#fae9df"/><rect x="-1" y="3" width="1.05" height="1.05" fill="#e0ecf3"/><rect x="0" y="3" width="1.05" height="1.05" fill="#e0ecf3"/><rect x="1" y="3" width="1.05" height="1.05" fill="#e1ecf3"/><rect x="2" y="3" width="1.05" height="1.05" fill="#e2edf3"/><rect x="3" y="3" width="1.05" height="1.05" fill="#e7eff4"/><rect x="4" y="3" width="1.05" height="1.05" fill="#edf2f5"/><rect x="5" y="3" width="1.05" height="1.05" fill="#f2f5f6"/><rect x="6" y="3" width="1.05" height="1.05" fill="#f5f6f7"/><rect x="7" y="3" width="1.05" height="1.05" fill="#f7f6f5"/><rect x="8" y="3" width="1.05" height="1.05" fill="#f8f3f0"/><rect x="9" y="3" width="1.05" height="1.05" fill="#fae9e0"/><rect x="10" y="3" width="1.05" height="1.05" fill="#fae7db"/><rect x="11" y="3" width="1.05" height="1.05" fill="#fae7db"/><rect x="12" y="3" width="1.05" height="1.05" fill="#fae7db"/><rect x="-1" y="4" width="1.05" height="1.05" fill="#deebf2"/><rect x="0" y="4" width="1.05" height="1.05" fill="#deebf2"/><rect x="1" y="4" width="1.05" height="1.05" fill="#dfecf3"/><rect x="2" y="4" width="1.05" height="1.05" fill="#e1ecf3"/><rect x="3" y="4" width="1.05" height="1.05" fill="#e5eff4"/><rect x="4" y="4" width="1.05" height="1.05" fill="#edf2f5"/><rect x="5" y="4" width="1.05" height="1.05" fill="#f3f5f6"/><rect x="6" y="4" width="1.05" height="1.05" fill="#f7f6f5"/><rect x="7" y="4" width="1.05" height="1.05" fill="#f8f3f0"/><rect x="8" y="4" width="1.05" height="1.05" fill="#f8f0eb"/><rect x="9" y="4" width="1.05" height="1.05" fill="#fae7db"/><rect x="10" y="4" width="1.05" height="1.05" fill="#fae7db"/><rect x="11" y="4" width="1.05" height="1.05" fill="#faebe2"/><rect x="12" y="4" width="1.05" height="1.05" fill="#faebe2"/><rect x="-1" y="5" width="1.05" height="1.05" fill="#dceaf2"/><rect x="0" y="5" width="1.05" height="1.05" fill="#dceaf2"/><rect x="1" y="5" width="1.05" height="1.05" fill="#ddebf2"/><rect x="2" y="5" width="1.05" height="1.05" fill="#dfecf3"/><rect x="3" y="5" width="1.05" height="1.05" fill="#e5eef4"/><rect x="4" y="5" width="1.05" height="1.05" fill="#eef3f5"/><rect x="5" y="5" width="1.05" height="1.05" fill="#f6f7f7"/><rect x="6" y="5" width="1.05" height="1.05" fill="#f8f2ef"/><rect x="7" y="5" width="1.05" height="1.05" fill="#f9eee8"/><rect x="8" y="5" width="1.05" height="1.05" fill="#f9ece3"/><rect x="9" y="5" width="1.05" height="1.05" fill="#fae7db"/><rect x="10" y="5" width="1.05" height="1.05" fill="#fae7db"/><rect x="11" y="5" width="1.05" height="1.05" fill="#f9f0eb"/><rect x="12" y="5" width="1.05" height="1.05" fill="#f9f0eb"/><rect x="-1" y="6" width="1.05" height="1.05" fill="#d9e9f1"/><rect x="0" y="6" width="1.05" height="1.05" fill="#d9e9f1"/><rect x="1" y="6" width="1.05" height="1.05" fill="#dae9f2"/><rect x="2" y="6" width="1.05" height="1.05" fill="#ddebf2"/><rect x="3" y="6" width="1.05" height="1.05" fill="#e4eef4"/><rect x="4" y="6" width="1.05" height="1.05" fill="#f0f4f6"/><rect x="5" y="6" width="1.05" height="1.05" fill="#f8f5f3"/><rect x="6" y="6" width="1.05" height="1.05" fill="#f9ede6"/><rect x="7" y="6" width="1.05" height="1.05" fill="#fae8de"/><rect x="8" y="6" width="1.05" height="1.05" fill="#fae7db"/><rect x="9" y="6" width="1.05" height="1.05" fill="#fae7db"/><rect x="10" y="6" width="1.05" height="1.05" fill="#fae7db"/><rect x="11" y="6" width="1.05" height="1.05" fill="#f9ede6"/><rect x="12" y="6" width="1.05" height="1.05" fill="#f9ede6"/><rect x="-1" y="7" width="1.05" height="1.05" fill="#d7e8f1"/><rect x="0" y="7" width="1.05" height="1.05" fill="#d7e8f1"/><rect x="1" y="7" width="1.05" height="1.05" fill="#d8e8f1"/><rect x="2" y="7" width="1.05" height="1.05" fill="#dae9f2"/><rect x="3" y="7" width="1.05" height="1.05" fill="#e0ecf3"/><rect x="4" y="7" width="1.05" height="1.05" fill="#ecf2f5"/><rect x="5" y="7" width="1.05" height="1.05" fill="#f7f6f6"/><rect x="6" y="7" width="1.05" height="1.05" fill="#f9eee7"/><rect x="7" y="7" width="1.05" height="1.05" fill="#fae7db"/><rect x="8" y="7" width="1.05" height="1.05" fill="#fae7db"/><rect x="9" y="7" width="1.05" height="1.05" fill="#fae7db"/><rect x="10" y="7" width="1.05" height="1.05" fill="#faeae1"/><rect x="11" y="7" width="1.05" height="1.05" fill="#f9ece5"/><rect x="12" y="7" width="1.05" height="1.05" fill="#f9ece5"/><rect x="-1" y="8" width="1.05" height="1.05" fill="#d7e8f1"/><rect x="0" y="8" width="1.05" height="1.05" fill="#d7e8f1"/><rect x="1" y="8" width="1.05" height="1.05" fill="#d7e8f1"/><rect x="2" y="8" width="1.05" height="1.05" fill="#d5e7f1"/><rect x="3" y="8" width="1.05" height="1.05" fill="#d9e9f2"/><rect x="4" y="8" width="1.05" height="1.05" fill="#e4eef3"/><rect x="5" y="8" width="1.05" height="1.05" fill="#eff3f6"/><rect x="6" y="8" width="1.05" height="1.05" fill="#fae7db"/><rect x="7" y="8" width="1.05" height="1.05" fill="#fae7db"/><rect x="8" y="8" width="1.05" height="1.05" fill="#fae7db"/><rect x="9" y="8" width="1.05" height="1.05" fill="#f9ece3"/><rect x="10" y="8" width="1.05" height="1.05" fill="#f9eee8"/><rect x="11" y="8" width="1.05" height="1.05" fill="#f9efe9"/><rect x="12" y="8" width="1.05" height="1.05" fill="#f9efe9"/><rect x="-1" y="9" width="1.05" height="1.05" fill="#d6e7f1"/><rect x="0" y="9" width="1.05" height="1.05" fill="#d6e7f1"/><rect x="1" y="9" width="1.05" height="1.05" fill="#d4e6f1"/><rect x="2" y="9" width="1.05" height="1.05" fill="#cfe4ef"/><rect x="3" y="9" width="1.05" height="1.05" fill="#d2e5f0"/><rect x="4" y="9" width="1.05" height="1.05" fill="#dae9f2"/><rect x="5" y="9" width="1.05" height="1.05" fill="#f6f7f7"/><rect x="6" y="9" width="1.05" height="1.05" fill="#fae7db"/><rect x="7" y="9" width="1.05" height="1.05" fill="#fae7db"/><rect x="8" y="9" width="1.05" height="1.05" fill="#f8f0ec"/><rect x="9" y="9" width="1.05" height="1.05" fill="#f8f3f0"/><rect x="10" y="9" width="1.05" height="1.05" fill="#f8f3f0"/><rect x="11" y="9" width="1.05" height="1.05" fill="#f8f3f0"/><rect x="12" y="9" width="1.05" height="1.05" fill="#f8f3f0"/><rect x="-1" y="10" width="1.05" height="1.05" fill="#d3e6f0"/><rect x="0" y="10" width="1.05" height="1.05" fill="#d3e6f0"/><rect x="1" y="10" width="1.05" height="1.05" fill="#cfe4ef"/><rect x="2" y="10" width="1.05" height="1.05" fill="#c6dfed"/><rect x="3" y="10" width="1.05" height="1.05" fill="#c5dfed"/><rect x="4" y="10" width="1.05" height="1.05" fill="#cde3ef"/><rect x="5" y="10" width="1.05" height="1.05" fill="#d9e9f1"/><rect x="6" y="10" width="1.05" height="1.05" fill="#e8f0f4"/><rect x="7" y="10" width="1.05" height="1.05" fill="#f0f4f6"/><rect x="8" y="10" width="1.05" height="1.05" fill="#f3f5f6"/><rect x="9" y="10" width="1.05" height="1.05" fill="#f5f6f7"/><rect x="10" y="10" width="1.05" height="1.05" fill="#f5f6f7"/><rect x="11" y="10" width="1.05" height="1.05" fill="#f5f6f7"/><rect x="12" y="10" width="1.05" height="1.05" fill="#f5f6f7"/><rect x="-1" y="11" width="1.05" height="1.05" fill="#d3e6f0"/><rect x="0" y="11" width="1.05" height="1.05" fill="#d3e6f0"/><rect x="1" y="11" width="1.05" height="1.05" fill="#cee3ef"/><rect x="2" y="11" width="1.05" height="1.05" fill="#c2ddec"/><rect x="3" y="11" width="1.05" height="1.05" fill="#bedbeb"/><rect x="4" y="11" width="1.05" height="1.05" fill="#c2ddec"/><rect x="5" y="11" width="1.05" height="1.05" fill="#d1e5f0"/><rect x="6" y="11" width="1.05" height="1.05" fill="#e1edf3"/><rect x="7" y="11" width="1.05" height="1.05" fill="#ebf1f5"/><rect x="8" y="11" width="1.05" height="1.05" fill="#eef3f5"/><rect x="9" y="11" width="1.05" height="1.05" fill="#f0f4f6"/><rect x="10" y="11" width="1.05" height="1.05" fill="#f0f4f6"/><rect x="11" y="11" width="1.05" height="1.05" fill="#f0f4f6"/><rect x="12" y="11" width="1.05" height="1.05" fill="#f0f4f6"/><rect x="-1" y="12" width="1.05" height="1.05" fill="#d6e7f1"/><rect x="0" y="12" width="1.05" height="1.05" fill="#d6e7f1"/><rect x="1" y="12" width="1.05" height="1.05" fill="#d1e5f0"/><rect x="2" y="12" width="1.05" height="1.05" fill="#c3deec"/><rect x="3" y="12" width="1.05" height="1.05" fill="#bddbea"/><rect x="4" y="12" width="1.05" height="1.05" fill="#bedbeb"/><rect x="5" y="12" width="1.05" height="1.05" fill="#cde3ef"/><rect x="6" y="12" width="1.05" height="1.05" fill="#dfecf3"/><rect x="7" y="12" width="1.05" height="1.05" fill="#eaf1f5"/><rect x="8" y="12" width="1.05" height="1.05" fill="#edf2f5"/><rect x="9" y="12" width="1.05" height="1.05" fill="#eef3f5"/><rect x="10" y="12" width="1.05" height="1.05" fill="#eef3f5"/><rect x="11" y="12" width="1.05" height="1.05" fill="#eef3f5"/><rect x="12" y="12" width="1.05" height="1.05" fill="#eef3f5"/><rect x="-1" y="13" width="1.05" height="1.05" fill="#dbeaf2"/><rect x="0" y="13" width="1.05" height="1.05" fill="#dbeaf2"/><rect x="1" y="13" width="1.05" height="1.05" fill="#d6e8f1"/><rect x="2" y="13" width="1.05" height="1.05" fill="#c9e1ee"/><rect x="3" y="13" width="1.05" height="1.05" fill="#c2ddec"/><rect x="4" y="13" width="1.05" height="1.05" fill="#c3deec"/><rect x="5" y="13" width="1.05" height="1.05" fill="#d1e5f0"/><rect x="6" y="13" width="1.05" height="1.05" fill="#e0ecf3"/><rect x="7" y="13" width="1.05" height="1.05" fill="#e9f1f4"/><rect x="8" y="13" width="1.05" height="1.05" fill="#ecf2f5"/><rect x="9" y="13" width="1.05" height="1.05" fill="#eef2f5"/><rect x="10" y="13" width="1.05" height="1.05" fill="#eef2f5"/><rect x="11" y="13" width="1.05" height="1.05" fill="#eef2f5"/><rect x="12" y="13" width="1.05" height="1.05" fill="#eef2f5"/><rect x="-1" y="14" width="1.05" height="1.05" fill="#e3eef3"/><rect x="0" y="14" width="1.05" height="1.05" fill="#e3eef3"/><rect x="1" y="14" width="1.05" height="1.05" fill="#deebf2"/><rect x="2" y="14" width="1.05" height="1.05" fill="#d3e6f0"/><rect x="3" y="14" width="1.05" height="1.05" fill="#cee3ef"/><rect x="4" y="14" width="1.05" height="1.05" fill="#d1e5f0"/><rect x="5" y="14" width="1.05" height="1.05" fill="#d8e8f1"/><rect x="6" y="14" width="1.05" height="1.05" fill="#e4eef3"/><rect x="7" y="14" width="1.05" height="1.05" fill="#ebf1f5"/><rect x="8" y="14" width="1.05" height="1.05" fill="#edf2f5"/><rect x="9" y="14" width="1.05" height="1.05" fill="#eef2f5"/><rect x="10" y="14" width="1.05" height="1.05" fill="#eef2f5"/><rect x="11" y="14" width="1.05" height="1.05" fill="#eef2f5"/><rect x="12" y="14" width="1.05" height="1.05" fill="#eef2f5"/><rect x="-1" y="15" width="1.05" height="1.05" fill="#e7f0f4"/><rect x="0" y="15" width="1.05" height="1.05" fill="#e7f0f4"/><rect x="1" y="15" width="1.05" height="1.05" fill="#e2edf3"/><rect x="2" y="15" width="1.05" height="1.05" fill="#d7e8f1"/><rect x="3" y="15" width="1.05" height="1.05" fill="#d3e6f0"/><rect x="4" y="15" width="1.05" height="1.05" fill="#d6e7f1"/><rect x="5" y="15" width="1.05" height="1.05" fill="#dceaf2"/><rect x="6" y="15" width="1.05" height="1.05" fill="#e6eff4"/><rect x="7" y="15" width="1.05" height="1.05" fill="#ebf1f5"/><rect x="8" y="15" width="1.05" height="1.05" fill="#edf2f5"/><rect x="9" y="15" width="1.05" height="1.05" fill="#eef2f5"/><rect x="10" y="15" width="1.05" height="1.05" fill="#eef2f5"/><rect x="11" y="15" width="1.05" height="1.05" fill="#eef2f5"/><rect x="12" y="15" width="1.05" height="1.05" fill="#eef2f5"/><rect x="-1" y="16" width="1.05" height="1.05" fill="#e7f0f4"/><rect x="0" y="16" width="1.05" height="1.05" fill="#e7f0f4"/><rect x="1" y="16" width="1.05" height="1.05" fill="#e2edf3"/><rect x="2" y="16" width="1.05" height="1.05" fill="#d7e8f1"/><rect x="3" y="16" width="1.05" height="1.05" fill="#d3e6f0"/><rect x="4" y="16" width="1.05" height="1.05" fill="#d6e7f1"/><rect x="5" y="16" width="1.05" height="1.05" fill="#dceaf2"/><rect x="6" y="16" width="1.05" height="1.05" fill="#e6eff4"/><rect x="7" y="16" width="1.05" height="1.05" fill="#ebf1f5"/><rect x="8" y="16" width="1.05" height="1.05" fill="#edf2f5"/><rect x="9" y="16" width="1.05" height="1.05" fill="#eef2f5"/><rect x="10" y="16" width="1.05" height="1.05" fill="#eef2f5"/><rect x="11" y="16" width="1.05" height="1.05" fill="#eef2f5"/><rect x="12" y="16" width="1.05" height="1.05" fill="#eef2f5"/></g></g></g><use href="#grd"/><use href="#grdo"/><use href="#lines"/><rect x="0.3" y="0.6" width="62.9" height="80.9" class="fr"/></g><g transform="translate(348 199.4)"><g clip-path="url(#land)"><g filter="url(#bl)"><g transform="scale(5.2917 5.1250)"><rect x="-1" y="-1" width="1.05" height="1.05" fill="#d7e8f1"/><rect x="0" y="-1" width="1.05" height="1.05" fill="#d7e8f1"/><rect x="1" y="-1" width="1.05" height="1.05" fill="#d7e8f1"/><rect x="2" y="-1" width="1.05" height="1.05" fill="#d7e8f1"/><rect x="3" y="-1" width="1.05" height="1.05" fill="#d8e8f1"/><rect x="4" y="-1" width="1.05" height="1.05" fill="#dae9f2"/><rect x="5" y="-1" width="1.05" height="1.05" fill="#dbeaf2"/><rect x="6" y="-1" width="1.05" height="1.05" fill="#ddebf2"/><rect x="7" y="-1" width="1.05" height="1.05" fill="#e0ecf3"/><rect x="8" y="-1" width="1.05" height="1.05" fill="#e5eef4"/><rect x="9" y="-1" width="1.05" height="1.05" fill="#ebf1f5"/><rect x="10" y="-1" width="1.05" height="1.05" fill="#f2f5f6"/><rect x="11" y="-1" width="1.05" height="1.05" fill="#f1f4f6"/><rect x="12" y="-1" width="1.05" height="1.05" fill="#f1f4f6"/><rect x="-1" y="0" width="1.05" height="1.05" fill="#d7e8f1"/><rect x="0" y="0" width="1.05" height="1.05" fill="#d7e8f1"/><rect x="1" y="0" width="1.05" height="1.05" fill="#d7e8f1"/><rect x="2" y="0" width="1.05" height="1.05" fill="#d7e8f1"/><rect x="3" y="0" width="1.05" height="1.05" fill="#d8e8f1"/><rect x="4" y="0" width="1.05" height="1.05" fill="#dae9f2"/><rect x="5" y="0" width="1.05" height="1.05" fill="#dbeaf2"/><rect x="6" y="0" width="1.05" height="1.05" fill="#ddebf2"/><rect x="7" y="0" width="1.05" height="1.05" fill="#e0ecf3"/><rect x="8" y="0" width="1.05" height="1.05" fill="#e5eef4"/><rect x="9" y="0" width="1.05" height="1.05" fill="#ebf1f5"/><rect x="10" y="0" width="1.05" height="1.05" fill="#f2f5f6"/><rect x="11" y="0" width="1.05" height="1.05" fill="#f1f4f6"/><rect x="12" y="0" width="1.05" height="1.05" fill="#f1f4f6"/><rect x="-1" y="1" width="1.05" height="1.05" fill="#d7e8f1"/><rect x="0" y="1" width="1.05" height="1.05" fill="#d7e8f1"/><rect x="1" y="1" width="1.05" height="1.05" fill="#d7e8f1"/><rect x="2" y="1" width="1.05" height="1.05" fill="#d7e8f1"/><rect x="3" y="1" width="1.05" height="1.05" fill="#d8e8f1"/><rect x="4" y="1" width="1.05" height="1.05" fill="#d9e9f1"/><rect x="5" y="1" width="1.05" height="1.05" fill="#dae9f2"/><rect x="6" y="1" width="1.05" height="1.05" fill="#dae9f2"/><rect x="7" y="1" width="1.05" height="1.05" fill="#ddebf2"/><rect x="8" y="1" width="1.05" height="1.05" fill="#e3eef3"/><rect x="9" y="1" width="1.05" height="1.05" fill="#ebf1f5"/><rect x="10" y="1" width="1.05" height="1.05" fill="#f1f4f6"/><rect x="11" y="1" width="1.05" height="1.05" fill="#f1f4f6"/><rect x="12" y="1" width="1.05" height="1.05" fill="#f1f4f6"/><rect x="-1" y="2" width="1.05" height="1.05" fill="#d7e8f1"/><rect x="0" y="2" width="1.05" height="1.05" fill="#d7e8f1"/><rect x="1" y="2" width="1.05" height="1.05" fill="#d7e8f1"/><rect x="2" y="2" width="1.05" height="1.05" fill="#d7e8f1"/><rect x="3" y="2" width="1.05" height="1.05" fill="#d8e8f1"/><rect x="4" y="2" width="1.05" height="1.05" fill="#d8e8f1"/><rect x="5" y="2" width="1.05" height="1.05" fill="#d7e8f1"/><rect x="6" y="2" width="1.05" height="1.05" fill="#d5e7f1"/><rect x="7" y="2" width="1.05" height="1.05" fill="#d8e8f1"/><rect x="8" y="2" width="1.05" height="1.05" fill="#e1ecf3"/><rect x="9" y="2" width="1.05" height="1.05" fill="#e9f1f4"/><rect x="10" y="2" width="1.05" height="1.05" fill="#f1f4f6"/><rect x="11" y="2" width="1.05" height="1.05" fill="#f1f4f6"/><rect x="12" y="2" width="1.05" height="1.05" fill="#f1f4f6"/><rect x="-1" y="3" width="1.05" height="1.05" fill="#d7e8f1"/><rect x="0" y="3" width="1.05" height="1.05" fill="#d7e8f1"/><rect x="1" y="3" width="1.05" height="1.05" fill="#d7e8f1"/><rect x="2" y="3" width="1.05" height="1.05" fill="#d7e8f1"/><rect x="3" y="3" width="1.05" height="1.05" fill="#d8e8f1"/><rect x="4" y="3" width="1.05" height="1.05" fill="#d8e8f1"/><rect x="5" y="3" width="1.05" height="1.05" fill="#d7e8f1"/><rect x="6" y="3" width="1.05" height="1.05" fill="#d5e7f1"/><rect x="7" y="3" width="1.05" height="1.05" fill="#d9e9f1"/><rect x="8" y="3" width="1.05" height="1.05" fill="#e2edf3"/><rect x="9" y="3" width="1.05" height="1.05" fill="#edf2f5"/><rect x="10" y="3" width="1.05" height="1.05" fill="#f1f4f6"/><rect x="11" y="3" width="1.05" height="1.05" fill="#f1f4f6"/><rect x="12" y="3" width="1.05" height="1.05" fill="#f1f4f6"/><rect x="-1" y="4" width="1.05" height="1.05" fill="#d7e8f1"/><rect x="0" y="4" width="1.05" height="1.05" fill="#d7e8f1"/><rect x="1" y="4" width="1.05" height="1.05" fill="#d7e8f1"/><rect x="2" y="4" width="1.05" height="1.05" fill="#d7e8f1"/><rect x="3" y="4" width="1.05" height="1.05" fill="#d8e8f1"/><rect x="4" y="4" width="1.05" height="1.05" fill="#d9e9f1"/><rect x="5" y="4" width="1.05" height="1.05" fill="#dae9f2"/><rect x="6" y="4" width="1.05" height="1.05" fill="#dae9f2"/><rect x="7" y="4" width="1.05" height="1.05" fill="#dfebf3"/><rect x="8" y="4" width="1.05" height="1.05" fill="#e7eff4"/><rect x="9" y="4" width="1.05" height="1.05" fill="#f1f4f6"/><rect x="10" y="4" width="1.05" height="1.05" fill="#f1f4f6"/><rect x="11" y="4" width="1.05" height="1.05" fill="#f8f4f2"/><rect x="12" y="4" width="1.05" height="1.05" fill="#f8f4f2"/><rect x="-1" y="5" width="1.05" height="1.05" fill="#d6e7f1"/><rect x="0" y="5" width="1.05" height="1.05" fill="#d6e7f1"/><rect x="1" y="5" width="1.05" height="1.05" fill="#d6e7f1"/><rect x="2" y="5" width="1.05" height="1.05" fill="#d6e8f1"/><rect x="3" y="5" width="1.05" height="1.05" fill="#d8e8f1"/><rect x="4" y="5" width="1.05" height="1.05" fill="#dae9f2"/><rect x="5" y="5" width="1.05" height="1.05" fill="#dceaf2"/><rect x="6" y="5" width="1.05" height="1.05" fill="#e0ecf3"/><rect x="7" y="5" width="1.05" height="1.05" fill="#e6eff4"/><rect x="8" y="5" width="1.05" height="1.05" fill="#eef2f5"/><rect x="9" y="5" width="1.05" height="1.05" fill="#f1f4f6"/><rect x="10" y="5" width="1.05" height="1.05" fill="#f1f4f6"/><rect x="11" y="5" width="1.05" height="1.05" fill="#f8f0eb"/><rect x="12" y="5" width="1.05" height="1.05" fill="#f8f0eb"/><rect x="-1" y="6" width="1.05" height="1.05" fill="#d3e6f0"/><rect x="0" y="6" width="1.05" height="1.05" fill="#d3e6f0"/><rect x="1" y="6" width="1.05" height="1.05" fill="#d3e6f0"/><rect x="2" y="6" width="1.05" height="1.05" fill="#d4e7f1"/><rect x="3" y="6" width="1.05" height="1.05" fill="#d6e8f1"/><rect x="4" y="6" width="1.05" height="1.05" fill="#d9e9f1"/><rect x="5" y="6" width="1.05" height="1.05" fill="#deebf2"/><rect x="6" y="6" width="1.05" height="1.05" fill="#e6eff4"/><rect x="7" y="6" width="1.05" height="1.05" fill="#eef2f5"/><rect x="8" y="6" width="1.05" height="1.05" fill="#f1f4f6"/><rect x="9" y="6" width="1.05" height="1.05" fill="#f1f4f6"/><rect x="10" y="6" width="1.05" height="1.05" fill="#f2f5f6"/><rect x="11" y="6" width="1.05" height="1.05" fill="#f8f0eb"/><rect x="12" y="6" width="1.05" height="1.05" fill="#f8f0eb"/><rect x="-1" y="7" width="1.05" height="1.05" fill="#d1e5f0"/><rect x="0" y="7" width="1.05" height="1.05" fill="#d1e5f0"/><rect x="1" y="7" width="1.05" height="1.05" fill="#d1e5f0"/><rect x="2" y="7" width="1.05" height="1.05" fill="#d2e5f0"/><rect x="3" y="7" width="1.05" height="1.05" fill="#d4e6f1"/><rect x="4" y="7" width="1.05" height="1.05" fill="#d8e8f1"/><rect x="5" y="7" width="1.05" height="1.05" fill="#dfecf3"/><rect x="6" y="7" width="1.05" height="1.05" fill="#e8f0f4"/><rect x="7" y="7" width="1.05" height="1.05" fill="#f1f4f6"/><rect x="8" y="7" width="1.05" height="1.05" fill="#f1f4f6"/><rect x="9" y="7" width="1.05" height="1.05" fill="#f1f4f6"/><rect x="10" y="7" width="1.05" height="1.05" fill="#f7f5f4"/><rect x="11" y="7" width="1.05" height="1.05" fill="#f8f5f3"/><rect x="12" y="7" width="1.05" height="1.05" fill="#f8f5f3"/><rect x="-1" y="8" width="1.05" height="1.05" fill="#d1e5f0"/><rect x="0" y="8" width="1.05" height="1.05" fill="#d1e5f0"/><rect x="1" y="8" width="1.05" height="1.05" fill="#cfe4f0"/><rect x="2" y="8" width="1.05" height="1.05" fill="#cce3ef"/><rect x="3" y="8" width="1.05" height="1.05" fill="#d0e4f0"/><rect x="4" y="8" width="1.05" height="1.05" fill="#d7e8f1"/><rect x="5" y="8" width="1.05" height="1.05" fill="#deebf2"/><rect x="6" y="8" width="1.05" height="1.05" fill="#eef3f5"/><rect x="7" y="8" width="1.05" height="1.05" fill="#f1f4f6"/><rect x="8" y="8" width="1.05" height="1.05" fill="#f1f4f6"/><rect x="9" y="8" width="1.05" height="1.05" fill="#edf2f5"/><rect x="10" y="8" width="1.05" height="1.05" fill="#edf2f5"/><rect x="11" y="8" width="1.05" height="1.05" fill="#eef2f5"/><rect x="12" y="8" width="1.05" height="1.05" fill="#eef2f5"/><rect x="-1" y="9" width="1.05" height="1.05" fill="#d0e4f0"/><rect x="0" y="9" width="1.05" height="1.05" fill="#d0e4f0"/><rect x="1" y="9" width="1.05" height="1.05" fill="#cce3ef"/><rect x="2" y="9" width="1.05" height="1.05" fill="#c6dfed"/><rect x="3" y="9" width="1.05" height="1.05" fill="#c8e1ee"/><rect x="4" y="9" width="1.05" height="1.05" fill="#d3e6f0"/><rect x="5" y="9" width="1.05" height="1.05" fill="#dbeaf2"/><rect x="6" y="9" width="1.05" height="1.05" fill="#f1f4f6"/><rect x="7" y="9" width="1.05" height="1.05" fill="#f1f4f6"/><rect x="8" y="9" width="1.05" height="1.05" fill="#e6eff4"/><rect x="9" y="9" width="1.05" height="1.05" fill="#e6eff4"/><rect x="10" y="9" width="1.05" height="1.05" fill="#e6eff4"/><rect x="11" y="9" width="1.05" height="1.05" fill="#e6eff4"/><rect x="12" y="9" width="1.05" height="1.05" fill="#e6eff4"/><rect x="-1" y="10" width="1.05" height="1.05" fill="#cde3ef"/><rect x="0" y="10" width="1.05" height="1.05" fill="#cde3ef"/><rect x="1" y="10" width="1.05" height="1.05" fill="#c8e1ee"/><rect x="2" y="10" width="1.05" height="1.05" fill="#bfdceb"/><rect x="3" y="10" width="1.05" height="1.05" fill="#bfdceb"/><rect x="4" y="10" width="1.05" height="1.05" fill="#c8e1ee"/><rect x="5" y="10" width="1.05" height="1.05" fill="#edf2f5"/><rect x="6" y="10" width="1.05" height="1.05" fill="#f1f4f6"/><rect x="7" y="10" width="1.05" height="1.05" fill="#e9f0f4"/><rect x="8" y="10" width="1.05" height="1.05" fill="#e2edf3"/><rect x="9" y="10" width="1.05" height="1.05" fill="#e2edf3"/><rect x="10" y="10" width="1.05" height="1.05" fill="#e2edf3"/><rect x="11" y="10" width="1.05" height="1.05" fill="#e2edf3"/><rect x="12" y="10" width="1.05" height="1.05" fill="#e2edf3"/><rect x="-1" y="11" width="1.05" height="1.05" fill="#cee4ef"/><rect x="0" y="11" width="1.05" height="1.05" fill="#cee4ef"/><rect x="1" y="11" width="1.05" height="1.05" fill="#c9e1ee"/><rect x="2" y="11" width="1.05" height="1.05" fill="#bfdceb"/><rect x="3" y="11" width="1.05" height="1.05" fill="#bcdaea"/><rect x="4" y="11" width="1.05" height="1.05" fill="#cfe4f0"/><rect x="5" y="11" width="1.05" height="1.05" fill="#f1f4f6"/><rect x="6" y="11" width="1.05" height="1.05" fill="#f1f4f6"/><rect x="7" y="11" width="1.05" height="1.05" fill="#e0ecf3"/><rect x="8" y="11" width="1.05" height="1.05" fill="#e0ecf3"/><rect x="9" y="11" width="1.05" height="1.05" fill="#e0ecf3"/><rect x="10" y="11" width="1.05" height="1.05" fill="#e0ecf3"/><rect x="11" y="11" width="1.05" height="1.05" fill="#e0ecf3"/><rect x="12" y="11" width="1.05" height="1.05" fill="#e0ecf3"/><rect x="-1" y="12" width="1.05" height="1.05" fill="#d3e6f0"/><rect x="0" y="12" width="1.05" height="1.05" fill="#d3e6f0"/><rect x="1" y="12" width="1.05" height="1.05" fill="#cee4ef"/><rect x="2" y="12" width="1.05" height="1.05" fill="#c4deec"/><rect x="3" y="12" width="1.05" height="1.05" fill="#c0dceb"/><rect x="4" y="12" width="1.05" height="1.05" fill="#f1f4f6"/><rect x="5" y="12" width="1.05" height="1.05" fill="#f1f4f6"/><rect x="6" y="12" width="1.05" height="1.05" fill="#e2edf3"/><rect x="7" y="12" width="1.05" height="1.05" fill="#deebf2"/><rect x="8" y="12" width="1.05" height="1.05" fill="#deebf2"/><rect x="9" y="12" width="1.05" height="1.05" fill="#deebf2"/><rect x="10" y="12" width="1.05" height="1.05" fill="#deebf2"/><rect x="11" y="12" width="1.05" height="1.05" fill="#deebf2"/><rect x="12" y="12" width="1.05" height="1.05" fill="#deebf2"/><rect x="-1" y="13" width="1.05" height="1.05" fill="#d7e8f1"/><rect x="0" y="13" width="1.05" height="1.05" fill="#d7e8f1"/><rect x="1" y="13" width="1.05" height="1.05" fill="#d4e6f1"/><rect x="2" y="13" width="1.05" height="1.05" fill="#cce2ee"/><rect x="3" y="13" width="1.05" height="1.05" fill="#c7e0ed"/><rect x="4" y="13" width="1.05" height="1.05" fill="#f1f4f6"/><rect x="5" y="13" width="1.05" height="1.05" fill="#f1f4f6"/><rect x="6" y="13" width="1.05" height="1.05" fill="#d9e9f2"/><rect x="7" y="13" width="1.05" height="1.05" fill="#deebf2"/><rect x="8" y="13" width="1.05" height="1.05" fill="#deebf2"/><rect x="9" y="13" width="1.05" height="1.05" fill="#deebf2"/><rect x="10" y="13" width="1.05" height="1.05" fill="#deebf2"/><rect x="11" y="13" width="1.05" height="1.05" fill="#deebf2"/><rect x="12" y="13" width="1.05" height="1.05" fill="#deebf2"/><rect x="-1" y="14" width="1.05" height="1.05" fill="#deebf2"/><rect x="0" y="14" width="1.05" height="1.05" fill="#deebf2"/><rect x="1" y="14" width="1.05" height="1.05" fill="#daeaf2"/><rect x="2" y="14" width="1.05" height="1.05" fill="#d4e6f1"/><rect x="3" y="14" width="1.05" height="1.05" fill="#e5eff4"/><rect x="4" y="14" width="1.05" height="1.05" fill="#f1f4f6"/><rect x="5" y="14" width="1.05" height="1.05" fill="#e6eff4"/><rect x="6" y="14" width="1.05" height="1.05" fill="#dceaf2"/><rect x="7" y="14" width="1.05" height="1.05" fill="#deebf2"/><rect x="8" y="14" width="1.05" height="1.05" fill="#deebf2"/><rect x="9" y="14" width="1.05" height="1.05" fill="#deebf2"/><rect x="10" y="14" width="1.05" height="1.05" fill="#deebf2"/><rect x="11" y="14" width="1.05" height="1.05" fill="#deebf2"/><rect x="12" y="14" width="1.05" height="1.05" fill="#deebf2"/><rect x="-1" y="15" width="1.05" height="1.05" fill="#e1ecf3"/><rect x="0" y="15" width="1.05" height="1.05" fill="#e1ecf3"/><rect x="1" y="15" width="1.05" height="1.05" fill="#deebf2"/><rect x="2" y="15" width="1.05" height="1.05" fill="#d7e8f1"/><rect x="3" y="15" width="1.05" height="1.05" fill="#f1f4f6"/><rect x="4" y="15" width="1.05" height="1.05" fill="#f1f4f6"/><rect x="5" y="15" width="1.05" height="1.05" fill="#dbeaf2"/><rect x="6" y="15" width="1.05" height="1.05" fill="#ddebf2"/><rect x="7" y="15" width="1.05" height="1.05" fill="#deebf2"/><rect x="8" y="15" width="1.05" height="1.05" fill="#deebf2"/><rect x="9" y="15" width="1.05" height="1.05" fill="#deebf2"/><rect x="10" y="15" width="1.05" height="1.05" fill="#deebf2"/><rect x="11" y="15" width="1.05" height="1.05" fill="#deebf2"/><rect x="12" y="15" width="1.05" height="1.05" fill="#deebf2"/><rect x="-1" y="16" width="1.05" height="1.05" fill="#e1ecf3"/><rect x="0" y="16" width="1.05" height="1.05" fill="#e1ecf3"/><rect x="1" y="16" width="1.05" height="1.05" fill="#deebf2"/><rect x="2" y="16" width="1.05" height="1.05" fill="#d7e8f1"/><rect x="3" y="16" width="1.05" height="1.05" fill="#f1f4f6"/><rect x="4" y="16" width="1.05" height="1.05" fill="#f1f4f6"/><rect x="5" y="16" width="1.05" height="1.05" fill="#dbeaf2"/><rect x="6" y="16" width="1.05" height="1.05" fill="#ddebf2"/><rect x="7" y="16" width="1.05" height="1.05" fill="#deebf2"/><rect x="8" y="16" width="1.05" height="1.05" fill="#deebf2"/><rect x="9" y="16" width="1.05" height="1.05" fill="#deebf2"/><rect x="10" y="16" width="1.05" height="1.05" fill="#deebf2"/><rect x="11" y="16" width="1.05" height="1.05" fill="#deebf2"/><rect x="12" y="16" width="1.05" height="1.05" fill="#deebf2"/></g></g></g><use href="#grd"/><use href="#grdo"/><use href="#lines"/><rect x="0.3" y="0.6" width="62.9" height="80.9" class="fr"/></g><rect x="431" y="48.35" width="8" height="3.19" fill="#6c0220"/><rect x="431" y="51.24" width="8" height="3.19" fill="#770522"/><rect x="431" y="54.13" width="8" height="3.19" fill="#810823"/><rect x="431" y="57.02" width="8" height="3.19" fill="#8b0c25"/><rect x="431" y="59.91" width="8" height="3.19" fill="#960f26"/><rect x="431" y="62.79" width="8" height="3.19" fill="#a01228"/><rect x="431" y="65.68" width="8" height="3.19" fill="#ab162a"/><rect x="431" y="68.57" width="8" height="3.19" fill="#b31b2c"/><rect x="431" y="71.46" width="8" height="3.19" fill="#b92531"/><rect x="431" y="74.35" width="8" height="3.19" fill="#bd2f36"/><rect x="431" y="77.24" width="8" height="3.19" fill="#c3393b"/><rect x="431" y="80.13" width="8" height="3.19" fill="#c8433f"/><rect x="431" y="83.02" width="8" height="3.19" fill="#cc4d44"/><rect x="431" y="85.91" width="8" height="3.19" fill="#d25749"/><rect x="431" y="88.79" width="8" height="3.19" fill="#d6614e"/><rect x="431" y="91.68" width="8" height="3.19" fill="#db6b55"/><rect x="431" y="94.57" width="8" height="3.19" fill="#df745c"/><rect x="431" y="97.46" width="8" height="3.19" fill="#e37e64"/><rect x="431" y="100.35" width="8" height="3.19" fill="#e7876b"/><rect x="431" y="103.24" width="8" height="3.19" fill="#eb9173"/><rect x="431" y="106.13" width="8" height="3.19" fill="#ef9a7a"/><rect x="431" y="109.02" width="8" height="3.19" fill="#f4a481"/><rect x="431" y="111.91" width="8" height="3.19" fill="#f5ac8b"/><rect x="431" y="114.79" width="8" height="3.19" fill="#f6b394"/><rect x="431" y="117.68" width="8" height="3.19" fill="#f8bb9e"/><rect x="431" y="120.57" width="8" height="3.19" fill="#f9c2a7"/><rect x="431" y="123.46" width="8" height="3.19" fill="#facab1"/><rect x="431" y="126.35" width="8" height="3.19" fill="#fbd1bb"/><rect x="431" y="129.24" width="8" height="3.19" fill="#fdd9c4"/><rect x="431" y="132.13" width="8" height="3.19" fill="#fcdecc"/><rect x="431" y="135.02" width="8" height="3.19" fill="#fce2d2"/><rect x="431" y="137.91" width="8" height="3.19" fill="#fbe6d9"/><rect x="431" y="140.79" width="8" height="3.19" fill="#fae9e0"/><rect x="431" y="143.68" width="8" height="3.19" fill="#f9ede6"/><rect x="431" y="146.57" width="8" height="3.19" fill="#f8f1ed"/><rect x="431" y="149.46" width="8" height="3.19" fill="#f7f5f4"/><rect x="431" y="152.35" width="8" height="3.19" fill="#f4f6f7"/><rect x="431" y="155.24" width="8" height="3.19" fill="#eff3f6"/><rect x="431" y="158.13" width="8" height="3.19" fill="#eaf1f5"/><rect x="431" y="161.02" width="8" height="3.19" fill="#e5eef4"/><rect x="431" y="163.91" width="8" height="3.19" fill="#dfecf3"/><rect x="431" y="166.79" width="8" height="3.19" fill="#dae9f2"/><rect x="431" y="169.68" width="8" height="3.19" fill="#d5e7f1"/><rect x="431" y="172.57" width="8" height="3.19" fill="#cee4ef"/><rect x="431" y="175.46" width="8" height="3.19" fill="#c6dfed"/><rect x="431" y="178.35" width="8" height="3.19" fill="#bddbea"/><rect x="431" y="181.24" width="8" height="3.19" fill="#b4d6e8"/><rect x="431" y="184.13" width="8" height="3.19" fill="#abd2e5"/><rect x="431" y="187.02" width="8" height="3.19" fill="#a3cde3"/><rect x="431" y="189.91" width="8" height="3.19" fill="#9ac9e0"/><rect x="431" y="192.79" width="8" height="3.19" fill="#91c4de"/><rect x="431" y="195.68" width="8" height="3.19" fill="#86bdda"/><rect x="431" y="198.57" width="8" height="3.19" fill="#7bb6d6"/><rect x="431" y="201.46" width="8" height="3.19" fill="#70afd2"/><rect x="431" y="204.35" width="8" height="3.19" fill="#65a9cf"/><rect x="431" y="207.24" width="8" height="3.19" fill="#5aa2cb"/><rect x="431" y="210.13" width="8" height="3.19" fill="#4f9bc7"/><rect x="431" y="213.02" width="8" height="3.19" fill="#4494c3"/><rect x="431" y="215.91" width="8" height="3.19" fill="#3f8dc0"/><rect x="431" y="218.79" width="8" height="3.19" fill="#3a87bd"/><rect x="431" y="221.68" width="8" height="3.19" fill="#3581ba"/><rect x="431" y="224.57" width="8" height="3.19" fill="#317bb7"/><rect x="431" y="227.46" width="8" height="3.19" fill="#2c74b3"/><rect x="431" y="230.35" width="8" height="3.19" fill="#276eb0"/><rect x="431" y="233.24" width="8" height="3.19" fill="#2268ad"/><rect x="431" y="236.13" width="8" height="3.19" fill="#1e61a5"/><rect x="431" y="239.02" width="8" height="3.19" fill="#1a599a"/><rect x="431" y="241.91" width="8" height="3.19" fill="#165290"/><rect x="431" y="244.79" width="8" height="3.19" fill="#134a85"/><rect x="431" y="247.68" width="8" height="3.19" fill="#0f437b"/><rect x="431" y="250.57" width="8" height="3.19" fill="#0b3b71"/><rect x="431" y="253.46" width="8" height="3.19" fill="#073466"/><polygon points="431,48.9 435,38 439,48.9" fill="#67001f"/><polygon points="431,256.1 435,266.5 439,256.1" fill="#053061"/><polygon points="431,48.5 435,38 439,48.5 439,256.5 435,266.5 431,256.5" class="cbo"/><path d="M439 48.5h1.8" class="tk"/><path d="M439 74.5h1.8" class="tk"/><path d="M439 100.5h1.8" class="tk"/><path d="M439 126.5h1.8" class="tk"/><path d="M439 152.5h1.8" class="tk"/><path d="M439 178.5h1.8" class="tk"/><path d="M439 204.5h1.8" class="tk"/><path d="M439 230.5h1.8" class="tk"/><path d="M439 256.5h1.8" class="tk"/><rect x="86.6" y="15.75" width="5" height="1.31" fill="#fcfabc"/><rect x="86.6" y="16.76" width="5" height="1.31" fill="#fcf3b6"/><rect x="86.6" y="17.78" width="5" height="1.31" fill="#fdedaf"/><rect x="86.6" y="18.79" width="5" height="1.31" fill="#fde7a9"/><rect x="86.6" y="19.8" width="5" height="1.31" fill="#fde0a3"/><rect x="86.6" y="20.81" width="5" height="1.31" fill="#feda9d"/><rect x="86.6" y="21.83" width="5" height="1.31" fill="#fed396"/><rect x="86.6" y="22.84" width="5" height="1.31" fill="#fecd90"/><rect x="86.6" y="23.85" width="5" height="1.31" fill="#fec68b"/><rect x="86.6" y="24.86" width="5" height="1.31" fill="#fec086"/><rect x="86.6" y="25.88" width="5" height="1.31" fill="#feb981"/><rect x="86.6" y="26.89" width="5" height="1.31" fill="#feb27c"/><rect x="86.6" y="27.9" width="5" height="1.31" fill="#feac77"/><rect x="86.6" y="28.91" width="5" height="1.31" fill="#fea572"/><rect x="86.6" y="29.93" width="5" height="1.31" fill="#fe9e6d"/><rect x="86.6" y="30.94" width="5" height="1.31" fill="#fd986a"/><rect x="86.6" y="31.95" width="5" height="1.31" fill="#fc9168"/><rect x="86.6" y="32.96" width="5" height="1.31" fill="#fb8b66"/><rect x="86.6" y="33.98" width="5" height="1.31" fill="#fa8463"/><rect x="86.6" y="34.99" width="5" height="1.31" fill="#f97e61"/><rect x="86.6" y="36" width="5" height="1.31" fill="#f8775f"/><rect x="86.6" y="37.01" width="5" height="1.31" fill="#f7715c"/><rect x="86.6" y="38.02" width="5" height="1.31" fill="#f46b5e"/><rect x="86.6" y="39.04" width="5" height="1.31" fill="#f0665f"/><rect x="86.6" y="40.05" width="5" height="1.31" fill="#ed6061"/><rect x="86.6" y="41.06" width="5" height="1.31" fill="#e95b62"/><rect x="86.6" y="42.08" width="5" height="1.31" fill="#e65564"/><rect x="86.6" y="43.09" width="5" height="1.31" fill="#e35066"/><rect x="86.6" y="44.1" width="5" height="1.31" fill="#df4b68"/><rect x="86.6" y="45.11" width="5" height="1.31" fill="#da476a"/><rect x="86.6" y="46.12" width="5" height="1.31" fill="#d5456c"/><rect x="86.6" y="47.14" width="5" height="1.31" fill="#cf426e"/><rect x="86.6" y="48.15" width="5" height="1.31" fill="#ca4071"/><rect x="86.6" y="49.16" width="5" height="1.31" fill="#c53d73"/><rect x="86.6" y="50.17" width="5" height="1.31" fill="#bf3b75"/><rect x="86.6" y="51.19" width="5" height="1.31" fill="#ba3878"/><rect x="86.6" y="52.2" width="5" height="1.31" fill="#b4367a"/><rect x="86.6" y="53.21" width="5" height="1.31" fill="#ae347b"/><rect x="86.6" y="54.23" width="5" height="1.31" fill="#a8327c"/><rect x="86.6" y="55.24" width="5" height="1.31" fill="#a2307d"/><rect x="86.6" y="56.25" width="5" height="1.31" fill="#9c2e7e"/><rect x="86.6" y="57.26" width="5" height="1.31" fill="#962c7f"/><rect x="86.6" y="58.27" width="5" height="1.31" fill="#902a80"/><rect x="86.6" y="59.29" width="5" height="1.31" fill="#8a2881"/><rect x="86.6" y="60.3" width="5" height="1.31" fill="#852681"/><rect x="86.6" y="61.31" width="5" height="1.31" fill="#7f2481"/><rect x="86.6" y="62.32" width="5" height="1.31" fill="#7a2281"/><rect x="86.6" y="63.34" width="5" height="1.31" fill="#742080"/><rect x="86.6" y="64.35" width="5" height="1.31" fill="#6f1e80"/><rect x="86.6" y="65.36" width="5" height="1.31" fill="#691c80"/><rect x="86.6" y="66.38" width="5" height="1.31" fill="#631a80"/><rect x="86.6" y="67.39" width="5" height="1.31" fill="#5e187e"/><rect x="86.6" y="68.4" width="5" height="1.31" fill="#58177b"/><rect x="86.6" y="69.41" width="5" height="1.31" fill="#521579"/><rect x="86.6" y="70.42" width="5" height="1.31" fill="#4d1477"/><rect x="86.6" y="71.44" width="5" height="1.31" fill="#471275"/><rect x="86.6" y="72.45" width="5" height="1.31" fill="#411172"/><rect x="86.6" y="73.46" width="5" height="1.31" fill="#3c0f70"/><rect x="86.6" y="74.47" width="5" height="1.31" fill="#360f69"/><rect x="86.6" y="75.49" width="5" height="1.31" fill="#310f61"/><rect x="86.6" y="76.5" width="5" height="1.31" fill="#2b0f59"/><rect x="86.6" y="77.51" width="5" height="1.31" fill="#260e51"/><rect x="86.6" y="78.52" width="5" height="1.31" fill="#200e49"/><rect x="86.6" y="79.54" width="5" height="1.31" fill="#1b0e40"/><rect x="86.6" y="80.55" width="5" height="1.31" fill="#160e38"/><rect x="86.6" y="81.56" width="5" height="1.31" fill="#120d31"/><rect x="86.6" y="82.58" width="5" height="1.31" fill="#0f0b2a"/><rect x="86.6" y="83.59" width="5" height="1.31" fill="#0c0923"/><rect x="86.6" y="84.6" width="5" height="1.31" fill="#0a071c"/><rect x="86.6" y="85.61" width="5" height="1.31" fill="#070515"/><rect x="86.6" y="86.62" width="5" height="1.31" fill="#04030e"/><rect x="86.6" y="87.64" width="5" height="1.31" fill="#010107"/><polygon points="86.6,16.3 89.1,12.3 91.6,16.3" fill="#fcfdbf"/><polygon points="86.6,88.4 89.1,92.3 91.6,88.4" fill="#000004"/><polygon points="86.6,15.9 89.1,12.3 91.6,15.9 91.6,88.8 89.1,92.3 86.6,88.8" class="cbo"/><path d="M91.6 15.9h1.8" class="tk"/><path d="M91.6 25.01h1.8" class="tk"/><path d="M91.6 34.12h1.8" class="tk"/><path d="M91.6 43.24h1.8" class="tk"/><path d="M91.6 52.35h1.8" class="tk"/><path d="M91.6 61.46h1.8" class="tk"/><path d="M91.6 70.58h1.8" class="tk"/><path d="M91.6 79.69h1.8" class="tk"/><path d="M91.6 88.8h1.8" class="tk"/></svg>
<div class="t" style="left:-12.25px;top:2.50px">(a) AGCD</div>
<div class="t" style="left:236.75px;top:2.50px">(b) Ensemble-R3</div>
<div class="t" style="left:319.75px;top:2.50px">(c) Ensemble-R5</div>
<div class="t" style="left:-12.25px;top:96.20px">(d) ACCESS-ESM1-5 R3</div>
<div class="t" style="left:70.75px;top:96.20px">(e) EC-Earth3-Veg R3</div>
<div class="t" style="left:153.75px;top:96.20px">(f) MPI-ESM1-2-HR R3</div>
<div class="t" style="left:236.75px;top:96.20px">(g) NorESM2-MM R3</div>
<div class="t" style="left:319.75px;top:96.20px">(h) UKESM1-0-LL R3</div>
<div class="t" style="left:-12.25px;top:189.90px">(i) ACCESS-ESM1-5 R5</div>
<div class="t" style="left:70.75px;top:189.90px">(j) EC-Earth3-Veg R5</div>
<div class="t" style="left:153.75px;top:189.90px">(k) MPI-ESM1-2-HR R5</div>
<div class="t" style="left:236.75px;top:189.90px">(l) NorESM2-MM R5</div>
<div class="t" style="left:319.75px;top:189.90px">(m) UKESM1-0-LL R5</div>
<div class="ll" style="left:-14.80px;top:10.10px">29°S</div>
<div class="ll" style="left:-14.80px;top:19.30px">30°S</div>
<div class="ll" style="left:-14.80px;top:28.50px">31°S</div>
<div class="ll" style="left:-14.80px;top:37.70px">32°S</div>
<div class="ll" style="left:-14.80px;top:46.90px">33°S</div>
<div class="ll" style="left:-14.80px;top:56.10px">34°S</div>
<div class="ll" style="left:-14.80px;top:65.30px">35°S</div>
<div class="ll" style="left:-14.80px;top:74.50px">36°S</div>
<div class="ll" style="left:-14.80px;top:83.70px">37°S</div>
<div class="ll" style="left:234.00px;top:10.10px">29°S</div>
<div class="ll" style="left:234.00px;top:19.30px">30°S</div>
<div class="ll" style="left:234.00px;top:28.50px">31°S</div>
<div class="ll" style="left:234.00px;top:37.70px">32°S</div>
<div class="ll" style="left:234.00px;top:46.90px">33°S</div>
<div class="ll" style="left:234.00px;top:56.10px">34°S</div>
<div class="ll" style="left:234.00px;top:65.30px">35°S</div>
<div class="ll" style="left:234.00px;top:74.50px">36°S</div>
<div class="ll" style="left:234.00px;top:83.70px">37°S</div>
<div class="ll" style="left:-14.80px;top:103.80px">29°S</div>
<div class="ll" style="left:-14.80px;top:113.00px">30°S</div>
<div class="ll" style="left:-14.80px;top:122.20px">31°S</div>
<div class="ll" style="left:-14.80px;top:131.40px">32°S</div>
<div class="ll" style="left:-14.80px;top:140.60px">33°S</div>
<div class="ll" style="left:-14.80px;top:149.80px">34°S</div>
<div class="ll" style="left:-14.80px;top:159.00px">35°S</div>
<div class="ll" style="left:-14.80px;top:168.20px">36°S</div>
<div class="ll" style="left:-14.80px;top:177.40px">37°S</div>
<div class="ll" style="left:-14.80px;top:197.50px">29°S</div>
<div class="ll" style="left:-14.80px;top:206.70px">30°S</div>
<div class="ll" style="left:-14.80px;top:215.90px">31°S</div>
<div class="ll" style="left:-14.80px;top:225.10px">32°S</div>
<div class="ll" style="left:-14.80px;top:234.30px">33°S</div>
<div class="ll" style="left:-14.80px;top:243.50px">34°S</div>
<div class="ll" style="left:-14.80px;top:252.70px">35°S</div>
<div class="ll" style="left:-14.80px;top:261.90px">36°S</div>
<div class="ll" style="left:-14.80px;top:271.10px">37°S</div>
<div class="lo" style="left:8.80px;top:283.80px">148°E</div>
<div class="lo" style="left:23.50px;top:283.80px">150°E</div>
<div class="lo" style="left:38.20px;top:283.80px">152°E</div>
<div class="lo" style="left:52.90px;top:283.80px">154°E</div>
<div class="lo" style="left:91.80px;top:283.80px">148°E</div>
<div class="lo" style="left:106.50px;top:283.80px">150°E</div>
<div class="lo" style="left:121.20px;top:283.80px">152°E</div>
<div class="lo" style="left:135.90px;top:283.80px">154°E</div>
<div class="lo" style="left:174.80px;top:283.80px">148°E</div>
<div class="lo" style="left:189.50px;top:283.80px">150°E</div>
<div class="lo" style="left:204.20px;top:283.80px">152°E</div>
<div class="lo" style="left:218.90px;top:283.80px">154°E</div>
<div class="lo" style="left:257.80px;top:283.80px">148°E</div>
<div class="lo" style="left:272.50px;top:283.80px">150°E</div>
<div class="lo" style="left:287.20px;top:283.80px">152°E</div>
<div class="lo" style="left:301.90px;top:283.80px">154°E</div>
<div class="lo" style="left:340.80px;top:283.80px">148°E</div>
<div class="lo" style="left:355.50px;top:283.80px">150°E</div>
<div class="lo" style="left:370.20px;top:283.80px">152°E</div>
<div class="lo" style="left:384.90px;top:283.80px">154°E</div>
<div class="cl" style="left:443.00px;top:45.15px">6.0</div>
<div class="cl" style="left:443.00px;top:71.15px">4.5</div>
<div class="cl" style="left:443.00px;top:97.15px">3.0</div>
<div class="cl" style="left:443.00px;top:123.15px">1.5</div>
<div class="cl" style="left:443.00px;top:149.15px">0.0</div>
<div class="cl" style="left:443.00px;top:175.15px">−1.5</div>
<div class="cl" style="left:443.00px;top:201.15px">−3.0</div>
<div class="cl" style="left:443.00px;top:227.15px">−4.5</div>
<div class="cl" style="left:443.00px;top:253.15px">−6.0</div>
<div class="cl" style="left:95.80px;top:12.55px">36</div>
<div class="cl" style="left:95.80px;top:21.66px">33</div>
<div class="cl" style="left:95.80px;top:30.77px">30</div>
<div class="cl" style="left:95.80px;top:39.89px">27</div>
<div class="cl" style="left:95.80px;top:49.00px">24</div>
<div class="cl" style="left:95.80px;top:58.11px">21</div>
<div class="cl" style="left:95.80px;top:67.23px">18</div>
<div class="cl" style="left:95.80px;top:76.34px">15</div>
<div class="cl" style="left:95.80px;top:85.45px">12</div>
<div class="cbt" style="left:467.2px;top:117.5px">TASMAX BIAS DJF (C)</div>
</div></body></html>
